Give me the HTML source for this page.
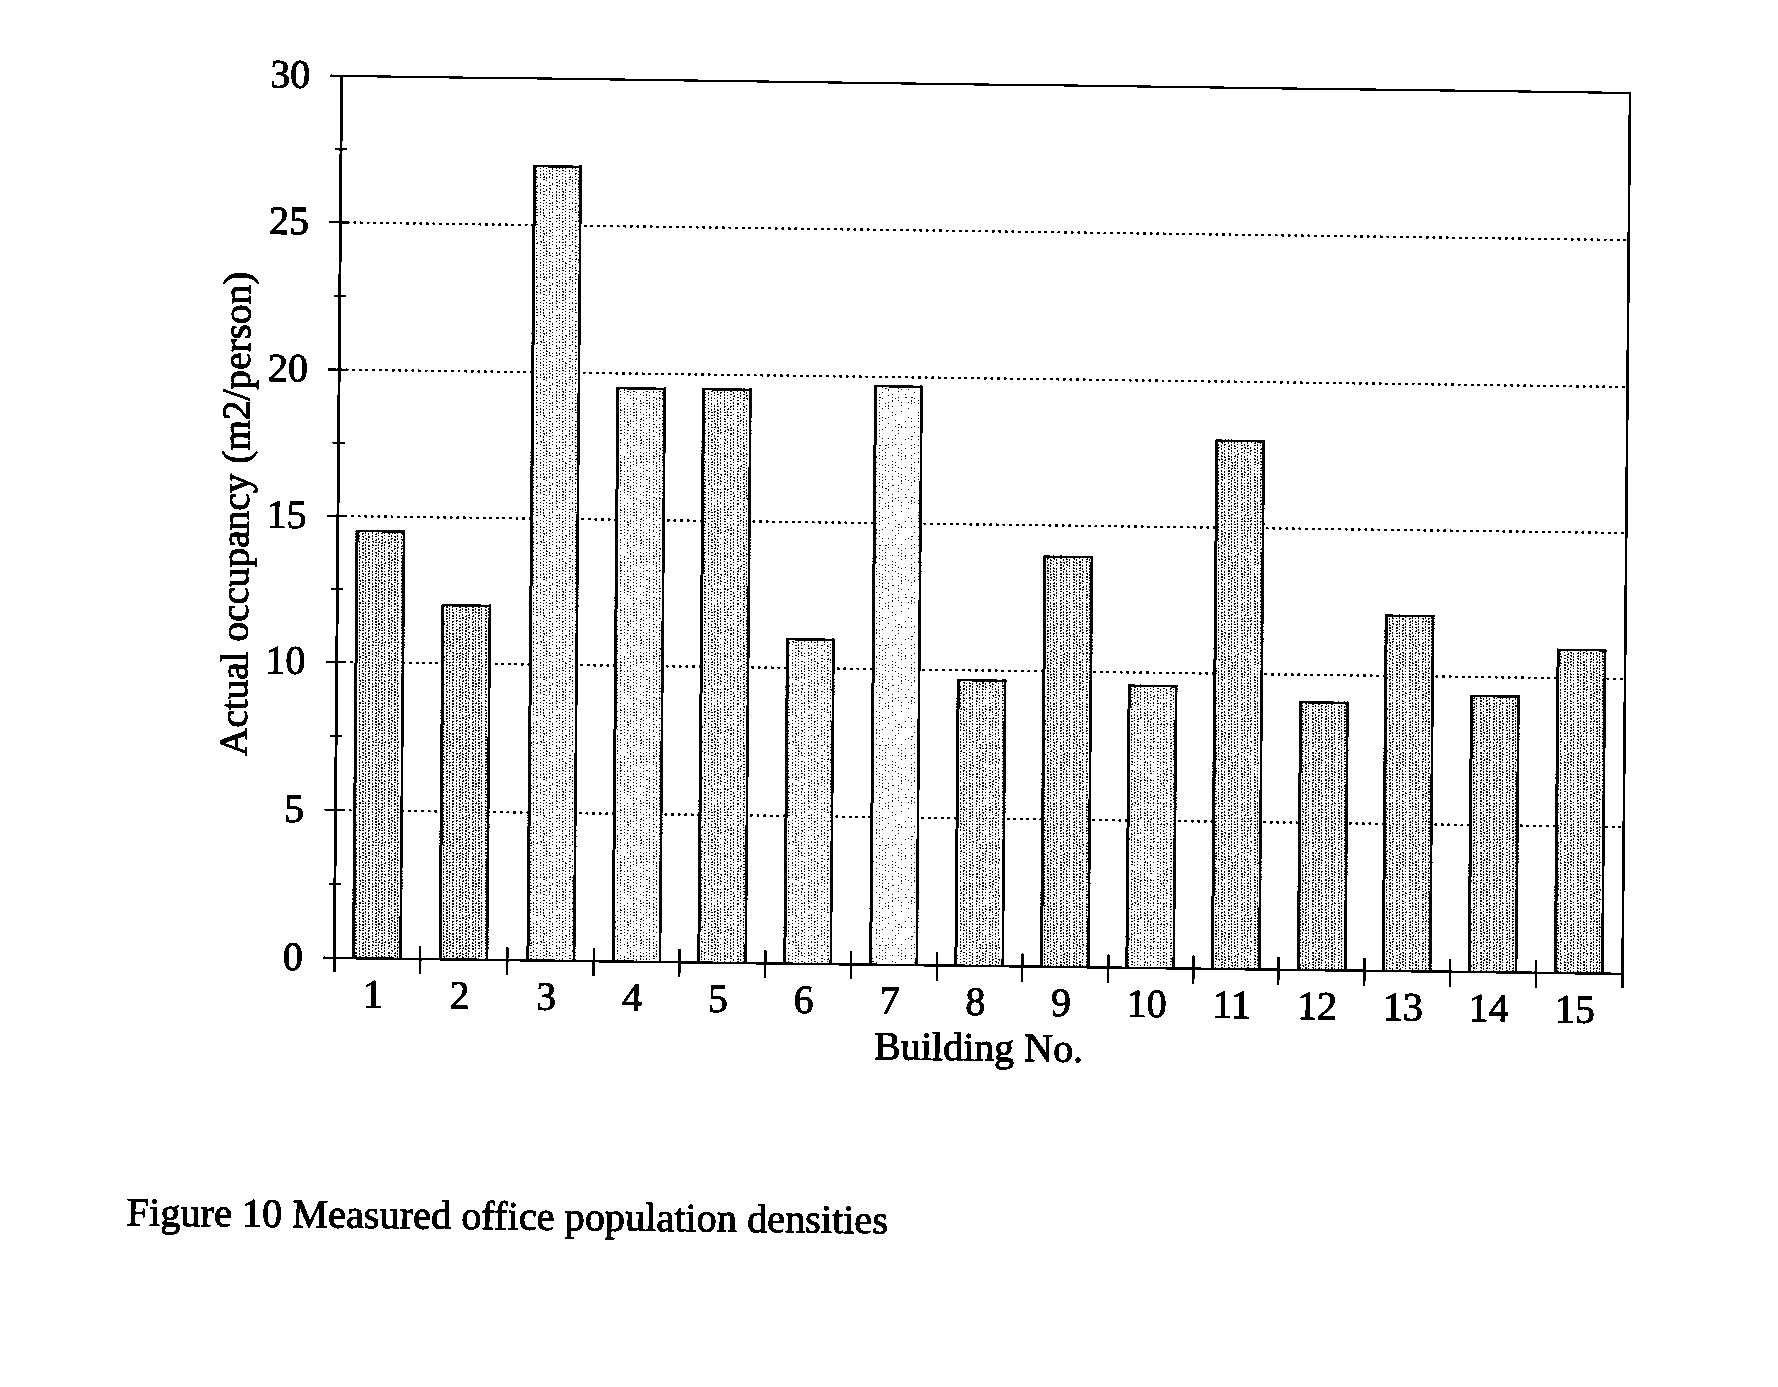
<!DOCTYPE html>
<html><head><meta charset="utf-8"><title>Figure 10 Measured office population densities</title>
<style>
html,body{margin:0;padding:0;background:#fff;}
body{width:1778px;height:1387px;overflow:hidden;font-family:"Liberation Serif",serif;}
svg{display:block;}
text{font-family:"Liberation Serif",serif;fill:#000;stroke:#000;stroke-width:0.8px;stroke-linejoin:round;}
</style></head><body>
<svg width="1778" height="1387" viewBox="0 0 1778 1387">
<defs>
<filter id="thr" x="0" y="0" width="1778" height="1387" filterUnits="userSpaceOnUse" color-interpolation-filters="sRGB"><feColorMatrix type="matrix" values="0.33 0.34 0.33 0 0 0.33 0.34 0.33 0 0 0.33 0.34 0.33 0 0 0 0 0 1 0"/><feComponentTransfer><feFuncR type="discrete" tableValues="0 0 0 1 1"/><feFuncG type="discrete" tableValues="0 0 0 1 1"/><feFuncB type="discrete" tableValues="0 0 0 1 1"/></feComponentTransfer></filter>
<pattern id="p4" width="84" height="100" patternUnits="userSpaceOnUse"><path d="M0 3h1v1h-1zM0 9h1v1h-1zM0 18h1v1h-1zM0 21h1v1h-1zM0 30h1v1h-1zM0 36h1v1h-1zM0 45h1v1h-1zM0 55h1v1h-1zM0 70h1v1h-1zM0 73h1v1h-1zM0 76h1v1h-1zM0 91h1v1h-1zM0 97h1v1h-1zM3 14h1v1h-1zM3 17h1v1h-1zM3 29h1v1h-1zM3 32h1v2h-1zM3 35h1v1h-1zM3 41h1v2h-1zM3 47h1v1h-1zM3 59h1v1h-1zM3 65h1v1h-1zM3 80h1v1h-1zM3 83h1v1h-1zM3 98h1v1h-1zM6 9h1v1h-1zM6 12h1v2h-1zM6 18h1v1h-1zM6 21h1v1h-1zM6 30h1v1h-1zM6 36h1v1h-1zM6 39h1v1h-1zM6 42h1v1h-1zM6 52h2v1h-2zM6 58h1v1h-1zM6 61h1v1h-1zM6 73h1v1h-1zM6 79h1v1h-1zM6 85h1v1h-1zM6 91h1v1h-1zM10 2h1v1h-1zM10 8h1v1h-1zM10 14h1v1h-1zM10 20h1v1h-1zM10 23h1v1h-1zM10 35h1v1h-1zM10 56h1v1h-1zM10 86h1v1h-1zM10 89h1v1h-1zM10 98h1v2h-1zM13 9h1v1h-1zM13 15h1v1h-1zM13 21h1v1h-1zM13 24h1v1h-1zM13 33h1v2h-1zM13 36h1v1h-1zM13 55h1v1h-1zM13 61h1v1h-1zM13 67h1v1h-1zM13 73h1v1h-1zM13 76h1v1h-1zM13 79h1v1h-1zM13 85h1v1h-1zM13 88h1v1h-1zM13 94h2v1h-2zM16 5h1v1h-1zM16 14h1v1h-1zM16 20h1v1h-1zM16 32h1v1h-1zM16 38h1v1h-1zM16 41h1v1h-1zM16 59h1v1h-1zM16 62h1v1h-1zM16 65h1v2h-1zM16 68h1v1h-1zM16 71h1v1h-1zM16 77h1v1h-1zM16 95h1v1h-1zM19 0h1v1h-1zM19 6h1v1h-1zM19 12h1v1h-1zM19 18h1v1h-1zM19 21h1v1h-1zM19 33h1v1h-1zM19 36h1v1h-1zM19 42h1v1h-1zM19 55h1v1h-1zM19 61h1v1h-1zM19 70h1v1h-1zM19 79h1v1h-1zM19 91h1v1h-1zM19 97h1v1h-1zM23 14h1v1h-1zM23 17h1v1h-1zM23 20h1v1h-1zM23 32h1v1h-1zM23 35h1v1h-1zM23 38h1v1h-1zM23 41h1v1h-1zM23 53h1v1h-1zM23 65h1v1h-1zM23 83h1v2h-1zM26 0h2v1h-2zM26 3h2v1h-2zM26 15h1v1h-1zM26 18h1v1h-1zM26 21h1v1h-1zM26 33h1v1h-1zM26 42h1v1h-1zM26 70h1v1h-1zM26 73h1v2h-1zM26 79h1v1h-1zM26 82h1v1h-1zM26 85h1v1h-1zM26 88h2v1h-2zM26 94h1v1h-1zM26 97h1v1h-1zM29 2h1v1h-1zM29 5h1v1h-1zM29 8h1v1h-1zM29 26h1v1h-1zM29 38h1v1h-1zM29 50h1v1h-1zM29 53h1v1h-1zM29 62h1v1h-1zM29 65h1v1h-1zM29 68h1v1h-1zM29 71h1v1h-1zM29 74h1v1h-1zM29 77h1v1h-1zM29 80h1v1h-1zM29 86h1v1h-1zM29 89h1v1h-1zM29 98h1v2h-1zM32 0h1v1h-1zM32 3h1v1h-1zM32 6h1v1h-1zM32 12h1v1h-1zM32 15h1v1h-1zM32 27h1v1h-1zM32 48h1v1h-1zM32 58h1v1h-1zM32 61h2v1h-2zM32 64h1v1h-1zM32 67h1v1h-1zM32 76h1v1h-1zM32 79h1v1h-1zM32 82h1v1h-1zM32 97h1v1h-1zM36 11h1v1h-1zM36 17h1v1h-1zM36 23h1v1h-1zM36 29h1v2h-1zM36 32h1v2h-1zM36 38h1v1h-1zM36 44h1v1h-1zM36 56h1v2h-1zM36 62h1v1h-1zM36 68h1v1h-1zM36 71h1v1h-1zM36 74h1v1h-1zM36 86h1v1h-1zM36 92h1v1h-1zM39 0h1v1h-1zM39 3h1v1h-1zM39 6h1v1h-1zM39 12h1v1h-1zM39 15h1v1h-1zM39 18h1v1h-1zM39 21h1v1h-1zM39 24h1v1h-1zM39 30h1v1h-1zM39 33h1v1h-1zM39 36h1v1h-1zM39 45h2v1h-2zM39 48h1v1h-1zM39 52h1v1h-1zM39 55h1v1h-1zM39 58h1v1h-1zM39 64h1v1h-1zM39 73h1v1h-1zM39 76h1v1h-1zM39 79h1v1h-1zM39 82h1v1h-1zM39 85h1v1h-1zM39 94h1v1h-1zM39 97h2v1h-2zM42 8h1v1h-1zM42 17h1v1h-1zM42 20h1v1h-1zM42 29h1v1h-1zM42 38h1v1h-1zM42 41h1v1h-1zM42 50h1v1h-1zM42 56h1v1h-1zM42 59h1v1h-1zM42 65h1v1h-1zM42 74h1v1h-1zM42 77h1v1h-1zM42 80h1v1h-1zM42 83h1v1h-1zM42 86h1v2h-1zM42 92h1v1h-1zM42 98h1v1h-1zM45 3h1v1h-1zM45 6h1v1h-1zM45 18h1v1h-1zM45 27h1v1h-1zM45 45h2v1h-2zM45 48h1v1h-1zM45 52h1v1h-1zM45 55h1v1h-1zM45 58h1v1h-1zM45 64h1v1h-1zM45 67h1v1h-1zM45 70h1v1h-1zM45 76h1v1h-1zM45 79h1v1h-1zM45 88h2v1h-2zM48 2h1v1h-1zM48 5h1v2h-1zM48 8h1v1h-1zM48 17h1v1h-1zM48 23h1v1h-1zM48 38h1v1h-1zM48 44h1v1h-1zM48 47h1v1h-1zM48 65h1v1h-1zM48 71h1v1h-1zM48 83h1v1h-1zM48 86h1v1h-1zM48 89h1v2h-1zM48 95h1v1h-1zM52 0h1v2h-1zM52 6h1v1h-1zM52 12h1v1h-1zM52 15h1v1h-1zM52 30h1v1h-1zM52 39h1v1h-1zM52 42h1v1h-1zM52 45h1v1h-1zM52 55h1v1h-1zM52 61h1v1h-1zM52 64h1v1h-1zM52 67h1v1h-1zM52 70h1v1h-1zM52 76h1v1h-1zM52 79h1v1h-1zM52 85h2v1h-2zM52 94h1v1h-1zM52 97h1v1h-1zM55 14h1v1h-1zM55 20h1v1h-1zM55 26h1v1h-1zM55 35h1v1h-1zM55 38h1v1h-1zM55 44h1v1h-1zM55 62h1v1h-1zM55 65h1v1h-1zM55 71h1v1h-1zM55 98h1v1h-1zM58 0h1v1h-1zM58 24h2v1h-2zM58 27h1v1h-1zM58 30h1v1h-1zM58 33h1v1h-1zM58 48h1v1h-1zM58 52h1v1h-1zM58 55h1v1h-1zM58 67h1v1h-1zM58 73h1v1h-1zM58 76h1v1h-1zM58 85h1v1h-1zM58 88h1v1h-1zM58 91h1v1h-1zM58 97h1v1h-1zM61 2h1v1h-1zM61 5h1v1h-1zM61 11h1v1h-1zM61 26h1v2h-1zM61 44h1v1h-1zM61 50h1v1h-1zM61 53h1v1h-1zM61 56h1v1h-1zM61 59h1v1h-1zM61 68h1v1h-1zM61 74h1v1h-1zM61 77h1v1h-1zM61 80h1v2h-1zM61 83h1v1h-1zM61 89h1v1h-1zM65 21h1v1h-1zM65 27h1v1h-1zM65 39h1v1h-1zM65 48h1v1h-1zM65 55h1v2h-1zM65 58h1v1h-1zM65 67h1v1h-1zM65 76h1v1h-1zM65 79h1v1h-1zM65 94h1v1h-1zM65 97h2v1h-2zM68 2h1v1h-1zM68 8h1v1h-1zM68 17h1v1h-1zM68 38h1v1h-1zM68 80h1v1h-1zM68 89h1v1h-1zM71 0h1v2h-1zM71 3h1v1h-1zM71 18h1v1h-1zM71 21h1v1h-1zM71 27h1v1h-1zM71 36h2v1h-2zM71 39h1v1h-1zM71 45h1v1h-1zM71 48h1v1h-1zM71 55h1v1h-1zM71 58h1v1h-1zM71 64h1v1h-1zM71 67h1v2h-1zM71 70h1v1h-1zM71 73h1v1h-1zM71 82h1v1h-1zM71 85h1v1h-1zM71 97h2v1h-2zM74 2h1v1h-1zM74 26h1v1h-1zM74 32h1v1h-1zM74 44h1v1h-1zM74 47h1v1h-1zM74 53h1v1h-1zM74 62h1v1h-1zM74 68h1v1h-1zM74 71h1v1h-1zM74 77h1v1h-1zM74 80h1v2h-1zM74 92h1v1h-1zM74 98h1v1h-1zM78 0h1v1h-1zM78 3h1v1h-1zM78 12h1v1h-1zM78 15h1v1h-1zM78 18h1v1h-1zM78 21h1v1h-1zM78 27h1v1h-1zM78 36h1v1h-1zM78 39h1v1h-1zM78 45h1v1h-1zM78 52h1v1h-1zM78 58h1v1h-1zM78 61h1v2h-1zM78 73h1v1h-1zM78 76h1v1h-1zM78 79h1v1h-1zM81 5h1v1h-1zM81 8h1v1h-1zM81 11h1v2h-1zM81 14h1v2h-1zM81 35h1v2h-1zM81 38h1v1h-1zM81 41h1v1h-1zM81 62h1v1h-1zM81 65h1v1h-1zM81 71h1v1h-1zM81 83h1v1h-1zM81 86h1v1h-1zM81 92h1v1h-1z" fill="#000" shape-rendering="crispEdges"/></pattern>
<pattern id="p12" width="84" height="100" patternUnits="userSpaceOnUse"><path d="M0 0h1v1h-1zM0 3m1 0h1v2h-2v-1h1zM0 9h1v2h-1zM0 12h1v1h-1zM0 15h1v1h-1zM0 18h1v1h1v1h-2zM0 21h1v1h-1zM0 24h1v1h-1zM0 27h1v1h-1zM0 30h1v1h-1zM0 33h1v2h-1zM0 36h1v2h-1zM0 39h1v1h-1zM0 42h2v1h-2zM0 45m1 0h1v2h-2v-1h1zM0 55h1v1h-1zM0 58h2v1h-2zM0 61h1v1h-1zM0 64h1v1h-1zM0 67h1v1h-1zM0 70h1v1h-1zM0 73h1v1h-1zM0 76h1v1h-1zM0 82h1v1h-1zM0 85h1v1h-1zM0 88h1v1h-1zM0 91h1v1h-1zM0 97h1v1h-1zM3 2h1v1h-1zM3 8h1v1h-1zM3 11h1v1h-1zM3 14h1v2h-1zM3 17h1v1h-1zM3 20h1v1h-1zM3 26h1v1h-1zM3 29h1v1h-1zM3 32h1v1h-1zM3 35h1v1h-1zM3 38h1v2h-1zM3 41h1v1h-1zM3 44h1v1h-1zM3 47h1v1h-1zM3 50h1v1h-1zM3 53h1v1h-1zM3 56h1v1h-1zM3 59h1v1h-1zM3 62h1v1h-1zM3 68h1v1h-1zM3 71h1v1h-1zM3 74h1v1h-1zM3 83h1v1h-1zM3 92h1v1h-1zM3 95h1v1h-1zM3 98h1v1h-1zM6 0h1v2h-1zM6 3h1v1h-1zM6 6h1v1h-1zM6 9h1v1h-1zM6 12h1v1h-1zM6 15h1v1h-1zM6 18h1v1h-1zM6 21h1v1h-1zM6 24h1v2h-1zM6 27h1v1h-1zM6 30h1v1h-1zM6 36h2v1h-2zM6 39h2v1h-2zM6 42h2v1h-2zM6 45h2v1h-2zM6 48h1v1h-1zM6 52h1v2h-1zM6 55h1v2h-1zM6 61h1v2h-1zM6 64h1v2h-1zM6 67h1v1h-1zM6 70m1 0h1v2h-2v-1h1zM6 73h2v2h-1v-1h-1zM6 79h2v1h-2zM6 85h1v1h-1zM6 88h1v1h-1zM6 91h1v1h-1zM6 97h1v1h-1zM10 2h1v1h-1zM10 5h1v1h-1zM10 8h1v1h-1zM10 14h1v1h-1zM10 17h1v1h-1zM10 20h1v2h-1zM10 23h1v2h-1zM10 29h1v2h-1zM10 32h1v1h-1zM10 38h1v2h-1zM10 41h1v1h-1zM10 44h1v1h-1zM10 47h1v1h-1zM10 50h1v1h-1zM10 53h1v1h-1zM10 56h1v1h-1zM10 59h1v2h-1zM10 62h1v1h-1zM10 65h1v2h-1zM10 68h1v2h-1zM10 77h1v1h-1zM10 86h1v1h-1zM10 89h1v1h-1zM10 92h1v1h-1zM10 95h1v1h-1zM10 98h1v2h-1zM13 0h2v1h-2zM13 3h1v1h-1zM13 6h1v1h-1zM13 9h1v1h-1zM13 12h1v2h-1zM13 15h1v1h-1zM13 18h1v1h-1zM13 21h1v1h-1zM13 24h1v1h-1zM13 27h2v1h-2zM13 30h1v1h-1zM13 33h2v1h-2zM13 36h1v1h-1zM13 39h1v1h-1zM13 45h1v1h-1zM13 48h1v1h-1zM13 52h1v2h-1zM13 55h2v1h-2zM13 58h1v1h-1zM13 61h1v1h-1zM13 64h2v1h-2zM13 67h2v1h-2zM13 70h1v1h-1zM13 73h1v1h-1zM13 76m1 0h1v2h-2v-1h1zM13 79h1v1h-1zM13 82h2v1h-2zM13 85h1v1h-1zM13 91h2v1h-2zM13 94h2v1h-2zM13 97h1v1h-1zM16 5h1v1h-1zM16 8h1v2h-1zM16 14h1v1h-1zM16 17h1v1h-1zM16 20h1v1h-1zM16 23h1v2h-1zM16 29h1v1h-1zM16 32h1v2h-1zM16 35h1v1h-1zM16 41h1v1h-1zM16 44h1v1h-1zM16 47h1v1h-1zM16 53h1v1h-1zM16 56h1v1h-1zM16 62h1v1h-1zM16 65h1v2h-1zM16 68h1v1h-1zM16 71h1v1h-1zM16 74h1v2h-1zM16 77h1v1h-1zM16 80h1v2h-1zM16 83h1v1h-1zM16 86h1v2h-1zM16 89h1v1h-1zM16 92h1v1h-1zM16 95h1v2h-1zM16 98h1v1h-1zM19 0h1v1h-1zM19 3h1v1h1v1h-2zM19 6h1v1h-1zM19 9h1v2h-1zM19 12h1v1h-1zM19 18h1v2h-1zM19 21h1v2h-1zM19 24h2v1h-2zM19 27h2v1h-2zM19 33h1v2h-1zM19 36h1v1h-1zM19 39h1v1h-1zM19 45h1v1h-1zM19 48h1v1h-1zM19 52h1v2h-1zM19 55h1v1h-1zM19 58h1v1h-1zM19 61h1v1h-1zM19 64h1v1h-1zM19 67h2v1h-2zM19 70h1v2h-1zM19 73h2v1h-2zM19 76h2v2h-1v-1h-1zM19 82h1v1h-1zM19 85h1v1h-1zM19 91h1v1h-1zM19 94h1v1h-1zM19 97h1v1h-1zM23 2h1v1h-1zM23 5h1v2h-1zM23 8h1v1h-1zM23 14h1v2h-1zM23 17h1v1h-1zM23 26h1v1h-1zM23 29h1v2h-1zM23 32h1v1h-1zM23 35h1v2h-1zM23 38h1v1h-1zM23 44h1v1h-1zM23 47h1v2h-1zM23 50h1v1h-1zM23 53h1v1h-1zM23 65h1v1h-1zM23 68h1v1h-1zM23 71h1v1h-1zM23 74h1v1h-1zM23 77h1v1h-1zM23 83h1v1h-1zM23 86h1v2h-1zM23 89h1v1h-1zM23 95h1v1h-1zM26 0h1v1h-1zM26 6h1v1h-1zM26 9h1v1h-1zM26 12h1v1h-1zM26 15h2v1h-2zM26 18h1v1h-1zM26 21h2v2h-1v-1h-1zM26 24h1v1h-1zM26 27h2v2h-1v-1h-1zM26 30h1v1h-1zM26 33h1v2h-1zM26 36h2v1h-2zM26 39h1v2h-1zM26 42h1v1h-1zM26 45h1v1h-1zM26 48h1v1h-1zM26 52h1v2h-1zM26 55h1v1h-1zM26 58h1v1h-1zM26 61h1v1h-1zM26 64h1v2h-1zM26 70h1v1h-1zM26 73h1v1h-1zM26 76h1v1h-1zM26 82h1v1h-1zM26 85h1v1h-1zM26 88h1v2h-1zM26 91h1v2h-1zM26 94h1v1h-1zM26 97h1v2h-1zM29 2h1v1h-1zM29 11h1v1h-1zM29 17h1v1h-1zM29 20h1v1h-1zM29 26h1v1h-1zM29 29h1v1h-1zM29 35h1v2h-1zM29 38h1v2h-1zM29 41h1v1h-1zM29 44h1v1h-1zM29 47h1v1h-1zM29 50h1v2h-1zM29 53h1v1h-1zM29 59h1v1h-1zM29 62h1v1h-1zM29 68h1v1h-1zM29 71h1v1h-1zM29 74h1v2h-1zM29 77h1v2h-1zM29 80h1v1h-1zM29 83h1v1h-1zM29 89h1v1h-1zM29 92h1v1h-1zM29 95h1v1h-1zM29 98h1v1h-1zM32 0h1v1h-1zM32 3h1v1h-1zM32 6h1v1h-1zM32 9h1v1h1v1h-2zM32 12h1v1h-1zM32 15h1v1h-1zM32 18h1v1h-1zM32 21h1v1h-1zM32 24h1v1h-1zM32 27h1v1h-1zM32 30h2v1h-2zM32 33h2v1h-2zM32 39h1v2h-1zM32 42h1v1h-1zM32 45h1v1h-1zM32 48h1v1h-1zM32 55h1v1h-1zM32 58h1v1h-1zM32 61h1v1h1v1h-2zM32 64h1v1h1v1h-2zM32 67h1v2h-1zM32 70h2v1h-1v1h-1zM32 73h1v1h-1zM32 76h2v1h-2zM32 79h1v2h-1zM32 82h1v2h-1zM32 85h1v1h-1zM32 91h1v1h-1zM32 94h1v1h-1zM32 97h1v1h-1zM36 5h1v1h-1zM36 8h1v2h-1zM36 11h1v2h-1zM36 14h1v1h-1zM36 17h1v1h-1zM36 20h1v2h-1zM36 26h1v1h-1zM36 29h1v1h-1zM36 32h1v1h-1zM36 35h1v1h-1zM36 38h1v1h-1zM36 44h1v1h-1zM36 56h1v2h-1zM36 59h1v1h-1zM36 62h1v2h-1zM36 65h1v1h-1zM36 71h1v1h-1zM36 74h1v1h-1zM36 80h1v1h-1zM36 83h1v2h-1zM36 86h1v1h-1zM36 89h1v2h-1zM36 92h1v1h-1zM36 98h1v1h-1zM39 3h1v1h-1zM39 6h1v1h-1zM39 9h1v1h-1zM39 12h1v1h-1zM39 15h1v1h-1zM39 18h1v1h-1zM39 21h1v1h1v1h-2zM39 24h2v2h-1v-1h-1zM39 27h1v1h-1zM39 30h2v1h-2zM39 33h1v1h-1zM39 39h1v1h-1zM39 42h1v2h-1zM39 45h2v1h-1v1h-1zM39 48h1v1h-1zM39 52h1v1h-1zM39 58h2v1h-2zM39 61h1v1h-1zM39 67h1v1h-1zM39 70h1v2h-1zM39 76h2v1h-2zM39 79h2v1h-2zM39 82h2v1h-2zM39 85h1v2h-1zM39 88h2v1h-2zM39 91h2v1h-2zM39 94h1v1h-1zM42 8h1v1h-1zM42 11h1v1h-1zM42 14h1v1h-1zM42 20h1v2h-1zM42 23h1v1h-1zM42 26h1v1h-1zM42 35h1v2h-1zM42 38h1v1h-1zM42 41h1v1h-1zM42 47h1v1h-1zM42 50h1v2h-1zM42 53h1v2h-1zM42 56h1v1h-1zM42 62h1v1h-1zM42 65h1v2h-1zM42 68h1v1h-1zM42 71h1v1h-1zM42 77h1v1h-1zM42 80h1v1h-1zM42 86h1v2h-1zM42 89h1v1h-1zM42 92h1v1h-1zM42 95h1v1h-1zM42 98h1v1h-1zM45 0h1v1h-1zM45 3h2v1h-1v1h-1zM45 6h1v1h-1zM45 9h2v1h-2zM45 12h2v1h-2zM45 15h2v1h-2zM45 21h1v1h-1zM45 27h1v1h-1zM45 30h1v1h-1zM45 33h2v1h-2zM45 36h2v1h-2zM45 39h1v1h-1zM45 42h1v1h-1zM45 45h2v1h-2zM45 52h1v1h-1zM45 55h1v2h-1zM45 58h1v1h-1zM45 61h1v1h-1zM45 64h1v1h-1zM45 70h1v1h-1zM45 73h1v2h-1zM45 76h2v1h-2zM45 79h1v1h-1zM45 82h1v1h-1zM45 85h1v1h-1zM45 88h1v1h-1zM45 91h2v1h-2zM45 94h1v1h-1zM45 97h1v2h-1zM48 5h1v1h-1zM48 8h1v1h-1zM48 11h1v2h-1zM48 14h1v2h-1zM48 17h1v2h-1zM48 20h1v1h-1zM48 23h1v1h-1zM48 29h1v2h-1zM48 32h1v1h-1zM48 35h1v1h-1zM48 38h1v2h-1zM48 41h1v1h-1zM48 44h1v1h-1zM48 50h1v1h-1zM48 56h1v1h-1zM48 59h1v2h-1zM48 62h1v2h-1zM48 65h1v1h-1zM48 71h1v1h-1zM48 74h1v1h-1zM48 77h1v1h-1zM48 80h1v1h-1zM48 83h1v1h-1zM48 86h1v1h-1zM48 92h1v1h-1zM48 98h1v2h-1zM52 0h1v2h-1zM52 3h2v1h-2zM52 6h1v1h-1zM52 9h1v1h-1zM52 12h1v1h-1zM52 18m1 0h1v2h-2v-1h1zM52 21h1v1h-1zM52 24h1v2h-1zM52 27h1v1h-1zM52 30h2v1h-2zM52 33h1v1h-1zM52 36h1v2h-1zM52 39m1 0h1v2h-2v-1h1zM52 42m1 0h1v2h-2v-1h1zM52 45h1v1h-1zM52 48h1v1h-1zM52 52h1v1h-1zM52 55h1v1h1v1h-2zM52 58h1v2h-1zM52 61m1 0h1v2h-2v-1h1zM52 67h1v1h-1zM52 73h1v1h-1zM52 76h2v1h-2zM52 79h1v1h-1zM52 82h1v1h-1zM52 85h1v2h-1zM52 94h1v1h-1zM55 2h1v1h-1zM55 5h1v1h-1zM55 14h1v1h-1zM55 17h1v1h-1zM55 20h1v1h-1zM55 23h1v1h-1zM55 26h1v1h-1zM55 32h1v1h-1zM55 35h1v1h-1zM55 41h1v1h-1zM55 44h1v1h-1zM55 47h1v1h-1zM55 53h1v1h-1zM55 56h1v1h-1zM55 59h1v1h-1zM55 62h1v1h-1zM55 65h1v1h-1zM55 68h1v1h-1zM55 71h1v1h-1zM55 74h1v1h-1zM55 77h1v1h-1zM55 86h1v1h-1zM55 92h1v1h-1zM55 95h1v1h-1zM58 0h2v1h-2zM58 3h2v1h-2zM58 6h1v1h-1zM58 9h1v1h-1zM58 12h1v1h-1zM58 15h1v1h-1zM58 18h1v1h-1zM58 24h1v1h-1zM58 33h1v1h-1zM58 36h1v1h-1zM58 39h2v1h-2zM58 42h1v1h-1zM58 45h1v1h-1zM58 48h1v1h-1zM58 52h1v1h-1zM58 55h1v1h-1zM58 58h1v2h-1zM58 61h2v1h-2zM58 64h1v1h-1zM58 70h2v1h-2zM58 76h1v1h-1zM58 79h2v1h-2zM58 85h1v1h-1zM58 88h2v1h-2zM58 91h2v1h-2zM58 94h1v2h-1zM58 97h1v1h-1zM61 2h1v2h-1zM61 5h1v2h-1zM61 8h1v1h-1zM61 14h1v2h-1zM61 17h1v1h-1zM61 23h1v1h-1zM61 26h1v1h-1zM61 29h1v2h-1zM61 32h1v1h-1zM61 35h1v1h-1zM61 38h1v2h-1zM61 41h1v2h-1zM61 44h1v2h-1zM61 47h1v2h-1zM61 50h1v1h-1zM61 53h1v1h-1zM61 56h1v1h-1zM61 59h1v1h-1zM61 62h1v1h-1zM61 68h1v1h-1zM61 71h1v1h-1zM61 77h1v2h-1zM61 80h1v2h-1zM61 83h1v1h-1zM61 86h1v2h-1zM61 89h1v1h-1zM61 92h1v1h-1zM61 95h1v1h-1zM61 98h1v1h-1zM65 0h1v1h-1zM65 3h1v2h-1zM65 6h1v1h1v1h-2zM65 9h1v1h-1zM65 12h1v2h-1zM65 15h1v1h-1zM65 18h1v2h-1zM65 21h1v1h-1zM65 24h2v1h-2zM65 27h1v1h-1zM65 30h1v2h-1zM65 36h2v1h-2zM65 39h1v1h-1zM65 42h1v2h-1zM65 45h1v1h-1zM65 48h2v1h-2zM65 52h1v1h-1zM65 55h1v1h1v1h-2zM65 58h2v1h-2zM65 61h1v2h-1zM65 64h1v1h-1zM65 70h1v1h-1zM65 73h1v1h-1zM65 76h1v1h-1zM65 79h2v1h-2zM65 82h1v1h-1zM65 85h1v1h-1zM65 88h2v1h-2zM65 91h1v2h-1zM65 97h2v1h-2zM68 2h1v1h-1zM68 5h1v1h-1zM68 8h1v2h-1zM68 11h1v2h-1zM68 14h1v2h-1zM68 20h1v1h-1zM68 26h1v2h-1zM68 32h1v1h-1zM68 41h1v1h-1zM68 44h1v2h-1zM68 47h1v1h-1zM68 50h1v2h-1zM68 53h1v2h-1zM68 56h1v1h-1zM68 62h1v2h-1zM68 65h1v2h-1zM68 68h1v1h-1zM68 71h1v2h-1zM68 74h1v1h-1zM68 77h1v1h-1zM68 80h1v2h-1zM68 83h1v2h-1zM68 89h1v1h-1zM68 92h1v1h-1zM68 98h1v2h-1zM71 0h1v1h-1zM71 3h1v2h-1zM71 6h1v1h-1zM71 9h1v1h-1zM71 15h1v1h-1zM71 18h2v1h-2zM71 24h1v1h-1zM71 27h1v1h-1zM71 30h2v1h-2zM71 33h1v2h-1zM71 36h1v1h-1zM71 39h1v1h-1zM71 42h1v1h-1zM71 45h1v1h-1zM71 48h2v2h-1v-1h-1zM71 52h1v1h-1zM71 55h2v1h-1v1h-1zM71 58h1v2h-1zM71 61h1v1h-1zM71 64h1v1h-1zM71 67h1v1h-1zM71 70h2v1h-1v1h-1zM71 76h1v1h-1zM71 79h1v1h-1zM71 82h1v1h-1zM71 85h1v2h-1zM71 88h2v1h-2zM71 91h2v1h-2zM71 94h1v1h-1zM71 97h1v1h1v1h-2zM74 5h1v2h-1zM74 11h1v1h-1zM74 14h1v1h-1zM74 17h1v1h-1zM74 20h1v1h-1zM74 23h1v2h-1zM74 26h1v1h-1zM74 29h1v1h-1zM74 32h1v2h-1zM74 35h1v1h-1zM74 41h1v1h-1zM74 44h1v2h-1zM74 47h1v1h-1zM74 50h1v1h-1zM74 53h1v1h-1zM74 56h1v2h-1zM74 59h1v2h-1zM74 62h1v1h-1zM74 65h1v1h-1zM74 71h1v1h-1zM74 74h1v1h-1zM74 77h1v2h-1zM74 80h1v1h-1zM74 83h1v1h-1zM74 86h1v1h-1zM74 89h1v1h-1zM74 92h1v2h-1zM74 95h1v1h-1zM74 98h1v2h-1zM78 0h2v1h-2zM78 3h1v1h-1zM78 6h1v1h-1zM78 12h1v1h-1zM78 15h1v1h-1zM78 18h2v1h-1v1h-1zM78 21h1v2h-1zM78 24h1v2h-1zM78 27h1v1h-1zM78 30h1v1h-1zM78 33h1v2h-1zM78 36h1v1h-1zM78 39h1v2h-1zM78 42h2v1h-2zM78 45h1v2h-1zM78 48h1v1h-1zM78 52h1v1h-1zM78 55h1v1h-1zM78 58h1v1h-1zM78 61h1v1h-1zM78 64h1v1h-1zM78 70h1v2h-1zM78 73h1v1h-1zM78 76h1v1h-1zM78 82h2v1h-2zM78 88h2v1h-2zM78 94h2v2h-1v-1h-1zM78 97h1v1h-1zM81 2h1v1h-1zM81 5h1v1h-1zM81 8h1v1h-1zM81 11h1v1h-1zM81 14h1v1h-1zM81 17h1v1h-1zM81 20h1v2h-1zM81 23h1v2h-1zM81 26h1v1h-1zM81 41h1v1h-1zM81 44h1v1h-1zM81 47h1v1h-1zM81 50h1v1h-1zM81 53h1v1h-1zM81 59h1v1h-1zM81 62h1v1h-1zM81 68h1v1h-1zM81 74h1v2h-1zM81 77h1v1h-1zM81 80h1v1h-1zM81 83h1v1h-1zM81 86h1v2h-1zM81 89h1v1h-1zM81 92h1v2h-1zM81 95h1v1h-1zM81 98h1v2h-1z" fill="#000" shape-rendering="crispEdges"/></pattern>
<pattern id="p14" width="84" height="100" patternUnits="userSpaceOnUse"><path d="M0 0h1v2h-1zM0 3h1v1h-1zM0 6h1v2h-1zM0 9h2v1h-2zM0 12h1v1h-1zM0 15h1v1h-1zM0 18h1v2h-1zM0 21h1v1h-1zM0 24h2v1h-2zM0 30h1v2h-1zM0 33h2v1h-2zM0 36h1v2h-1zM0 39h2v1h-2zM0 42h2v1h-2zM0 45h2v1h-2zM0 48h2v1h-2zM0 52h1v1h-1zM0 55h2v1h-2zM0 58h1v1h-1zM0 61h1v2h-1zM0 64h1v2h-1zM0 67h2v1h-2zM0 70h2v1h-2zM0 73h2v1h-2zM0 76h2v1h-2zM0 79h1v1h-1zM0 82h2v1h-2zM0 85h1v1h1v1h-2zM0 88h1v2h-1zM0 91h2v1h-2zM0 94h2v1h-2zM0 97h2v1h-2zM3 2h1v1h-1zM3 5h1v1h-1zM3 8h1v1h-1zM3 14h2v1h-1v1h-1zM3 17h1v2h-1zM3 20h1v2h-1zM3 23h1v1h-1zM3 26h1v2h-1zM3 29h1v2h-1zM3 32h1v1h-1zM3 35h1v1h-1zM3 38h1v1h-1zM3 41h1v1h-1zM3 44h1v1h-1zM3 47h1v2h-1zM3 50h1v2h-1zM3 53h1v2h-1zM3 56h1v1h-1zM3 59h1v1h-1zM3 62h1v1h-1zM3 65h1v1h-1zM3 68h2v2h-1v-1h-1zM3 71h1v1h-1zM3 77h1v1h-1zM3 83h1v1h-1zM3 86h1v1h-1zM3 89h1v1h-1zM3 92h1v1h-1zM3 95h1v1h-1zM3 98h1v1h-1zM6 0m1 0h1v2h-2v-1h1zM6 6h2v1h-1v1h-1zM6 9h1v1h-1zM6 12h2v1h-2zM6 15h1v2h-1zM6 18h1v1h-1zM6 24h1v1h-1zM6 27h2v1h-2zM6 30h2v1h-2zM6 33h1v1h-1zM6 36h1v2h-1zM6 39h1v1h-1zM6 42h2v1h-2zM6 45h2v1h-2zM6 48h1v2h-1zM6 52h1v2h-1zM6 55h2v1h-2zM6 58h1v2h-1zM6 61h2v1h-2zM6 64h2v1h-2zM6 67h1v2h-1zM6 70h1v1h-1zM6 76h2v1h-2zM6 79h1v1h-1zM6 82h1v1h-1zM6 85h2v1h-2zM6 88h1v2h-1zM6 91h1v1h-1zM6 94h1v1h-1zM6 97h1v1h-1zM10 2h1v2h-1zM10 5h1v2h-1zM10 8h1v2h-1zM10 17h1v1h-1zM10 20h1v2h-1zM10 23h1v2h-1zM10 26h1v1h-1zM10 29h1v2h-1zM10 35h1v2h-1zM10 38h1v1h-1zM10 41h1v1h-1zM10 44h1v1h-1zM10 47h1v2h-1zM10 50h1v1h-1zM10 53h1v2h-1zM10 56h1v1h1v1h-2zM10 59h1v1h-1zM10 62h1v1h-1zM10 65h1v2h-1zM10 68h1v1h-1zM10 71m1 0h1v2h-2v-1h1zM10 74h1v2h-1zM10 77h1v2h-1zM10 80h1v1h-1zM10 83h1v1h-1zM10 86h1v2h-1zM10 89h1v1h-1zM10 92h1v1h-1zM10 98h1v1h-1zM13 3h1v1h-1zM13 6h1v1h-1zM13 9h1v1h-1zM13 12h2v1h-2zM13 15h2v1h-2zM13 18h1v2h-1zM13 21h2v1h-2zM13 24h1v1h-1zM13 27h2v1h-2zM13 30h1v2h-1zM13 33h1v2h-1zM13 36m1 0h1v2h-2v-1h1zM13 39h1v1h-1zM13 42h1v1h-1zM13 45h1v2h-1zM13 48h2v1h-2zM13 55h2v1h-2zM13 58h2v1h-2zM13 64h1v1h-1zM13 67h2v1h-2zM13 70h1v1h-1zM13 73h2v1h-2zM13 76h1v2h-1zM13 79h1v2h-1zM13 85h2v1h-2zM13 88h1v1h-1zM13 91h2v1h-2zM13 94h1v1h-1zM13 97h1v1h-1zM16 5h1v1h-1zM16 8h1v1h-1zM16 11h1v1h-1zM16 14h1v1h-1zM16 20h1v1h-1zM16 23h1v1h-1zM16 26h1v2h-1zM16 32h1v1h-1zM16 35h1v1h-1zM16 38h1v1h-1zM16 41h1v1h-1zM16 44h1v1h-1zM16 50h1v1h-1zM16 56h1v2h-1zM16 59h1v2h-1zM16 62h1v1h-1zM16 68h1v1h-1zM16 71h1v1h-1zM16 74h1v1h-1zM16 77h1v1h-1zM16 80h1v1h-1zM16 83h1v1h-1zM16 86h1v1h-1zM16 89h1v1h-1zM16 92h1v1h-1zM16 95h1v1h-1zM16 98h1v2h-1zM19 3h2v1h-2zM19 6h2v1h-2zM19 9h1v2h-1zM19 15h2v1h-2zM19 18h2v1h-2zM19 21h1v2h-1zM19 24h2v1h-2zM19 27h2v1h-2zM19 33h1v1h-1zM19 36h2v1h-2zM19 39h2v1h-2zM19 42h1v1h-1zM19 45h1v1h-1zM19 48h1v1h-1zM19 52h2v1h-2zM19 55h2v1h-2zM19 58h1v1h-1zM19 61h1v1h-1zM19 64h1v1h-1zM19 67h2v1h-2zM19 70h1v2h-1zM19 73h1v1h-1zM19 76h1v2h-1zM19 79h1v2h-1zM19 82h1v1h-1zM19 85h1v1h-1zM19 88h1v1h-1zM19 91h1v1h-1zM19 97h2v2h-1v-1h-1zM23 2h1v1h-1zM23 8h1v2h-1zM23 11h1v1h-1zM23 14m1 0h1v2h-2v-1h1zM23 17h1v1h-1zM23 20h1v1h-1zM23 23h1v1h-1zM23 26h1v2h-1zM23 32h1v1h-1zM23 35h1v1h-1zM23 38h1v1h-1zM23 44h1v1h-1zM23 47h1v1h-1zM23 53h1v1h-1zM23 56h1v2h-1zM23 59h1v1h-1zM23 62h1v1h-1zM23 68h1v2h-1zM23 71h1v1h-1zM23 74h1v1h-1zM23 77h1v1h-1zM23 80h1v1h-1zM23 83h1v1h-1zM23 86h1v2h-1zM23 89h1v1h-1zM23 95h1v1h-1zM23 98h1v1h-1zM26 0h1v1h-1zM26 3h2v1h-2zM26 6h1v1h-1zM26 9h1v2h-1zM26 12h1v1h-1zM26 18h1v1h-1zM26 21h1v1h-1zM26 24h1v1h-1zM26 27h2v1h-2zM26 30h2v1h-2zM26 33h2v1h-2zM26 36h1v1h-1zM26 39h1v2h-1zM26 42m1 0h1v2h-2v-1h1zM26 45h2v1h-2zM26 48h1v1h-1zM26 52h2v1h-2zM26 55h2v1h-2zM26 58h2v1h-2zM26 61h1v2h-1zM26 64h2v1h-2zM26 67h1v1h-1zM26 70h1v2h-1zM26 73h2v1h-2zM26 76h1v2h-1zM26 79h1v1h-1zM26 82h1v1h-1zM26 85h2v1h-2zM26 88h2v1h-2zM26 91h1v1h1v1h-2zM26 94h1v1h-1zM29 2h1v2h-1zM29 5h1v1h-1zM29 8h1v2h-1zM29 11h1v1h-1zM29 14h1v1h-1zM29 23h1v1h-1zM29 26h1v2h-1zM29 29h1v1h-1zM29 32h1v2h-1zM29 38h1v1h-1zM29 41h1v2h-1zM29 44h1v1h-1zM29 47h1v1h-1zM29 50h1v2h-1zM29 56h1v1h-1zM29 59h1v2h-1zM29 65h1v1h-1zM29 68h1v1h-1zM29 71h1v1h-1zM29 74h1v2h-1zM29 77h1v1h-1zM29 80h1v1h-1zM29 83h1v1h-1zM29 86h1v2h-1zM29 89h1v1h-1zM29 95h1v1h-1zM29 98h1v1h-1zM32 0h2v1h-2zM32 3h1v1h-1zM32 6h1v2h-1zM32 9h2v1h-2zM32 12h2v1h-2zM32 15h2v1h-2zM32 21h1v2h-1zM32 24h2v1h-2zM32 27h1v1h-1zM32 30h1v2h-1zM32 33h1v1h-1zM32 36h1v1h-1zM32 39h1v1h-1zM32 42m1 0h1v2h-2v-1h1zM32 48h1v1h-1zM32 52h1v1h-1zM32 55h2v1h-2zM32 58h1v2h-1zM32 61h1v1h-1zM32 64h1v1h-1zM32 67h1v1h-1zM32 70h1v2h-1zM32 73h1v1h-1zM32 76h1v1h1v1h-2zM32 79h1v1h-1zM32 82h1v1h-1zM32 85m1 0h1v2h-2v-1h1zM32 88h1v1h-1zM32 91h1v1h1v1h-2zM32 94h1v1h-1zM32 97h1v2h-1zM36 2h1v1h-1zM36 5h1v1h-1zM36 8h1v2h-1zM36 11h1v2h-1zM36 14h1v1h-1zM36 20h1v1h-1zM36 23h1v1h-1zM36 26h1v2h-1zM36 29h1v1h-1zM36 32h1v1h-1zM36 35h1v2h-1zM36 41h2v2h-1v-1h-1zM36 44h1v1h-1zM36 50h1v1h-1zM36 53h1v1h-1zM36 56h1v1h-1zM36 59h1v1h-1zM36 62h1v2h-1zM36 65h1v1h-1zM36 68h1v1h-1zM36 71h1v1h-1zM36 74h1v2h-1zM36 77h1v1h-1zM36 83h1v2h-1zM36 86h1v1h-1zM36 89h1v2h-1zM36 92h1v2h-1zM36 98h1v1h-1zM39 0h2v1h-2zM39 3h1v1h-1zM39 6h1v1h-1zM39 9h1v2h-1zM39 12h1v2h-1zM39 15h2v2h-1v-1h-1zM39 18h1v1h-1zM39 21h1v1h-1zM39 27h2v1h-2zM39 30h1v2h-1zM39 33h2v2h-1v-1h-1zM39 36h1v2h-1zM39 39h1v2h-1zM39 42h2v1h-2zM39 45h2v1h-2zM39 48h2v1h-2zM39 52h1v1h-1zM39 55h2v1h-2zM39 58h1v1h-1zM39 61h1v1h-1zM39 64h1v2h-1zM39 67h1v1h-1zM39 70h1v1h-1zM39 73h1v2h-1zM39 76m1 0h1v2h-2v-1h1zM39 79h2v1h-2zM39 85h2v1h-2zM39 88h1v1h-1zM39 91h2v1h-2zM39 94h2v1h-2zM39 97h1v1h-1zM42 2h1v1h-1zM42 5h1v1h-1zM42 8h1v1h-1zM42 17h1v1h-1zM42 20h1v1h-1zM42 23h1v1h-1zM42 26h1v1h-1zM42 29h1v1h-1zM42 32h1v2h-1zM42 35h1v1h-1zM42 41h1v1h-1zM42 44h1v2h-1zM42 47h1v2h-1zM42 50h1v1h1v1h-2zM42 53h1v2h-1zM42 56h1v1h-1zM42 59h1v1h-1zM42 62h1v1h-1zM42 65h1v1h-1zM42 68h1v1h-1zM42 71h1v1h-1zM42 74h1v1h-1zM42 77h1v2h-1zM42 80h1v1h-1zM42 86h1v1h-1zM42 89h1v2h-1zM42 95h1v1h-1zM42 98h1v1h-1zM45 0h1v1h-1zM45 3h2v1h-2zM45 6h1v1h-1zM45 9h1v1h-1zM45 12h1v2h-1zM45 15h1v1h-1zM45 18h2v1h-2zM45 21h2v1h-2zM45 24h1v1h-1zM45 27h1v1h-1zM45 30h2v2h-1v-1h-1zM45 33h1v1h-1zM45 36h2v1h-2zM45 39h1v1h-1zM45 42h1v2h-1zM45 45h1v1h-1zM45 48h2v1h-2zM45 52h1v2h-1zM45 55h2v1h-2zM45 61h2v1h-2zM45 64h1v1h-1zM45 67h1v1h-1zM45 70h1v2h-1zM45 73h2v1h-2zM45 76h1v2h-1zM45 82h1v1h-1zM45 85h2v1h-2zM45 88h2v2h-1v-1h-1zM45 91h1v2h-1zM45 94h1v1h-1zM48 2h1v2h-1zM48 5h1v1h-1zM48 8h1v2h-1zM48 11h1v2h-1zM48 17h1v1h-1zM48 23h1v2h-1zM48 26h1v1h-1zM48 29h1v1h-1zM48 32h1v1h-1zM48 35h1v1h-1zM48 38h1v1h-1zM48 41h1v1h-1zM48 44h1v1h-1zM48 53h1v1h-1zM48 56h1v1h-1zM48 62h1v1h-1zM48 65h1v2h-1zM48 68h1v2h-1zM48 71h1v1h-1zM48 74h1v2h-1zM48 77h1v2h-1zM48 83h1v2h-1zM48 92h1v1h-1zM48 95h1v2h-1zM48 98h1v1h-1zM52 0h1v1h1v1h-2zM52 3h1v1h-1zM52 6h2v2h-1v-1h-1zM52 9h1v1h-1zM52 15h2v1h-2zM52 18h2v1h-2zM52 21h1v1h-1zM52 27h2v1h-2zM52 30h1v1h-1zM52 36h1v1h-1zM52 39h1v1h-1zM52 42h1v1h-1zM52 45h1v2h-1zM52 48h2v1h-2zM52 52h1v2h-1zM52 55h2v1h-2zM52 58h1v1h-1zM52 61h1v1h-1zM52 64h1v1h-1zM52 67h1v2h-1zM52 70h2v1h-2zM52 73h1v1h-1zM52 76h2v1h-2zM52 79h1v1h-1zM52 82h2v1h-2zM52 85h2v2h-1v-1h-1zM52 88h1v1h-1zM52 91h1v2h-1zM52 94h1v2h-1zM52 97h1v2h-1zM55 2h1v1h-1zM55 8h1v1h-1zM55 14h1v2h-1zM55 17h1v2h-1zM55 20h1v1h-1zM55 23h1v1h-1zM55 26h1v1h-1zM55 29h1v1h-1zM55 35h1v1h-1zM55 41h1v2h-1zM55 47h1v2h-1zM55 50h1v1h-1zM55 53h1v2h-1zM55 59h1v2h-1zM55 62h1v1h-1zM55 65h1v1h-1zM55 68h1v1h-1zM55 71h1v1h-1zM55 74h1v1h-1zM55 80h1v2h-1zM55 83h1v1h-1zM55 86h1v1h-1zM55 89h1v1h-1zM55 92h1v1h-1zM55 95h1v1h-1zM55 98h1v1h-1zM58 0h2v1h-2zM58 3h1v1h-1zM58 6h2v1h-2zM58 9h2v1h-2zM58 12h1v1h-1zM58 15h1v1h-1zM58 18h1v1h-1zM58 21h2v1h-1v1h-1zM58 24h1v1h-1zM58 27h2v1h-2zM58 30h1v2h-1zM58 33h1v1h-1zM58 36h1v2h-1zM58 39h2v1h-2zM58 42h2v1h-2zM58 45h1v1h-1zM58 48h2v1h-2zM58 52h2v1h-2zM58 55h1v1h-1zM58 58h1v2h-1zM58 61h2v1h-2zM58 64h1v1h-1zM58 67h1v2h-1zM58 70h2v1h-2zM58 73h1v1h-1zM58 76h1v1h-1zM58 79h1v1h-1zM58 82h1v2h-1zM58 85h1v1h-1zM58 88h1v2h-1zM58 91h2v2h-1v-1h-1zM58 94h2v1h-1v1h-1zM58 97h2v1h-2zM61 2h1v1h-1zM61 5h1v1h-1zM61 8h1v1h-1zM61 11h1v1h-1zM61 14h1v1h-1zM61 17h1v2h-1zM61 20h1v1h-1zM61 23h1v1h-1zM61 26h1v1h-1zM61 29h1v1h-1zM61 35h2v2h-1v-1h-1zM61 38h1v1h-1zM61 41h1v2h-1zM61 44h1v2h-1zM61 47h1v1h-1zM61 50h1v1h-1zM61 53h1v1h-1zM61 56h1v1h-1zM61 62h1v1h1v1h-2zM61 65h1v2h-1zM61 68h1v1h-1zM61 71h1v1h-1zM61 74h1v1h-1zM61 77h1v1h-1zM61 80h1v2h-1zM61 83h2v2h-1v-1h-1zM61 86h1v1h-1zM61 89h1v2h-1zM61 92h1v1h-1zM61 95h1v2h-1zM61 98h1v2h-1zM65 3h1v1h-1zM65 6h1v1h-1zM65 9h2v1h-2zM65 12h1v1h-1zM65 15h1v2h-1zM65 18h1v1h-1zM65 21h1v1h-1zM65 24h1v1h-1zM65 27h2v1h-2zM65 30h1v2h-1zM65 33h1v2h-1zM65 36h1v1h-1zM65 39h1v1h-1zM65 45h2v1h-2zM65 48h1v1h-1zM65 55h2v1h-2zM65 58h2v1h-2zM65 61h2v1h-2zM65 64h1v1h-1zM65 67h2v1h-2zM65 70h1v2h-1zM65 73h1v1h-1zM65 76m1 0h1v2h-2v-1h1zM65 79h2v1h-2zM65 82h1v1h-1zM65 85h1v1h-1zM65 91h2v1h-2zM65 94h1v1h-1zM65 97h1v1h-1zM68 2h1v2h-1zM68 8h1v2h-1zM68 11h1v1h-1zM68 17h1v1h-1zM68 20h1v1h-1zM68 26h1v1h-1zM68 29h1v1h-1zM68 32h1v2h-1zM68 35h1v1h-1zM68 38h1v1h-1zM68 41h1v2h-1zM68 44h1v1h-1zM68 50h1v2h-1zM68 59h1v1h-1zM68 65h1v2h-1zM68 68h1v1h-1zM68 71h1v1h-1zM68 77h1v1h-1zM68 80h1v2h-1zM68 83h1v1h-1zM68 86h1v1h-1zM68 89h1v1h-1zM68 92h1v1h-1zM68 98h1v1h-1zM71 0h1v1h-1zM71 3h2v1h-2zM71 6h1v2h-1zM71 9h1v2h-1zM71 12h2v1h-2zM71 21h2v1h-2zM71 24h1v2h-1zM71 27h1v1h-1zM71 30h2v1h-2zM71 33h1v1h-1zM71 36h2v1h-1v1h-1zM71 39h1v1h-1zM71 42h1v1h-1zM71 45h1v1h1v1h-2zM71 48h1v1h-1zM71 52h2v1h-2zM71 55h2v1h-2zM71 58m1 0h1v2h-2v-1h1zM71 61h1v1h-1zM71 64h1v1h-1zM71 67h1v2h-1zM71 70h2v1h-2zM71 73h2v1h-1v1h-1zM71 76h1v1h-1zM71 79h2v1h-2zM71 82h1v2h-1zM71 88h1v2h-1zM71 91h1v1h-1zM71 94h1v1h-1zM71 97h1v1h-1zM74 5h1v2h-1zM74 11h1v2h-1zM74 14h1v2h-1zM74 17h1v1h-1zM74 20h1v2h-1zM74 26h1v1h-1zM74 29h1v1h-1zM74 44h1v1h-1zM74 47h1v1h-1zM74 50h1v1h-1zM74 53h1v1h-1zM74 59h1v2h-1zM74 62h1v1h-1zM74 71h1v1h-1zM74 74h1v1h-1zM74 77h1v1h-1zM74 80h1v2h-1zM74 83h1v2h-1zM74 86h1v2h-1zM74 89h2v2h-1v-1h-1zM74 92h1v1h-1zM74 95h1v1h-1zM74 98h1v1h-1zM78 0h1v1h-1zM78 6h1v1h-1zM78 9h1v1h-1zM78 12h1v1h-1zM78 15h2v1h-1v1h-1zM78 18h1v2h-1zM78 21h2v1h-2zM78 24h2v1h-2zM78 27h2v1h-2zM78 30h1v2h-1zM78 33h1v1h-1zM78 36h1v1h-1zM78 39h1v1h-1zM78 45h2v1h-2zM78 48h1v2h-1zM78 52h2v1h-2zM78 55h2v1h-2zM78 58h2v1h-2zM78 61h1v1h-1zM78 64h2v1h-1v1h-1zM78 67h1v1h-1zM78 70h1v2h-1zM78 73h1v1h-1zM78 79h2v1h-2zM78 82h1v1h-1zM78 85h1v1h1v1h-2zM78 88h2v2h-1v-1h-1zM78 91h1v2h-1zM78 94h1v1h1v1h-2zM78 97h2v2h-1v-1h-1zM81 2h1v1h-1zM81 11h1v2h-1zM81 14m1 0h1v2h-2v-1h1zM81 17h1v2h-1zM81 20h1v1h-1zM81 23h1v1h-1zM81 26h1v2h-1zM81 29h1v2h-1zM81 32h1v1h-1zM81 35h1v2h-1zM81 38h1v1h-1zM81 41h1v1h-1zM81 44h1v1h-1zM81 47h1v1h-1zM81 50h1v1h-1zM81 53h1v1h-1zM81 56h1v1h-1zM81 59h1v1h-1zM81 65h1v1h-1zM81 68h1v2h-1zM81 74h1v2h-1zM81 77h1v1h-1zM81 80h1v1h-1zM81 83h1v1h1v1h-2zM81 86h1v1h-1zM81 89h1v1h-1zM81 95h1v1h-1z" fill="#000" shape-rendering="crispEdges"/></pattern>
<pattern id="p17" width="84" height="100" patternUnits="userSpaceOnUse"><path d="M0 0h2v1h-2zM0 3h1v2h-1zM0 6h1v2h-1zM0 9h1v1h-1zM0 12h2v1h-2zM0 15h1v2h-1zM0 18h1v2h-1zM0 21h1v1h-1zM0 24h2v1h-2zM0 27h2v1h-2zM0 30h2v1h-2zM0 33h2v1h-2zM0 36h2v1h-2zM0 39h1v1h-1zM0 42h2v1h-2zM0 45h1v2h-1zM0 48h2v1h-2zM0 52h1v1h-1zM0 55h1v2h-1zM0 58h2v1h-2zM0 61h1v1h-1zM0 64h2v1h-1v1h-1zM0 67h1v1h-1zM0 70h2v1h-2zM0 73h2v1h-2zM0 76h1v2h-1zM0 79m1 0h1v2h-2v-1h1zM0 82h1v2h-1zM0 85h1v2h-1zM0 88h2v2h-1v-1h-1zM0 91h2v1h-2zM0 94h1v1h-1zM0 97h1v2h-1zM3 2h1v1h-1zM3 5h1v2h-1zM3 8h1v1h-1zM3 11h2v2h-1v-1h-1zM3 14h1v1h-1zM3 17h1v2h-1zM3 23h1v1h-1zM3 26h1v1h-1zM3 29h1v2h-1zM3 32h1v1h-1zM3 35h1v1h-1zM3 38h1v2h-1zM3 41h1v1h-1zM3 44h1v1h-1zM3 47h1v1h-1zM3 50h1v1h-1zM3 56h1v1h-1zM3 62h1v1h-1zM3 65h1v1h-1zM3 68h1v1h-1zM3 71h1v1h-1zM3 74h1v1h1v1h-2zM3 77h1v2h-1zM3 86h1v2h-1zM3 89h1v1h-1zM3 92h1v1h-1zM3 95h1v1h-1zM6 0h1v2h-1zM6 3h1v1h-1zM6 6h1v2h-1zM6 9h1v1h-1zM6 12h2v1h-1v1h-1zM6 15h2v1h-2zM6 18h2v1h-2zM6 21h1v2h-1zM6 24h1v2h-1zM6 27h2v1h-2zM6 30h1v2h-1zM6 33h2v1h-2zM6 36h2v1h-2zM6 39h1v2h-1zM6 42h2v1h-2zM6 45h1v1h-1zM6 48h1v1h-1zM6 52h2v1h-2zM6 55h2v1h-1v1h-1zM6 58h1v2h-1zM6 61h2v1h-2zM6 64h1v1h-1zM6 67h1v1h1v1h-2zM6 70h1v1h-1zM6 73m1 0h1v2h-2v-1h1zM6 76h2v1h-2zM6 79h2v1h-2zM6 82h1v2h-1zM6 85h1v2h-1zM6 88h2v1h-2zM6 91h1v2h-1zM6 94h1v2h-1zM6 97m1 0h1v2h-2v-1h1zM10 5h1v2h-1zM10 8h1v2h-1zM10 11h1v2h-1zM10 14h1v1h-1zM10 17h1v1h-1zM10 20h1v1h-1zM10 23h1v1h-1zM10 26h1v2h-1zM10 29h1v1h-1zM10 32h1v1h-1zM10 35h1v1h-1zM10 38h1v2h-1zM10 41h1v2h-1zM10 50h1v1h-1zM10 53h1v1h-1zM10 56h1v1h-1zM10 59h1v2h-1zM10 62h1v1h-1zM10 65h1v2h-1zM10 68h1v1h-1zM10 71h1v2h-1zM10 74h1v1h-1zM10 77h1v1h-1zM10 80h1v1h-1zM10 83h1v2h-1zM10 86h1v1h-1zM10 89h1v2h-1zM10 92h1v1h-1zM10 95h1v1h-1zM10 98h1v1h-1zM13 0h2v1h-2zM13 3h2v1h-2zM13 6h2v1h-2zM13 9h1v2h-1zM13 12h2v1h-2zM13 15h1v2h-1zM13 18h2v1h-2zM13 21h2v1h-2zM13 24h1v1h-1zM13 27h1v1h-1zM13 30h2v2h-1v-1h-1zM13 33h2v1h-1v1h-1zM13 36m1 0h1v2h-2v-1h1zM13 39h2v1h-2zM13 42h1v2h-1zM13 45h1v2h-1zM13 48h2v1h-2zM13 52h2v1h-2zM13 55h2v2h-1v-1h-1zM13 58h1v2h-1zM13 61h1v1h-1zM13 64h1v2h-1zM13 67h1v1h-1zM13 70h1v2h-1zM13 73h2v2h-1v-1h-1zM13 76h1v1h-1zM13 79h2v1h-2zM13 82h1v2h-1zM13 85h1v1h-1zM13 88h1v2h-1zM13 91h1v1h-1zM13 94h2v2h-1v-1h-1zM13 97h1v1h-1zM16 5h1v1h-1zM16 8h2v2h-1v-1h-1zM16 11h1v1h-1zM16 14h1v2h-1zM16 17h1v1h-1zM16 23h1v2h-1zM16 26h1v1h-1zM16 29h1v2h-1zM16 32h1v1h-1zM16 35h1v1h-1zM16 38h1v2h-1zM16 41h1v2h-1zM16 44h1v1h1v1h-2zM16 47h1v2h-1zM16 50h1v1h-1zM16 53h1v1h1v1h-2zM16 56h1v1h-1zM16 59h1v1h-1zM16 62h1v1h-1zM16 65h1v1h-1zM16 68h1v1h-1zM16 71h1v2h-1zM16 74h1v1h-1zM16 77h1v1h-1zM16 80h1v2h-1zM16 86h1v2h-1zM16 89h1v1h-1zM16 92h2v2h-1v-1h-1zM16 95h1v1h-1zM16 98h2v1h-1v1h-1zM19 0h2v1h-2zM19 3h1v2h-1zM19 6h2v1h-2zM19 9h1v2h-1zM19 15m1 0h1v2h-2v-1h1zM19 18h1v2h-1zM19 21h2v2h-1v-1h-1zM19 24h2v1h-2zM19 27h1v1h1v1h-2zM19 30h2v1h-2zM19 33h1v2h-1zM19 36h1v1h1v1h-2zM19 39h2v1h-2zM19 42h1v1h1v1h-2zM19 45h1v2h-1zM19 48h2v1h-2zM19 52h1v2h-1zM19 55h1v2h-1zM19 58h1v2h-1zM19 61h1v2h-1zM19 64h2v1h-2zM19 67h1v1h-1zM19 70h1v2h-1zM19 73h1v1h-1zM19 76h2v1h-2zM19 79h2v1h-2zM19 82h1v1h-1zM19 85h1v2h-1zM19 88h2v1h-1v1h-1zM19 91h2v1h-2zM19 94h1v2h-1zM19 97h2v1h-1v1h-1zM23 2h1v1h-1zM23 5h1v1h-1zM23 8h1v2h-1zM23 11h2v1h-1v1h-1zM23 14h1v1h-1zM23 17h1v2h-1zM23 20h1v1h-1zM23 23h2v2h-1v-1h-1zM23 29h1v1h-1zM23 32h1v2h-1zM23 35h1v1h-1zM23 38h1v2h-1zM23 41h1v1h-1zM23 44h1v2h-1zM23 47h2v2h-1v-1h-1zM23 50h1v1h-1zM23 53h1v1h-1zM23 56h1v2h-1zM23 59h1v1h-1zM23 62h1v2h-1zM23 65h1v1h-1zM23 68h1v1h-1zM23 71h1v1h-1zM23 74h1v2h-1zM23 77h1v2h-1zM23 83h1v1h-1zM23 86h1v1h-1zM23 89h1v2h-1zM23 92h1v2h-1zM23 95h1v2h-1zM23 98h1v2h-1zM26 0h2v1h-2zM26 3h2v1h-2zM26 6h1v2h-1zM26 9h2v1h-2zM26 12h1v1h-1zM26 15h1v1h-1zM26 18h2v1h-2zM26 21h1v1h-1zM26 24h1v2h-1zM26 27h2v1h-2zM26 30h1v2h-1zM26 33h1v1h-1zM26 36h2v1h-2zM26 39h1v2h-1zM26 42h1v2h-1zM26 45h2v1h-2zM26 48h1v1h-1zM26 52h1v2h-1zM26 55h1v2h-1zM26 58h2v2h-1v-1h-1zM26 61h1v2h-1zM26 64h2v2h-1v-1h-1zM26 67h2v1h-2zM26 70h1v2h-1zM26 73m1 0h1v2h-2v-1h1zM26 76h2v1h-1v1h-1zM26 79m1 0h1v2h-2v-1h1zM26 82h2v1h-2zM26 85h1v2h-1zM26 88h1v2h-1zM26 91h1v1h1v1h-2zM26 94h1v1h-1zM26 97h2v1h-2zM29 2h1v2h-1zM29 5h1v1h-1zM29 8h1v1h-1zM29 11h1v1h-1zM29 14h1v1h-1zM29 17h1v2h-1zM29 20h1v2h-1zM29 23h1v2h-1zM29 26h1v2h-1zM29 29h1v2h-1zM29 32h1v2h-1zM29 35h1v2h-1zM29 38h2v1h-1v1h-1zM29 41h1v1h-1zM29 44h1v1h-1zM29 47h1v2h-1zM29 53h1v1h-1zM29 56h1v1h-1zM29 59h1v1h1v1h-2zM29 62h1v1h-1zM29 68h1v1h-1zM29 71h1v1h-1zM29 74h1v1h-1zM29 77h1v1h-1zM29 80h1v2h-1zM29 83h1v2h-1zM29 86h1v1h-1zM29 95h1v1h-1zM29 98h1v2h-1zM32 0h2v1h-2zM32 6h1v2h-1zM32 9h1v1h-1zM32 12h1v2h-1zM32 15h1v1h-1zM32 18h2v2h-1v-1h-1zM32 21h2v1h-2zM32 24h1v2h-1zM32 27h2v2h-1v-1h-1zM32 30h2v1h-2zM32 36h2v1h-2zM32 39h1v2h-1zM32 42h1v1h-1zM32 45h1v1h-1zM32 48h1v1h1v1h-2zM32 52h1v2h-1zM32 55h2v1h-2zM32 58h2v1h-1v1h-1zM32 61h2v2h-1v-1h-1zM32 64h1v2h-1zM32 67h1v1h1v1h-2zM32 70h1v1h-1zM32 73h1v1h-1zM32 76h2v2h-1v-1h-1zM32 79h2v2h-1v-1h-1zM32 82h2v1h-1v1h-1zM32 85h2v1h-2zM32 88h2v1h-1v1h-1zM32 91h1v1h-1zM32 94h1v2h-1zM32 97h2v1h-2zM36 2h1v1h-1zM36 5h1v1h-1zM36 8h2v1h-1v1h-1zM36 11h1v1h-1zM36 14h1v2h-1zM36 17h1v2h-1zM36 20h1v2h-1zM36 26h1v2h-1zM36 29h1v2h-1zM36 32h1v2h-1zM36 38h2v2h-1v-1h-1zM36 41h1v2h-1zM36 44h1v2h-1zM36 47h1v1h-1zM36 50h1v1h-1zM36 53h1v2h-1zM36 56h1v2h-1zM36 59h1v2h-1zM36 62h1v2h-1zM36 65h1v2h-1zM36 68h1v1h-1zM36 71h1v1h-1zM36 74h1v2h-1zM36 77h1v1h-1zM36 80h1v2h-1zM36 83h1v2h-1zM36 86h1v2h-1zM36 89h1v1h-1zM36 92h1v1h-1zM36 95h1v1h-1zM36 98h1v1h-1zM39 0h1v2h-1zM39 3m1 0h1v2h-2v-1h1zM39 6h1v2h-1zM39 9h2v1h-2zM39 12h1v1h-1zM39 15h1v2h-1zM39 18h2v1h-2zM39 21h2v1h-2zM39 24h1v2h-1zM39 27h1v1h-1zM39 30h2v1h-2zM39 33h1v1h1v1h-2zM39 36h1v2h-1zM39 39h1v2h-1zM39 42h1v1h-1zM39 45h1v2h-1zM39 48h1v2h-1zM39 52h2v1h-2zM39 55h2v1h-2zM39 58h2v1h-2zM39 61h2v2h-1v-1h-1zM39 64h2v1h-2zM39 70h2v2h-1v-1h-1zM39 73h1v2h-1zM39 76h1v1h-1zM39 79h2v1h-2zM39 82h1v2h-1zM39 85h1v2h-1zM39 88h1v2h-1zM39 91h1v1h-1zM39 94h2v1h-2zM39 97h2v1h-2zM42 2h2v2h-1v-1h-1zM42 5h1v1h-1zM42 11h1v1h-1zM42 14h1v2h-1zM42 17h1v2h-1zM42 20h1v1h-1zM42 23h1v2h-1zM42 26h1v2h-1zM42 29h1v1h-1zM42 32h1v2h-1zM42 35h1v1h-1zM42 38h1v2h-1zM42 41h1v2h-1zM42 44h1v1h-1zM42 47h1v1h-1zM42 50h1v2h-1zM42 53h1v1h-1zM42 56h1v1h-1zM42 62h1v1h-1zM42 65h1v1h-1zM42 71h1v2h-1zM42 74h1v1h-1zM42 77h1v1h1v1h-2zM42 80h1v1h1v1h-2zM42 83h1v2h-1zM42 86h1v1h1v1h-2zM42 89h1v2h-1zM42 92h2v1h-1v1h-1zM42 95h1v2h-1zM42 98h1v1h-1zM45 0h1v2h-1zM45 3m1 0h1v2h-2v-1h1zM45 6h1v1h-1zM45 9h2v1h-2zM45 12h1v1h-1zM45 15h1v2h-1zM45 18m1 0h1v2h-2v-1h1zM45 21h2v1h-2zM45 24h1v1h1v1h-2zM45 27h1v2h-1zM45 30h1v2h-1zM45 33h2v1h-2zM45 39h1v1h1v1h-2zM45 42h2v1h-2zM45 45h2v1h-2zM45 48h1v2h-1zM45 52h2v1h-2zM45 55h1v2h-1zM45 58h2v1h-2zM45 61h1v1h-1zM45 64h1v1h-1zM45 67h1v1h-1zM45 70h1v1h-1zM45 73h2v1h-2zM45 76h2v1h-2zM45 79h2v1h-2zM45 82h2v1h-2zM45 85h1v2h-1zM45 88h1v2h-1zM45 91h2v1h-2zM45 94h1v2h-1zM45 97h2v1h-2zM48 2h1v1h-1zM48 5h1v1h-1zM48 8h1v2h-1zM48 11h1v2h-1zM48 14h1v2h-1zM48 17h2v1h-1v1h-1zM48 29h1v1h-1zM48 32h1v2h-1zM48 38h1v1h-1zM48 41h1v2h-1zM48 44h1v2h-1zM48 47h1v1h-1zM48 50h1v1h-1zM48 56h1v1h-1zM48 59h1v1h-1zM48 65h1v1h-1zM48 68h1v1h-1zM48 71h1v2h-1zM48 74h1v2h-1zM48 77h1v1h-1zM48 80h2v1h-1v1h-1zM48 83h1v2h-1zM48 86h1v2h-1zM48 89h1v1h-1zM48 92h1v2h-1zM48 95h1v2h-1zM48 98h1v2h-1zM52 0h1v2h-1zM52 3h1v1h-1zM52 6h1v1h-1zM52 9h2v1h-2zM52 12h1v1h1v1h-2zM52 15h2v1h-2zM52 18h1v2h-1zM52 21h1v2h-1zM52 24h1v2h-1zM52 27h2v1h-2zM52 30h2v1h-2zM52 33h1v1h-1zM52 36h1v2h-1zM52 39h1v2h-1zM52 42h1v1h-1zM52 45h1v1h1v1h-2zM52 48h2v1h-2zM52 52h1v2h-1zM52 55h1v1h-1zM52 58h1v2h-1zM52 61m1 0h1v2h-2v-1h1zM52 64h1v2h-1zM52 67h1v2h-1zM52 70h1v1h-1zM52 73h1v2h-1zM52 76h1v2h-1zM52 79h1v1h1v1h-2zM52 82h1v1h-1zM52 85h2v1h-2zM52 88h1v1h-1zM52 91h1v1h1v1h-2zM52 94h1v1h-1zM52 97h2v1h-1v1h-1zM55 2h2v2h-1v-1h-1zM55 5h1v1h-1zM55 8h1v1h-1zM55 11h1v2h-1zM55 14h1v2h-1zM55 17h1v2h-1zM55 20m1 0h1v2h-2v-1h1zM55 23h1v2h-1zM55 26h1v1h-1zM55 29h1v2h-1zM55 35h1v1h-1zM55 38h1v1h-1zM55 41h1v1h-1zM55 44h1v1h-1zM55 47h1v1h-1zM55 50h1v1h-1zM55 53h1v1h-1zM55 56h1v2h-1zM55 62h1v2h-1zM55 65h1v1h-1zM55 68h1v2h-1zM55 71h1v1h-1zM55 77h1v2h-1zM55 80h1v2h-1zM55 83h1v1h-1zM55 86h1v1h-1zM55 89h1v1h-1zM55 92h1v2h-1zM55 95h1v2h-1zM55 98h1v2h-1zM58 0h1v1h-1zM58 3h1v1h-1zM58 6h1v1h-1zM58 9h2v1h-2zM58 12h1v1h-1zM58 15h2v1h-2zM58 18m1 0h1v2h-2v-1h1zM58 21h1v2h-1zM58 24h1v2h-1zM58 27h2v1h-2zM58 30h2v1h-2zM58 33h2v1h-2zM58 36h1v1h-1zM58 39h2v1h-2zM58 42h1v1h-1zM58 45h1v1h1v1h-2zM58 48h2v1h-1v1h-1zM58 52h1v2h-1zM58 55h2v1h-2zM58 61h1v1h-1zM58 64h1v2h-1zM58 67h1v2h-1zM58 70h1v2h-1zM58 73h2v1h-2zM58 79h1v1h1v1h-2zM58 82h1v1h-1zM58 85h1v2h-1zM58 88h1v1h-1zM58 91h2v1h-2zM58 94h1v2h-1zM58 97h2v1h-2zM61 2h1v2h-1zM61 5h1v1h-1zM61 11m1 0h1v2h-2v-1h1zM61 14h1v1h-1zM61 17h1v2h-1zM61 23h1v2h-1zM61 26h1v1h-1zM61 29h1v2h-1zM61 32h1v2h-1zM61 35h1v1h-1zM61 38h2v1h-1v1h-1zM61 41h2v1h-1v1h-1zM61 47h1v2h-1zM61 50h1v1h-1zM61 53h1v1h-1zM61 56h1v2h-1zM61 62h1v1h-1zM61 71h1v1h-1zM61 80h1v1h-1zM61 83h1v1h-1zM61 86h1v2h-1zM61 89h1v1h-1zM61 92h1v1h-1zM61 95m1 0h1v2h-2v-1h1zM61 98h1v2h-1zM65 0h1v2h-1zM65 3h2v1h-2zM65 6h1v2h-1zM65 9h1v2h-1zM65 12h1v2h-1zM65 15h1v2h-1zM65 18h2v2h-1v-1h-1zM65 21h1v2h-1zM65 24h2v1h-2zM65 27h1v2h-1zM65 30h1v2h-1zM65 36h2v1h-2zM65 42h2v1h-2zM65 45h1v2h-1zM65 48h2v1h-2zM65 52h2v1h-2zM65 55h2v1h-2zM65 58h2v1h-2zM65 61h2v1h-2zM65 64h1v1h-1zM65 67h2v1h-2zM65 70h1v1h-1zM65 73h1v1h-1zM65 76h2v1h-2zM65 79h2v1h-2zM65 82h1v1h-1zM65 85h1v2h-1zM65 88h2v1h-2zM65 91h2v1h-2zM65 94h1v2h-1zM65 97h2v2h-1v-1h-1zM68 2h1v2h-1zM68 8h1v2h-1zM68 11h1v1h-1zM68 14h1v1h-1zM68 17h1v2h-1zM68 20h1v1h-1zM68 23m1 0h1v2h-2v-1h1zM68 26h1v1h-1zM68 29h1v1h-1zM68 32h1v2h-1zM68 38h1v2h-1zM68 41h1v2h-1zM68 44h1v1h-1zM68 47h1v2h-1zM68 50h1v1h-1zM68 53h1v1h-1zM68 56h1v1h-1zM68 59h1v1h-1zM68 62h1v2h-1zM68 65h1v1h-1zM68 68h1v1h-1zM68 71h1v1h-1zM68 74h1v2h-1zM68 77h1v1h-1zM68 80h1v2h-1zM68 83h2v2h-1v-1h-1zM68 86h1v1h-1zM68 89h1v2h-1zM68 92h1v1h-1zM68 95h1v1h-1zM68 98h1v1h-1zM71 3h2v1h-1v1h-1zM71 6h2v1h-1v1h-1zM71 9h2v1h-2zM71 12h2v1h-2zM71 15h2v2h-1v-1h-1zM71 18h2v1h-2zM71 21h2v1h-2zM71 24h2v2h-1v-1h-1zM71 27h2v1h-2zM71 30h1v2h-1zM71 33h2v1h-2zM71 36h2v1h-2zM71 39h2v1h-2zM71 42h1v1h-1zM71 45h1v2h-1zM71 48h2v1h-1v1h-1zM71 52h2v1h-2zM71 55h2v1h-1v1h-1zM71 58h2v1h-2zM71 61h1v1h1v1h-2zM71 64h1v1h-1zM71 67h1v1h-1zM71 70h1v2h-1zM71 73h2v2h-1v-1h-1zM71 76h1v2h-1zM71 79m1 0h1v2h-2v-1h1zM71 82h1v2h-1zM71 85h2v2h-1v-1h-1zM71 88h2v1h-2zM71 91h1v1h-1zM71 94h1v2h-1zM71 97h1v2h-1zM74 2h1v2h-1zM74 5h1v2h-1zM74 11h1v1h-1zM74 14h1v1h-1zM74 20h1v1h-1zM74 23h2v2h-1v-1h-1zM74 26h1v1h-1zM74 29h1v1h-1zM74 32h1v1h-1zM74 35h1v1h-1zM74 38h1v2h-1zM74 41h1v1h1v1h-2zM74 44h1v1h-1zM74 47h1v2h-1zM74 53h1v2h-1zM74 56h1v1h-1zM74 59h1v1h-1zM74 62h1v2h-1zM74 65h1v1h-1zM74 68m1 0h1v2h-2v-1h1zM74 71h1v2h-1zM74 74h2v1h-1v1h-1zM74 77h1v1h-1zM74 80h2v2h-1v-1h-1zM74 83h1v1h-1zM74 89h1v2h-1zM74 92h1v1h1v1h-2zM74 95h1v1h-1zM74 98h1v1h-1zM78 0h2v1h-2zM78 3h1v1h1v1h-2zM78 6h2v1h-1v1h-1zM78 9h2v1h-2zM78 12h1v1h-1zM78 15h1v1h-1zM78 18h2v1h-2zM78 21h2v1h-2zM78 24h1v2h-1zM78 27h2v1h-2zM78 30h1v1h-1zM78 33h1v2h-1zM78 36h1v1h-1zM78 39h2v1h-2zM78 42m1 0h1v2h-2v-1h1zM78 45h2v1h-1v1h-1zM78 48h2v1h-2zM78 52h2v1h-2zM78 55h2v1h-2zM78 58h2v2h-1v-1h-1zM78 61h2v1h-2zM78 64h1v1h-1zM78 67h2v1h-2zM78 70h2v2h-1v-1h-1zM78 73h2v1h-2zM78 76h2v1h-2zM78 79h2v1h-2zM78 82h1v1h-1zM78 85h1v2h-1zM78 88h2v1h-1v1h-1zM78 91h2v1h-2zM78 94h2v2h-1v-1h-1zM78 97h1v1h-1zM81 2h1v1h-1zM81 8h1v1h-1zM81 11h1v1h-1zM81 14h1v1h-1zM81 17h1v1h-1zM81 20h1v1h-1zM81 23h2v1h-1v1h-1zM81 26h1v1h-1zM81 29h1v1h-1zM81 32h1v1h-1zM81 35h1v2h-1zM81 38h1v1h-1zM81 41h1v1h-1zM81 44h1v1h-1zM81 50h2v1h-1v1h-1zM81 53h1v2h-1zM81 56h1v2h-1zM81 59h1v1h-1zM81 65h1v1h-1zM81 74h1v2h-1zM81 77h1v1h-1zM81 83h1v2h-1zM81 86h2v1h-1v1h-1zM81 89h1v1h-1zM81 92h1v1h-1zM81 95h1v2h-1zM81 98h1v2h-1z" fill="#000" shape-rendering="crispEdges"/></pattern>
<pattern id="p19" width="84" height="100" patternUnits="userSpaceOnUse"><path d="M0 0h1v1h-1zM0 3h2v1h-1v1h-1zM0 6h1v2h-1zM0 9h1v1h-1zM0 12h2v2h-1v-1h-1zM0 15h2v1h-2zM0 18h1v2h-1zM0 21h2v1h-2zM0 24h2v1h-2zM0 27h1v2h-1zM0 30h1v1h-1zM0 33h2v1h-2zM0 36h2v1h-2zM0 39h1v2h-1zM0 42h1v2h-1zM0 45h1v2h-1zM0 48m1 0h1v2h-2v-1h1zM0 52h2v1h-2zM0 55h1v2h-1zM0 58h1v2h-1zM0 61h1v2h-1zM0 64h1v1h-1zM0 67h1v1h-1zM0 70h2v1h-2zM0 73h2v1h-2zM0 76h2v1h-2zM0 79h2v1h-2zM0 82h1v1h1v1h-2zM0 85h2v1h-2zM0 88h1v1h-1zM0 91h2v1h-2zM0 94h1v2h-1zM0 97h2v1h-2zM3 2h1v2h-1zM3 5h1v2h-1zM3 8h1v1h-1zM3 11h1v2h-1zM3 14h1v2h-1zM3 17h1v1h-1zM3 20h1v2h-1zM3 23h1v2h-1zM3 26h1v2h-1zM3 29h1v1h-1zM3 32h2v2h-1v-1h-1zM3 35h1v1h-1zM3 38h1v2h-1zM3 41h1v1h-1zM3 44h1v2h-1zM3 47h1v2h-1zM3 50h1v2h-1zM3 53h1v2h-1zM3 56h1v1h-1zM3 59h1v2h-1zM3 62h1v1h-1zM3 65h1v2h-1zM3 68h1v2h-1zM3 71h1v2h-1zM3 74h1v1h1v1h-2zM3 77h1v2h-1zM3 80h1v2h-1zM3 83h1v1h-1zM3 86h1v1h1v1h-2zM3 89h1v2h-1zM3 92h1v2h-1zM3 95m1 0h1v2h-2v-1h1zM3 98h1v2h-1zM6 0m1 0h1v2h-2v-1h1zM6 3h2v1h-2zM6 6h2v1h-2zM6 9h1v2h-1zM6 12h2v1h-2zM6 15h1v2h-1zM6 18h1v1h-1zM6 21h1v2h-1zM6 24h2v1h-2zM6 27h2v2h-1v-1h-1zM6 30h1v1h1v1h-2zM6 33h2v1h-2zM6 36m1 0h1v2h-2v-1h1zM6 39h1v2h-1zM6 42h2v1h-1v1h-1zM6 45h2v2h-2zM6 48h2v1h-2zM6 52h2v1h-2zM6 55h1v1h-1zM6 58h2v1h-2zM6 61h2v1h-2zM6 64m1 0h1v2h-2v-1h1zM6 67h2v1h-2zM6 70h1v1h1v1h-2zM6 73h1v1h1v1h-2zM6 76h2v1h-2zM6 79h2v2h-1v-1h-1zM6 82h2v1h-1v1h-1zM6 85h1v1h1v1h-2zM6 88m1 0h1v2h-2v-1h1zM6 91h1v2h-1zM6 94h1v2h-1zM6 97h1v2h-1zM10 2h1v1h-1zM10 5h1v2h-1zM10 8h1v2h-1zM10 11h1v2h-1zM10 14h2v1h-1v1h-1zM10 17h1v1h-1zM10 20h1v1h-1zM10 26h2v1h-1v1h-1zM10 29h1v1h-1zM10 32h1v2h-1zM10 35h1v1h-1zM10 38h1v1h-1zM10 41h1v1h-1zM10 44h1v2h-1zM10 47h1v1h-1zM10 50h1v2h-1zM10 53h1v1h-1zM10 56h1v2h-1zM10 59h1v2h-1zM10 62h1v2h-1zM10 68h1v1h-1zM10 71h1v1h-1zM10 74h1v2h-1zM10 77h1v2h-1zM10 80h1v1h-1zM10 83h1v2h-1zM10 86h1v2h-1zM10 89h1v2h-1zM10 92h1v2h-1zM10 95h1v2h-1zM10 98h1v2h-1zM13 0h2v1h-2zM13 3h2v1h-2zM13 6m1 0h1v2h-2v-1h1zM13 9h1v2h-1zM13 12h1v2h-1zM13 15h2v1h-2zM13 18h1v1h1v1h-2zM13 21h1v2h-1zM13 24h1v1h1v1h-2zM13 27h2v2h-1v-1h-1zM13 30h2v2h-1v-1h-1zM13 33h2v1h-2zM13 36h2v1h-2zM13 39h2v1h-2zM13 42h2v1h-2zM13 45h1v2h-1zM13 48h1v2h-1zM13 52m1 0h1v2h-2v-1h1zM13 55h2v1h-2zM13 58h2v1h-2zM13 61h2v2h-1v-1h-1zM13 64h2v2h-1v-1h-1zM13 67h1v2h-1zM13 70h1v1h-1zM13 73h2v1h-1v1h-1zM13 76h1v1h-1zM13 79h1v2h-1zM13 82m1 0h1v2h-2v-1h1zM13 85h1v2h-1zM13 88h1v2h-1zM13 91m1 0h1v2h-2v-1h1zM13 94h2v1h-2zM13 97h1v1h1v1h-2zM16 2h1v2h-1zM16 5h1v2h-1zM16 8h1v2h-1zM16 11h2v1h-1v1h-1zM16 14h1v2h-1zM16 17h1v1h-1zM16 20h2v2h-1v-1h-1zM16 23h1v2h-1zM16 26h1v1h-1zM16 29h1v2h-1zM16 32h1v2h-1zM16 35h1v2h-1zM16 38h2v2h-1v-1h-1zM16 41h1v1h1v1h-2zM16 44h1v1h-1zM16 47h1v2h-1zM16 50h2v1h-1v1h-1zM16 53h1v2h-1zM16 56h1v2h-1zM16 59h1v1h-1zM16 62h1v2h-1zM16 65h1v2h-1zM16 68h1v1h-1zM16 71h1v2h-1zM16 74h1v2h-1zM16 77h1v2h-1zM16 80h1v2h-1zM16 83h1v2h-1zM16 86h1v2h-1zM16 89h1v2h-1zM16 92h1v1h-1zM16 95h1v1h-1zM16 98h1v1h1v1h-2zM19 0h1v2h-1zM19 3h2v1h-2zM19 6h2v1h-2zM19 9h2v2h-1v-1h-1zM19 12h2v1h-2zM19 15h2v1h-2zM19 18h2v1h-2zM19 21m1 0h1v2h-2v-1h1zM19 24h2v2h-2zM19 27h2v2h-2zM19 30h2v1h-2zM19 33h2v1h-2zM19 36h1v1h-1zM19 39h1v1h-1zM19 42h2v2h-1v-1h-1zM19 45h1v2h-1zM19 48h2v1h-2zM19 52h1v1h1v1h-2zM19 55h1v1h-1zM19 58h1v2h-1zM19 61h1v2h-1zM19 64h2v1h-2zM19 67h2v1h-1v1h-1zM19 70h2v1h-2zM19 73h2v2h-1v-1h-1zM19 76h2v1h-2zM19 79h1v1h-1zM19 82h1v2h-1zM19 85h2v1h-2zM19 88m1 0h1v2h-2v-1h1zM19 91h2v1h-2zM19 94h2v1h-2zM19 97h2v1h-2zM23 2h1v2h-1zM23 5h1v2h-1zM23 11h1v1h-1zM23 14h1v1h-1zM23 17h1v1h-1zM23 20h1v2h-1zM23 23h1v1h-1zM23 26h1v2h-1zM23 29h1v1h-1zM23 32h1v1h-1zM23 35h1v1h-1zM23 38h1v2h-1zM23 41h1v2h-1zM23 44h1v2h-1zM23 47h1v2h-1zM23 50h1v1h-1zM23 53h1v1h-1zM23 56h1v2h-1zM23 59h1v2h-1zM23 62h1v1h-1zM23 65h1v2h-1zM23 68h1v2h-1zM23 74h1v1h1v1h-2zM23 77h1v2h-1zM23 80h1v1h-1zM23 83h1v1h-1zM23 86h1v2h-1zM23 89h1v1h-1zM23 92h1v1h-1zM26 0h1v2h-1zM26 3m1 0h1v2h-2v-1h1zM26 6h2v1h-2zM26 9h2v1h-2zM26 12h2v1h-1v1h-1zM26 15m1 0h1v2h-2v-1h1zM26 18h1v1h1v1h-2zM26 21h1v1h-1zM26 24h2v1h-2zM26 27h2v1h-2zM26 30h1v1h-1zM26 33h2v1h-2zM26 36m1 0h1v2h-2v-1h1zM26 39h2v1h-1v1h-1zM26 42h1v2h-1zM26 45h2v1h-1v1h-1zM26 48h2v2h-1v-1h-1zM26 52h2v1h-2zM26 55h2v1h-2zM26 58h1v1h1v1h-2zM26 61h1v2h-1zM26 64h2v2h-1v-1h-1zM26 67h1v1h-1zM26 70h2v1h-2zM26 73h1v2h-1zM26 76h1v1h-1zM26 79h1v2h-1zM26 82h1v2h-1zM26 85h1v2h-1zM26 88h1v2h-1zM26 91h1v1h-1zM26 94h1v1h-1zM26 97m1 0h1v2h-2v-1h1zM29 2h1v1h-1zM29 5h1v2h-1zM29 8h1v2h-1zM29 11h1v2h-1zM29 14h1v2h-1zM29 17h1v2h-1zM29 20h1v1h-1zM29 26m1 0h1v2h-2v-1h1zM29 29h1v1h-1zM29 35h1v1h-1zM29 38h1v2h-1zM29 41h2v2h-1v-1h-1zM29 47h1v1h-1zM29 50h1v1h1v1h-2zM29 53h1v2h-1zM29 56h1v2h-1zM29 59h1v1h-1zM29 62h1v1h-1zM29 68h1v2h-1zM29 71h1v1h-1zM29 74h1v2h-1zM29 77h2v2h-1v-1h-1zM29 80h1v1h-1zM29 83h1v2h-1zM29 86h1v1h-1zM29 89h1v2h-1zM29 92h1v1h-1zM29 95h1v2h-1zM29 98h1v1h-1zM32 0h2v1h-2zM32 3h1v1h1v1h-2zM32 6h1v1h1v1h-2zM32 9h1v2h-1zM32 12h2v1h-2zM32 15h2v1h-2zM32 18h2v2h-1v-1h-1zM32 21h2v2h-1v-1h-1zM32 24h1v2h-1zM32 27h1v1h-1zM32 30h2v1h-2zM32 33h2v1h-2zM32 36h1v1h-1zM32 39h1v1h-1zM32 42h2v1h-2zM32 45h2v1h-2zM32 48h1v2h-1zM32 52h2v1h-1v1h-1zM32 55h1v1h-1zM32 58h1v2h-1zM32 61h2v2h-1v-1h-1zM32 64h1v2h-1zM32 67h1v2h-1zM32 70h1v2h-1zM32 73h1v1h-1zM32 76h2v1h-2zM32 79h2v2h-1v-1h-1zM32 82h1v2h-1zM32 85h2v2h-2zM32 88h2v1h-2zM32 91h1v1h1v1h-2zM32 94h2v1h-2zM32 97h2v1h-1v1h-1zM36 2h1v1h-1zM36 5h1v1h-1zM36 8h1v1h-1zM36 11h2v1h-1v1h-1zM36 14h1v1h-1zM36 17h1v1h1v1h-2zM36 23h1v2h-1zM36 26h1v1h-1zM36 29h1v1h-1zM36 32h2v1h-1v1h-1zM36 35h2v1h-1v1h-1zM36 38h1v2h-1zM36 41h1v2h-1zM36 44h1v2h-1zM36 47h1v2h-1zM36 50h1v2h-1zM36 53h1v2h-1zM36 59h1v1h-1zM36 62h1v1h-1zM36 65h1v2h-1zM36 68h1v2h-1zM36 71h1v1h-1zM36 74h1v2h-1zM36 77h1v1h-1zM36 80h2v1h-1v1h-1zM36 83m1 0h1v2h-2v-1h1zM36 89h1v1h-1zM36 92h1v2h-1zM36 95h1v1h-1zM36 98h1v2h-1zM39 0h1v1h-1zM39 3h1v2h-1zM39 6h1v1h-1zM39 9h1v2h-1zM39 12h2v1h-2zM39 15h2v1h-2zM39 18h2v1h-2zM39 21h2v1h-2zM39 24h1v2h-1zM39 27h2v1h-2zM39 30h1v2h-1zM39 33m1 0h1v2h-2v-1h1zM39 36h1v1h-1zM39 39h2v2h-2zM39 42h2v1h-2zM39 45h1v1h1v1h-2zM39 48h2v1h-2zM39 52h2v1h-2zM39 55h2v1h-2zM39 58h1v2h-1zM39 61m1 0h1v2h-2v-1h1zM39 64h2v1h-2zM39 67h2v1h-2zM39 70h1v2h-1zM39 73h1v1h-1zM39 76h1v2h-1zM39 79h1v2h-1zM39 82h1v1h-1zM39 85h1v2h-1zM39 88h2v2h-1v-1h-1zM39 91h2v1h-2zM39 94h1v1h-1zM39 97h1v2h-1zM42 5h1v2h-1zM42 8h1v2h-1zM42 11h2v1h-1v1h-1zM42 14h1v2h-1zM42 17h1v1h-1zM42 20h1v2h-1zM42 23h2v2h-1v-1h-1zM42 26m1 0h1v2h-2v-1h1zM42 29h1v1h-1zM42 32h1v1h-1zM42 35h1v2h-1zM42 38h2v2h-1v-1h-1zM42 41h1v2h-1zM42 44h2v2h-1v-1h-1zM42 47m1 0h1v2h-2v-1h1zM42 50h1v2h-1zM42 53m1 0h1v2h-2v-1h1zM42 56h1v1h-1zM42 59h1v2h-1zM42 62h1v2h-1zM42 65h1v1h-1zM42 68h1v2h-1zM42 71h1v2h-1zM42 74h2v1h-1v1h-1zM42 77h1v1h-1zM42 80h1v2h-1zM42 83h1v2h-1zM42 89h1v2h-1zM42 92h1v2h-1zM42 95h1v1h-1zM42 98h1v1h-1zM45 0h1v2h-1zM45 3h1v2h-1zM45 6h2v1h-2zM45 9h1v1h1v1h-2zM45 12h1v1h1v1h-2zM45 15h1v1h1v1h-2zM45 18h1v1h1v1h-2zM45 21h1v2h-1zM45 24h1v2h-1zM45 27h2v2h-1v-1h-1zM45 30h2v2h-2zM45 33h2v1h-2zM45 36h2v1h-2zM45 39h1v2h-1zM45 42h2v1h-2zM45 45h2v2h-1v-1h-1zM45 48h1v2h-1zM45 52h1v1h1v1h-2zM45 55h1v2h-1zM45 58h1v2h-1zM45 61h1v2h-1zM45 64h2v1h-1v1h-1zM45 67h1v2h-1zM45 70h1v2h-1zM45 73h2v1h-2zM45 76h2v2h-1v-1h-1zM45 79h2v1h-2zM45 82h2v1h-1v1h-1zM45 85h1v1h-1zM45 88h1v1h1v1h-2zM45 91h1v2h-1zM45 94h2v1h-2zM45 97h1v1h-1zM48 2h1v2h-1zM48 8h1v2h-1zM48 11h1v2h-1zM48 14h1v1h-1zM48 17h1v2h-1zM48 20h1v2h-1zM48 23h1v2h-1zM48 26h1v1h-1zM48 29h1v2h-1zM48 32h2v1h-1v1h-1zM48 38h1v1h-1zM48 44h1v1h-1zM48 47h1v1h-1zM48 50h1v1h-1zM48 53h1v2h-1zM48 56h1v2h-1zM48 59h1v2h-1zM48 62h1v2h-1zM48 65h1v1h-1zM48 68h1v2h-1zM48 74h2v2h-1v-1h-1zM48 77h1v2h-1zM48 80h1v1h1v1h-2zM48 83h1v2h-1zM48 89h1v1h-1zM48 92h2v1h-1v1h-1zM48 95h1v2h-1zM48 98h1v1h-1zM52 0h1v2h-1zM52 3h1v2h-1zM52 6h2v1h-1v1h-1zM52 9h1v2h-1zM52 12h2v1h-2zM52 15h2v1h-2zM52 18h1v1h1v1h-2zM52 21h2v1h-2zM52 24h2v1h-2zM52 27h2v1h-2zM52 30m1 0h1v2h-2v-1h1zM52 33h1v1h-1zM52 36h1v2h-1zM52 39h2v2h-1v-1h-1zM52 42h1v1h1v1h-2zM52 45h1v2h-1zM52 48h1v2h-1zM52 52h1v2h-1zM52 55h2v2h-2zM52 58h1v1h1v1h-2zM52 61h1v1h-1zM52 64h1v2h-1zM52 67h2v1h-2zM52 70h1v1h1v1h-2zM52 73m1 0h1v2h-2v-1h1zM52 76h1v1h-1zM52 79h1v1h-1zM52 82h2v1h-2zM52 85h1v2h-1zM52 88h2v2h-2zM52 91h1v2h-1zM52 94h1v2h-1zM52 97h1v2h-1zM55 2h1v1h-1zM55 5h1v1h-1zM55 8m1 0h1v2h-2v-1h1zM55 11h1v2h-1zM55 14h1v1h1v1h-2zM55 17h1v1h-1zM55 23h1v1h-1zM55 26h1v2h-1zM55 29h2v2h-1v-1h-1zM55 32h1v1h-1zM55 35h1v1h-1zM55 38h1v1h-1zM55 41h1v2h-1zM55 44h1v1h-1zM55 47h1v1h-1zM55 50h1v1h-1zM55 53h1v2h-1zM55 56h1v2h-1zM55 62h1v2h-1zM55 65h1v2h-1zM55 68h1v1h-1zM55 71h1v2h-1zM55 74h1v2h-1zM55 77h1v1h-1zM55 80h1v2h-1zM55 83h1v1h-1zM55 86h1v1h-1zM55 89h2v1h-1v1h-1zM55 92h1v1h-1zM55 95h1v1h-1zM55 98h1v1h-1zM58 0h2v1h-2zM58 3h1v1h-1zM58 6h2v1h-1v1h-1zM58 9h1v1h-1zM58 12h2v1h-2zM58 15h2v1h-2zM58 18h2v1h-2zM58 21h1v1h-1zM58 24h1v2h-1zM58 27m1 0h1v2h-2v-1h1zM58 30h2v1h-2zM58 33h2v2h-2zM58 36h1v1h-1zM58 39h1v2h-1zM58 42h1v2h-1zM58 45h1v2h-1zM58 48h2v1h-1v1h-1zM58 52h1v2h-1zM58 55h1v1h1v1h-2zM58 58h2v1h-2zM58 61h1v1h-1zM58 64h2v1h-2zM58 67h1v2h-1zM58 70h2v1h-2zM58 73h1v2h-1zM58 76h2v1h-1v1h-1zM58 79h1v2h-1zM58 82h1v2h-1zM58 85h1v2h-1zM58 88h2v1h-2zM58 91h2v1h-2zM58 94h2v1h-2zM58 97h1v1h-1zM61 2h1v2h-1zM61 5h1v2h-1zM61 8h1v2h-1zM61 14h1v1h-1zM61 20h1v1h-1zM61 23h1v2h-1zM61 29h1v2h-1zM61 32h1v2h-1zM61 35h1v1h-1zM61 38h1v2h-1zM61 41h1v2h-1zM61 44h1v2h-1zM61 47h1v1h-1zM61 50h1v2h-1zM61 53h1v2h-1zM61 59h1v2h-1zM61 62h1v1h-1zM61 65h1v1h-1zM61 68h1v1h-1zM61 71h1v2h-1zM61 74h1v1h-1zM61 77h2v2h-1v-1h-1zM61 80h2v2h-1v-1h-1zM61 83h1v2h-1zM61 86h1v2h-1zM61 92h1v2h-1zM61 95m1 0h1v2h-2v-1h1zM61 98h1v2h-1zM65 0h2v1h-2zM65 3h2v2h-2zM65 6h1v1h-1zM65 9h1v1h-1zM65 12h2v1h-2zM65 15h1v1h1v1h-2zM65 18h2v1h-2zM65 21h2v1h-2zM65 24m1 0h1v2h-2v-1h1zM65 27h1v2h-1zM65 30h1v1h1v1h-2zM65 33h1v2h-1zM65 36h2v1h-1v1h-1zM65 39h1v2h-1zM65 42h1v2h-1zM65 45h2v2h-1v-1h-1zM65 48h1v1h-1zM65 52h2v1h-2zM65 55h1v1h1v1h-2zM65 58m1 0h1v2h-2v-1h1zM65 61h2v1h-2zM65 64h1v1h-1zM65 67m1 0h1v2h-2v-1h1zM65 70m1 0h1v2h-2v-1h1zM65 73h1v1h1v1h-2zM65 76h1v2h-1zM65 79h1v2h-1zM65 82h2v1h-2zM65 85h2v2h-2zM65 88h2v2h-2zM65 91h1v1h-1zM65 94h1v1h-1zM65 97h2v1h-2zM68 2h1v1h-1zM68 8h1v2h-1zM68 14h1v2h-1zM68 17h1v1h-1zM68 20h2v1h-1v1h-1zM68 23h1v1h-1zM68 29h1v1h-1zM68 32h1v1h-1zM68 35h1v1h-1zM68 38h2v1h-1v1h-1zM68 41h1v1h-1zM68 44h1v1h-1zM68 47h1v1h-1zM68 50h1v2h-1zM68 53h1v1h1v1h-2zM68 56h1v1h-1zM68 59h1v2h-1zM68 65m1 0h1v2h-2v-1h1zM68 68h1v2h-1zM68 71h1v1h-1zM68 77h1v2h-1zM68 80h1v1h-1zM68 83h1v1h-1zM68 86h1v2h-1zM68 89h1v1h-1zM68 92h1v2h-1zM68 95h1v2h-1zM68 98h1v1h-1zM71 0h2v1h-2zM71 3h1v2h-1zM71 6h2v2h-1v-1h-1zM71 9h1v2h-1zM71 12h2v1h-2zM71 15h2v1h-2zM71 18h1v2h-1zM71 21h1v2h-1zM71 24h1v2h-1zM71 27h1v1h-1zM71 30h2v1h-2zM71 33h2v1h-2zM71 36h1v2h-1zM71 39h1v1h-1zM71 42h1v2h-1zM71 45h2v2h-2zM71 48h2v2h-1v-1h-1zM71 52h1v2h-1zM71 55h2v1h-1v1h-1zM71 58h2v1h-2zM71 61h2v1h-2zM71 64h2v1h-2zM71 67h2v1h-2zM71 70h2v1h-2zM71 73m1 0h1v2h-2v-1h1zM71 76h2v1h-1v1h-1zM71 79h2v1h-2zM71 82h1v2h-1zM71 85m1 0h1v2h-2v-1h1zM71 88h2v1h-2zM71 91h2v2h-1v-1h-1zM71 94h2v1h-2zM71 97m1 0h1v2h-2v-1h1zM74 5h1v1h-1zM74 8h1v2h-1zM74 11h1v1h-1zM74 17h1v1h-1zM74 20h1v2h-1zM74 23h1v2h-1zM74 26h1v1h-1zM74 29h1v2h-1zM74 32h1v2h-1zM74 35h1v1h-1zM74 38h1v2h-1zM74 41h1v1h-1zM74 44h1v1h-1zM74 47h1v1h-1zM74 50h1v1h-1zM74 53h1v1h1v1h-2zM74 56h1v1h-1zM74 59h1v1h-1zM74 62h1v2h-1zM74 65h1v1h-1zM74 68h1v1h-1zM74 71h1v2h-1zM74 74h1v1h-1zM74 77h1v2h-1zM74 80h1v2h-1zM74 83h1v2h-1zM74 86h1v1h-1zM74 89h1v2h-1zM74 92h1v2h-1zM74 95h2v1h-1v1h-1zM74 98h2v2h-1v-1h-1zM78 0h1v2h-1zM78 3h2v1h-2zM78 6h2v1h-2zM78 9h1v1h-1zM78 12h2v2h-2zM78 15h2v1h-2zM78 18h1v2h-1zM78 21h2v1h-2zM78 24h1v2h-1zM78 27h1v2h-1zM78 30h2v1h-2zM78 33h2v1h-2zM78 36h1v2h-1zM78 39h1v2h-1zM78 42h1v2h-1zM78 45h1v2h-1zM78 48h1v2h-1zM78 52h1v1h-1zM78 55h2v1h-2zM78 58h1v2h-1zM78 61h1v2h-1zM78 64h1v1h-1zM78 67h1v2h-1zM78 70h2v1h-2zM78 73h2v2h-1v-1h-1zM78 76h2v2h-2zM78 79h1v1h-1zM78 82m1 0h1v2h-2v-1h1zM78 85h2v1h-2zM78 88h2v1h-2zM78 91h1v2h-1zM78 94h1v2h-1zM78 97h2v2h-1v-1h-1zM81 2h1v1h-1zM81 5h1v1h-1zM81 8h1v2h-1zM81 11h1v2h-1zM81 14h1v2h-1zM81 17h1v1h-1zM81 20h1v2h-1zM81 23h1v2h-1zM81 26h1v2h-1zM81 29h1v2h-1zM81 35h1v2h-1zM81 41h1v2h-1zM81 53h1v1h-1zM81 56h2v1h-1v1h-1zM81 59h1v1h-1zM81 62h1v2h-1zM81 68h1v1h-1zM81 71h1v1h-1zM81 74h1v1h-1zM81 77h1v1h-1zM81 80h1v1h-1zM81 83h1v2h-1zM81 86h2v1h-1v1h-1zM81 89h1v2h-1zM81 92h1v2h-1zM81 95h1v1h-1zM81 98h1v2h-1z" fill="#000" shape-rendering="crispEdges"/></pattern>
<pattern id="p20" width="84" height="100" patternUnits="userSpaceOnUse"><path d="M0 0h1v1h-1zM0 3h2v2h-1v-1h-1zM0 6h2v1h-2zM0 9h1v2h-1zM0 12h1v2h-1zM0 15h1v1h-1zM0 18h1v2h-1zM0 21h1v2h-1zM0 24m1 0h1v2h-2v-1h1zM0 27h1v2h-1zM0 30h2v1h-2zM0 33h2v1h-2zM0 36h1v1h-1zM0 39m1 0h1v2h-2v-1h1zM0 42h2v1h-2zM0 45h2v1h-2zM0 48h1v1h-1zM0 52h2v1h-2zM0 55h1v2h-1zM0 58h2v1h-1v1h-1zM0 61h1v2h-1zM0 64h2v2h-2zM0 67m1 0h1v2h-2v-1h1zM0 70h2v1h-2zM0 73h2v1h-2zM0 76h1v1h-1zM0 79h1v1h1v1h-2zM0 82h1v1h-1zM0 85h1v1h1v1h-2zM0 88h2v2h-1v-1h-1zM0 91h1v2h-1zM0 94h2v2h-1v-1h-1zM0 97h1v1h-1zM3 2h1v1h-1zM3 5h1v1h-1zM3 8h1v2h-1zM3 11h1v2h-1zM3 14h1v1h-1zM3 17h1v1h-1zM3 20h1v1h-1zM3 23h1v1h-1zM3 26h1v1h-1zM3 29h1v2h-1zM3 32h1v2h-1zM3 35h1v2h-1zM3 38h1v2h-1zM3 41h2v2h-1v-1h-1zM3 47h1v1h1v1h-2zM3 50h1v2h-1zM3 56h1v1h-1zM3 59h1v2h-1zM3 62m1 0h1v2h-2v-1h1zM3 65h1v1h-1zM3 68h1v1h-1zM3 71h1v2h-1zM3 74h1v2h-1zM3 77h1v1h-1zM3 80h1v1h-1zM3 86h1v2h-1zM3 89h1v2h-1zM3 92h1v2h-1zM3 95h1v2h-1zM3 98h1v1h-1zM6 0h2v1h-2zM6 3h2v2h-2zM6 6h2v2h-2zM6 9h2v1h-1v1h-1zM6 12h2v1h-2zM6 15h2v1h-1v1h-1zM6 18h1v1h1v1h-2zM6 21h1v2h-1zM6 24h2v2h-1v-1h-1zM6 27h1v1h-1zM6 30h2v2h-2zM6 33h2v2h-2zM6 36h1v2h-1zM6 39h2v1h-1v1h-1zM6 42m1 0h1v2h-2v-1h1zM6 45h2v1h-2zM6 48h1v1h-1zM6 52h1v2h-1zM6 55h1v1h-1zM6 58h1v2h-1zM6 61h1v2h-1zM6 64m1 0h1v2h-2v-1h1zM6 67h1v2h-1zM6 70h1v2h-1zM6 73h2v1h-2zM6 76h2v1h-2zM6 79h2v1h-2zM6 82m1 0h1v2h-2v-1h1zM6 85h2v1h-2zM6 88h1v2h-1zM6 91h1v2h-1zM6 94m1 0h1v2h-2v-1h1zM6 97h2v1h-2zM10 2h1v2h-1zM10 5h1v2h-1zM10 8h1v1h-1zM10 11h1v1h1v1h-2zM10 14h1v2h-1zM10 17h2v2h-1v-1h-1zM10 20h1v1h-1zM10 23h1v2h-1zM10 26h1v1h-1zM10 29h1v1h-1zM10 32h1v2h-1zM10 35h1v2h-1zM10 38h1v2h-1zM10 41m1 0h1v2h-2v-1h1zM10 44h1v2h-1zM10 50h1v1h-1zM10 53h1v2h-1zM10 56h1v1h-1zM10 59h1v1h-1zM10 62h1v2h-1zM10 65h1v2h-1zM10 68h1v1h-1zM10 71h1v2h-1zM10 74h1v2h-1zM10 77h1v2h-1zM10 80h1v2h-1zM10 83h1v1h-1zM10 86h1v1h-1zM10 89h1v2h-1zM10 92h1v1h1v1h-2zM10 95h1v1h-1zM10 98h2v1h-1v1h-1zM13 0m1 0h1v2h-2v-1h1zM13 3h1v1h1v1h-2zM13 6h1v1h-1zM13 9h2v2h-1v-1h-1zM13 12h2v1h-2zM13 15h2v1h-1v1h-1zM13 18h1v2h-1zM13 21h2v1h-2zM13 24h2v1h-2zM13 27h2v1h-2zM13 30h1v2h-1zM13 33h1v1h-1zM13 36h1v2h-1zM13 39h2v1h-2zM13 42h1v1h1v1h-2zM13 45h1v2h-1zM13 48h1v2h-1zM13 52h2v1h-2zM13 55h2v1h-2zM13 58h1v2h-1zM13 61h1v2h-1zM13 64h2v1h-2zM13 67h2v1h-2zM13 70h2v1h-2zM13 73h2v1h-2zM13 76h2v1h-1v1h-1zM13 79h2v2h-2zM13 82h1v1h-1zM13 85h2v2h-1v-1h-1zM13 88h1v2h-1zM13 91h2v1h-1v1h-1zM13 94h1v2h-1zM13 97h2v1h-2zM16 2h1v1h-1zM16 5h1v2h-1zM16 8m1 0h1v2h-2v-1h1zM16 11h1v1h-1zM16 14h1v2h-1zM16 17h1v2h-1zM16 20h1v2h-1zM16 26h1v2h-1zM16 29h1v1h-1zM16 32h1v1h-1zM16 38h1v1h-1zM16 41h1v1h-1zM16 44h1v2h-1zM16 47h1v2h-1zM16 50h1v2h-1zM16 53h1v2h-1zM16 56h1v2h-1zM16 59h1v1h1v1h-2zM16 62h1v2h-1zM16 65h2v1h-1v1h-1zM16 68h1v1h-1zM16 71h1v2h-1zM16 74h1v2h-1zM16 77h1v2h-1zM16 80h1v2h-1zM16 83h2v1h-1v1h-1zM16 86h1v1h1v1h-2zM16 89h2v2h-1v-1h-1zM16 92m1 0h1v2h-2v-1h1zM16 95h1v2h-1zM16 98h1v1h-1zM19 0h2v1h-2zM19 3h2v2h-2zM19 6h2v1h-2zM19 9h2v1h-1v1h-1zM19 12h1v1h1v1h-2zM19 15h1v2h-1zM19 18m1 0h1v2h-2v-1h1zM19 21h2v1h-1v1h-1zM19 24h2v2h-1v-1h-1zM19 27m1 0h1v2h-2v-1h1zM19 30h2v1h-2zM19 33h1v2h-1zM19 36m1 0h1v2h-2v-1h1zM19 39h1v2h-1zM19 42h2v2h-1v-1h-1zM19 45h1v1h-1zM19 48h1v2h-1zM19 52h1v2h-1zM19 55h1v2h-1zM19 58h1v2h-1zM19 61m1 0h1v2h-2v-1h1zM19 64h1v2h-1zM19 67h1v1h-1zM19 70h1v1h1v1h-2zM19 73h2v2h-1v-1h-1zM19 76h2v1h-1v1h-1zM19 79m1 0h1v2h-2v-1h1zM19 82h1v1h1v1h-2zM19 85h2v1h-2zM19 88h2v2h-2zM19 91h2v1h-2zM19 94h2v2h-1v-1h-1zM19 97h2v1h-2zM23 2h2v2h-1v-1h-1zM23 5m1 0h1v2h-2v-1h1zM23 8h2v2h-1v-1h-1zM23 11h1v1h-1zM23 14h1v1h-1zM23 17h1v1h-1zM23 20h1v2h-1zM23 23h1v2h-1zM23 26h1v2h-1zM23 29h1v2h-1zM23 32h1v2h-1zM23 38h1v1h-1zM23 41h1v1h-1zM23 44h1v2h-1zM23 47h1v2h-1zM23 50h1v1h-1zM23 53h1v2h-1zM23 56h1v2h-1zM23 59h1v2h-1zM23 62h1v2h-1zM23 65h1v2h-1zM23 68h1v2h-1zM23 71h1v1h-1zM23 74h1v2h-1zM23 77h1v1h-1zM23 80h1v1h-1zM23 83h1v2h-1zM23 86h1v1h-1zM23 89h1v1h-1zM23 92h1v2h-1zM23 95h1v1h-1zM23 98h1v1h-1zM26 0h1v1h1v1h-2zM26 3h2v2h-1v-1h-1zM26 6h1v2h-1zM26 9h1v2h-1zM26 12h1v1h1v1h-2zM26 15h1v2h-1zM26 18h2v1h-2zM26 21h1v2h-1zM26 24h2v1h-2zM26 27h1v2h-1zM26 30h1v2h-1zM26 33h2v2h-1v-1h-1zM26 36h2v2h-1v-1h-1zM26 39h2v1h-2zM26 42h2v2h-2zM26 45h1v2h-1zM26 48h2v1h-1v1h-1zM26 52h2v1h-2zM26 55h1v2h-1zM26 58h1v2h-1zM26 61h1v2h-1zM26 64h1v2h-1zM26 67h1v2h-1zM26 70h1v1h1v1h-2zM26 73h2v1h-2zM26 76m1 0h1v2h-2v-1h1zM26 79h2v1h-2zM26 82h2v1h-1v1h-1zM26 85h1v1h1v1h-2zM26 88h2v1h-2zM26 91h1v2h-1zM26 94h1v1h-1zM26 97h2v1h-2zM29 2h1v2h-1zM29 5h1v2h-1zM29 8h1v1h-1zM29 11h1v2h-1zM29 14h1v2h-1zM29 20h1v1h1v1h-2zM29 23h1v2h-1zM29 26h1v1h-1zM29 29h1v1h-1zM29 32h1v2h-1zM29 35h1v1h-1zM29 38h1v1h-1zM29 41h1v1h-1zM29 44h1v2h-1zM29 47h1v1h-1zM29 50h1v1h-1zM29 53h2v1h-1v1h-1zM29 56h1v2h-1zM29 59h1v2h-1zM29 62h1v2h-1zM29 65h1v1h-1zM29 68h1v2h-1zM29 71h1v2h-1zM29 74h1v2h-1zM29 77h1v1h-1zM29 80h1v2h-1zM29 83h1v1h-1zM29 86h1v2h-1zM29 89h1v2h-1zM29 92h1v2h-1zM29 95h1v2h-1zM29 98h1v1h-1zM32 0m1 0h1v2h-2v-1h1zM32 3h1v2h-1zM32 6h1v1h1v1h-2zM32 9m1 0h1v2h-2v-1h1zM32 12h1v2h-1zM32 15h2v2h-2zM32 18h2v2h-1v-1h-1zM32 21h2v2h-1v-1h-1zM32 24h1v2h-1zM32 27h1v2h-1zM32 30h1v1h-1zM32 33h2v2h-2zM32 36h2v1h-2zM32 39h1v2h-1zM32 42h2v2h-1v-1h-1zM32 45h2v2h-2zM32 48h1v2h-1zM32 52h1v2h-1zM32 55h2v1h-2zM32 58h2v1h-2zM32 61h1v2h-1zM32 64h1v2h-1zM32 67h2v2h-1v-1h-1zM32 70h1v1h1v1h-2zM32 73h2v1h-2zM32 76h2v1h-2zM32 79h2v1h-2zM32 82h1v2h-1zM32 85h2v2h-1v-1h-1zM32 88h2v1h-2zM32 91h2v1h-2zM32 94h2v1h-2zM32 97m1 0h1v2h-2v-1h1zM36 2h1v2h-1zM36 5h1v2h-1zM36 8m1 0h1v2h-2v-1h1zM36 11h1v1h-1zM36 14h1v2h-1zM36 17h1v2h-1zM36 20h1v2h-1zM36 23h2v2h-1v-1h-1zM36 26h1v2h-1zM36 29h1v2h-1zM36 35h1v1h-1zM36 38h1v2h-1zM36 41h1v2h-1zM36 44h1v2h-1zM36 47h1v2h-1zM36 50m1 0h1v2h-2v-1h1zM36 53h1v1h-1zM36 56h1v1h-1zM36 59h1v1h-1zM36 62h1v1h-1zM36 65h1v1h1v1h-2zM36 68h1v1h-1zM36 71h1v2h-1zM36 74h1v1h-1zM36 77h1v2h-1zM36 80h1v2h-1zM36 86h1v2h-1zM36 89h1v2h-1zM36 92m1 0h1v2h-2v-1h1zM36 95h1v1h-1zM36 98h1v2h-1zM39 0h2v1h-1v1h-1zM39 3h1v1h-1zM39 6h1v1h1v1h-2zM39 9h2v2h-1v-1h-1zM39 12h1v2h-1zM39 15h1v2h-1zM39 18h1v2h-1zM39 21h2v1h-2zM39 24h2v2h-1v-1h-1zM39 27h1v2h-1zM39 30h2v1h-2zM39 33h1v2h-1zM39 36h1v1h-1zM39 39h1v2h-1zM39 42h1v1h-1zM39 45h2v2h-2zM39 48h2v1h-2zM39 52h2v1h-2zM39 55h1v1h-1zM39 58h2v1h-2zM39 61h2v1h-2zM39 64h2v1h-2zM39 67h2v2h-1v-1h-1zM39 70h2v1h-1v1h-1zM39 73h1v2h-1zM39 76h1v1h-1zM39 79h1v1h-1zM39 82h2v2h-1v-1h-1zM39 85h2v1h-1v1h-1zM39 88h2v2h-2zM39 91h1v1h-1zM39 94h2v1h-1v1h-1zM39 97h1v1h1v1h-2zM42 2h1v2h-1zM42 8h1v2h-1zM42 11h1v1h-1zM42 14h1v1h-1zM42 17h1v1h-1zM42 20h1v2h-1zM42 23h1v2h-1zM42 26h1v1h-1zM42 29h1v2h-1zM42 32h1v2h-1zM42 35h1v2h-1zM42 38h1v2h-1zM42 41h1v2h-1zM42 44h1v1h-1zM42 47h1v1h-1zM42 50h1v1h-1zM42 53h1v2h-1zM42 56h1v1h-1zM42 59h1v1h-1zM42 62h1v2h-1zM42 65h1v2h-1zM42 68h1v1h-1zM42 71h1v2h-1zM42 74h1v2h-1zM42 77h1v2h-1zM42 80h1v1h-1zM42 83h1v1h-1zM42 86h1v2h-1zM42 89h1v2h-1zM42 92h1v2h-1zM42 98h1v1h-1zM45 0h1v1h-1zM45 3h2v2h-1v-1h-1zM45 6h2v1h-2zM45 9h2v1h-2zM45 12h2v2h-2zM45 15m1 0h1v2h-2v-1h1zM45 18h2v1h-2zM45 21h2v1h-2zM45 24h1v1h-1zM45 27h1v2h-1zM45 30h1v1h1v1h-2zM45 33h2v1h-2zM45 36h1v2h-1zM45 39h2v1h-2zM45 42h2v1h-2zM45 45h1v1h-1zM45 48h1v2h-1zM45 52h2v1h-2zM45 55h2v1h-2zM45 58h1v1h-1zM45 61h2v1h-2zM45 64h2v2h-1v-1h-1zM45 67h2v2h-1v-1h-1zM45 70h2v1h-1v1h-1zM45 73h1v1h1v1h-2zM45 76h2v1h-2zM45 79h1v1h-1zM45 82h1v1h1v1h-2zM45 85h2v2h-2zM45 88h1v2h-1zM45 91h1v2h-1zM45 94h1v2h-1zM45 97h2v2h-2zM48 2h1v1h-1zM48 5h1v2h-1zM48 8h1v2h-1zM48 11h1v2h-1zM48 14h1v2h-1zM48 17h1v1h-1zM48 20h1v1h-1zM48 23h1v2h-1zM48 26h1v1h-1zM48 29h1v1h-1zM48 32h1v2h-1zM48 35h1v2h-1zM48 38h1v1h-1zM48 41h2v2h-1v-1h-1zM48 44h1v2h-1zM48 47h1v1h-1zM48 50h1v1h-1zM48 53h1v2h-1zM48 56h1v2h-1zM48 59h1v2h-1zM48 62h1v2h-1zM48 65h2v2h-1v-1h-1zM48 68h1v1h-1zM48 71h1v1h-1zM48 74h2v1h-1v1h-1zM48 77h1v1h-1zM48 80h1v1h-1zM48 83h1v2h-1zM48 86h1v2h-1zM48 89h1v2h-1zM48 92h1v2h-1zM48 95h1v2h-1zM48 98h1v2h-1zM52 0h1v1h1v1h-2zM52 3h1v2h-1zM52 6h1v1h-1zM52 9h1v1h-1zM52 12h1v2h-1zM52 15h1v2h-1zM52 18h2v2h-1v-1h-1zM52 21h2v1h-2zM52 24h2v1h-2zM52 27m1 0h1v2h-2v-1h1zM52 30h2v2h-1v-1h-1zM52 33h1v2h-1zM52 36h2v1h-1v1h-1zM52 39m1 0h1v2h-2v-1h1zM52 42h1v2h-1zM52 45h1v2h-1zM52 48h2v1h-2zM52 52h2v1h-2zM52 55m1 0h1v2h-2v-1h1zM52 58h2v1h-2zM52 61h2v1h-2zM52 64h2v1h-2zM52 67h2v2h-1v-1h-1zM52 70h1v1h-1zM52 73h2v2h-2zM52 76h2v2h-2zM52 79h1v1h-1zM52 82h1v2h-1zM52 85h2v2h-1v-1h-1zM52 88h1v2h-1zM52 91h2v2h-2zM52 94h2v1h-2zM52 97m1 0h1v2h-2v-1h1zM55 2h1v1h-1zM55 5h1v1h-1zM55 8h1v2h-1zM55 11h1v2h-1zM55 14h2v1h-1v1h-1zM55 17h1v2h-1zM55 20h1v1h-1zM55 23h1v1h1v1h-2zM55 26h1v2h-1zM55 29h1v2h-1zM55 32h2v1h-1v1h-1zM55 35h1v2h-1zM55 38h1v2h-1zM55 44h2v2h-1v-1h-1zM55 47h2v2h-1v-1h-1zM55 50h1v2h-1zM55 56h1v2h-1zM55 59m1 0h1v2h-2v-1h1zM55 62h1v2h-1zM55 65h1v2h-1zM55 68h2v1h-1v1h-1zM55 71h1v2h-1zM55 74h1v1h-1zM55 77h1v2h-1zM55 80h1v2h-1zM55 83h1v1h1v1h-2zM55 86h1v2h-1zM55 89h1v1h-1zM55 92h1v1h-1zM55 95h1v1h-1zM55 98h1v2h-1zM58 0h1v2h-1zM58 3h1v1h-1zM58 6h2v1h-2zM58 9h1v2h-1zM58 12h2v2h-1v-1h-1zM58 15h1v2h-1zM58 18h2v2h-1v-1h-1zM58 21h2v1h-2zM58 24h2v1h-2zM58 27h1v1h-1zM58 30h2v1h-2zM58 33h1v2h-1zM58 36h1v1h-1zM58 39h2v1h-2zM58 42h2v1h-2zM58 45h1v2h-1zM58 48h2v1h-2zM58 52h1v1h1v1h-2zM58 55h2v1h-2zM58 58h2v1h-1v1h-1zM58 61h2v1h-2zM58 64h1v2h-1zM58 67h2v1h-2zM58 70h2v2h-1v-1h-1zM58 73h1v2h-1zM58 76h1v1h1v1h-2zM58 79h1v2h-1zM58 82h2v2h-2zM58 85h2v2h-2zM58 88h1v1h1v1h-2zM58 91h1v2h-1zM58 94h1v2h-1zM58 97m1 0h1v2h-2v-1h1zM61 5h1v2h-1zM61 8h1v1h1v1h-2zM61 11h1v1h-1zM61 14h1v2h-1zM61 17m1 0h1v2h-2v-1h1zM61 20h1v1h-1zM61 23h1v1h-1zM61 26h1v1h-1zM61 29h1v1h-1zM61 35h1v2h-1zM61 38h1v2h-1zM61 41h1v1h-1zM61 44h2v2h-1v-1h-1zM61 47m1 0h1v2h-2v-1h1zM61 50m1 0h1v2h-2v-1h1zM61 53h1v2h-1zM61 56h1v2h-1zM61 59h1v2h-1zM61 62h1v1h-1zM61 68h1v2h-1zM61 71h1v1h-1zM61 74m1 0h1v2h-2v-1h1zM61 77h1v1h-1zM61 80h1v1h-1zM61 83h1v2h-1zM61 86h1v1h1v1h-2zM61 89h1v1h-1zM61 92h1v1h-1zM61 95h1v1h-1zM61 98h1v1h-1zM65 0h1v1h-1zM65 3h2v1h-2zM65 6m1 0h1v2h-2v-1h1zM65 9h2v2h-2zM65 12h1v1h-1zM65 15h1v1h-1zM65 18h2v1h-2zM65 21h2v1h-1v1h-1zM65 24h2v2h-1v-1h-1zM65 27h1v2h-1zM65 30h1v2h-1zM65 33h1v1h1v1h-2zM65 36h2v1h-2zM65 39h1v1h-1zM65 42h1v1h1v1h-2zM65 45h2v2h-1v-1h-1zM65 48h2v1h-2zM65 52h2v1h-2zM65 55h2v1h-2zM65 58h1v2h-1zM65 61h2v1h-1v1h-1zM65 64h2v1h-2zM65 67h1v1h-1zM65 70h2v1h-2zM65 73h2v1h-2zM65 76h2v1h-2zM65 79h2v1h-2zM65 82h2v1h-1v1h-1zM65 85h2v2h-1v-1h-1zM65 88h1v1h-1zM65 91m1 0h1v2h-2v-1h1zM65 94h1v1h-1zM65 97h1v2h-1zM68 2h1v1h-1zM68 5h1v1h-1zM68 8h1v2h-1zM68 11h1v2h-1zM68 14h1v1h-1zM68 17m1 0h1v2h-2v-1h1zM68 20h1v2h-1zM68 23h1v2h-1zM68 26h1v2h-1zM68 29h1v1h-1zM68 32h1v1h-1zM68 35h1v1h-1zM68 38h1v1h-1zM68 41h1v2h-1zM68 44h1v2h-1zM68 47h1v2h-1zM68 50h1v1h-1zM68 53h1v2h-1zM68 56h1v2h-1zM68 59h2v1h-1v1h-1zM68 62h1v2h-1zM68 68h1v1h-1zM68 71h1v2h-1zM68 74h1v1h-1zM68 77h1v1h-1zM68 80m1 0h1v2h-2v-1h1zM68 83h1v1h1v1h-2zM68 86h1v2h-1zM68 89h1v1h-1zM68 92h1v1h-1zM68 95h2v2h-1v-1h-1zM68 98h1v1h-1zM71 0h1v2h-1zM71 3h2v1h-1v1h-1zM71 6h2v2h-2zM71 9h2v1h-2zM71 12m1 0h1v2h-2v-1h1zM71 15h2v1h-2zM71 18h2v1h-2zM71 21h1v1h1v1h-2zM71 24h1v2h-1zM71 27h2v1h-2zM71 30h1v1h-1zM71 33h1v2h-1zM71 36h1v1h-1zM71 39h1v1h-1zM71 42h1v2h-1zM71 45h2v2h-2zM71 48h2v2h-1v-1h-1zM71 52h1v2h-1zM71 55h1v2h-1zM71 58h2v1h-2zM71 61h2v2h-1v-1h-1zM71 64h1v2h-1zM71 67h1v2h-1zM71 70h1v1h-1zM71 73h1v1h-1zM71 76h2v1h-1v1h-1zM71 79h2v1h-2zM71 82h2v1h-2zM71 85h1v1h-1zM71 88h1v2h-1zM71 91h2v2h-1v-1h-1zM71 94h1v2h-1zM71 97h2v1h-2zM74 2h1v2h-1zM74 5h1v1h-1zM74 8m1 0h1v2h-2v-1h1zM74 11h1v1h-1zM74 14h1v2h-1zM74 17h1v1h-1zM74 20h1v2h-1zM74 23h1v2h-1zM74 29h1v2h-1zM74 32h1v2h-1zM74 35h1v1h-1zM74 38m1 0h1v2h-2v-1h1zM74 41h1v2h-1zM74 44h1v2h-1zM74 47h2v2h-1v-1h-1zM74 50h1v1h-1zM74 53h1v1h-1zM74 56h1v1h-1zM74 59h2v2h-1v-1h-1zM74 62h1v2h-1zM74 68h1v2h-1zM74 71h1v2h-1zM74 74h1v2h-1zM74 77h2v2h-1v-1h-1zM74 80h1v1h-1zM74 83h1v1h-1zM74 86h1v2h-1zM74 89h1v2h-1zM74 92h1v2h-1zM74 95h2v2h-1v-1h-1zM74 98h1v2h-1zM78 0h2v1h-2zM78 3h2v1h-2zM78 6h1v2h-1zM78 9m1 0h1v2h-2v-1h1zM78 12h1v2h-1zM78 15h2v2h-1v-1h-1zM78 18h2v1h-1v1h-1zM78 21h1v2h-1zM78 24h1v2h-1zM78 27h2v2h-2zM78 30m1 0h1v2h-2v-1h1zM78 33h1v1h-1zM78 36h1v1h-1zM78 39h1v2h-1zM78 42h1v1h-1zM78 45h2v1h-1v1h-1zM78 48h2v1h-2zM78 52h1v2h-1zM78 55h2v2h-1v-1h-1zM78 58h2v1h-2zM78 61h2v1h-2zM78 64h2v1h-2zM78 67h1v1h-1zM78 70h1v1h1v1h-2zM78 73h2v1h-2zM78 76h2v1h-1v1h-1zM78 79h2v1h-2zM78 82h1v2h-1zM78 85h2v2h-2zM78 88h2v1h-2zM78 91h1v2h-1zM78 94h2v2h-1v-1h-1zM78 97h1v2h-1zM81 2h1v1h-1zM81 5h1v1h-1zM81 8h1v2h-1zM81 11h1v2h-1zM81 14h1v2h-1zM81 17h1v1h-1zM81 20h1v1h-1zM81 23h1v2h-1zM81 26h2v1h-1v1h-1zM81 29h1v1h-1zM81 32h1v1h-1zM81 35h2v2h-1v-1h-1zM81 38h1v1h-1zM81 41m1 0h1v2h-2v-1h1zM81 44h1v1h-1zM81 50h2v1h-1v1h-1zM81 53h1v1h-1zM81 56h1v1h-1zM81 59h1v2h-1zM81 62h1v1h-1zM81 65h1v1h-1zM81 68h1v2h-1zM81 71h1v2h-1zM81 74h1v1h1v1h-2zM81 77h1v1h-1zM81 80h1v2h-1zM81 83h1v1h-1zM81 86h1v2h-1zM81 89h1v2h-1zM81 92h1v1h-1zM81 95h1v1h-1zM81 98h1v1h-1z" fill="#000" shape-rendering="crispEdges"/></pattern>
<pattern id="p22" width="84" height="100" patternUnits="userSpaceOnUse"><path d="M0 0h2v1h-1v1h-1zM0 3m1 0h1v2h-2v-1h1zM0 6h1v2h-1zM0 9h2v1h-2zM0 12h2v1h-2zM0 15h1v2h-1zM0 18h2v1h-2zM0 21h2v1h-1v1h-1zM0 24h1v1h-1zM0 27h1v2h-1zM0 30h1v1h-1zM0 33h2v2h-2zM0 36h1v1h1v1h-2zM0 39h1v1h-1zM0 42h1v2h-1zM0 45h1v1h-1zM0 48m1 0h1v2h-2v-1h1zM0 52h2v2h-2zM0 55h1v2h-1zM0 58h2v1h-2zM0 61h2v2h-1v-1h-1zM0 64h2v1h-2zM0 67m1 0h1v2h-2v-1h1zM0 70h2v1h-2zM0 73h1v1h1v1h-2zM0 76h2v2h-1v-1h-1zM0 79h2v1h-1v1h-1zM0 82h1v2h-1zM0 85h2v1h-1v1h-1zM0 88h2v1h-2zM0 91h1v2h-1zM0 94h1v2h-1zM0 97h2v1h-2zM3 2h1v2h-1zM3 5h1v2h-1zM3 8h2v1h-1v1h-1zM3 11h1v2h-1zM3 14h1v2h-1zM3 17h1v2h-1zM3 23h2v2h-1v-1h-1zM3 26h1v1h-1zM3 29m1 0h1v2h-2v-1h1zM3 32h1v1h-1zM3 38h1v2h-1zM3 41h2v2h-1v-1h-1zM3 44h1v1h-1zM3 47h1v2h-1zM3 50h1v1h-1zM3 53h1v2h-1zM3 56h1v2h-1zM3 59m1 0h1v2h-2v-1h1zM3 62h1v2h-1zM3 65h1v2h-1zM3 68h1v2h-1zM3 71h1v1h-1zM3 74h1v2h-1zM3 77m1 0h1v2h-2v-1h1zM3 80h1v1h-1zM3 83h1v2h-1zM3 86h1v1h-1zM3 89h1v2h-1zM3 95h1v2h-1zM3 98h1v2h-1zM6 0m1 0h1v2h-2v-1h1zM6 3h1v1h1v1h-2zM6 6h2v1h-2zM6 9h1v2h-1zM6 12h1v2h-1zM6 15h1v1h-1zM6 18h2v1h-2zM6 21h2v1h-2zM6 24h2v2h-1v-1h-1zM6 27h2v1h-2zM6 30h2v1h-2zM6 33h1v1h1v1h-2zM6 36h1v2h-1zM6 39h1v2h-1zM6 42h1v1h1v1h-2zM6 45h1v2h-1zM6 48h2v2h-1v-1h-1zM6 52h1v1h-1zM6 55h1v2h-1zM6 58h2v1h-1v1h-1zM6 61h2v1h-2zM6 64m1 0h1v2h-2v-1h1zM6 67h2v1h-2zM6 70h2v2h-1v-1h-1zM6 73h1v1h1v1h-2zM6 76h1v1h1v1h-2zM6 79h2v1h-2zM6 82h1v2h-1zM6 85h1v2h-1zM6 88h1v2h-1zM6 91h2v2h-2zM6 94h2v2h-2zM6 97h1v2h-1zM10 2h1v1h-1zM10 5h1v1h-1zM10 8h1v2h-1zM10 11m1 0h1v2h-2v-1h1zM10 14h1v2h-1zM10 17h1v1h-1zM10 20h1v2h-1zM10 23h1v2h-1zM10 26h1v2h-1zM10 29h1v2h-1zM10 32h1v1h-1zM10 35h1v1h-1zM10 38h1v1h-1zM10 41h1v2h-1zM10 44h1v1h-1zM10 47h1v2h-1zM10 50h1v2h-1zM10 53h1v2h-1zM10 56h1v2h-1zM10 59h1v2h-1zM10 62h1v2h-1zM10 65h1v2h-1zM10 68h1v1h1v1h-2zM10 71h1v2h-1zM10 74h1v1h-1zM10 77h1v2h-1zM10 80h1v2h-1zM10 83m1 0h1v2h-2v-1h1zM10 86h1v1h-1zM10 89h1v2h-1zM10 92h2v1h-1v1h-1zM10 95h1v2h-1zM10 98h1v2h-1zM13 0m1 0h1v2h-2v-1h1zM13 3h2v2h-1v-1h-1zM13 6h2v2h-1v-1h-1zM13 9h2v1h-1v1h-1zM13 12h2v1h-2zM13 15h1v1h-1zM13 18h1v1h1v1h-2zM13 21m1 0h1v2h-2v-1h1zM13 24m1 0h1v2h-2v-1h1zM13 27m1 0h1v2h-2v-1h1zM13 30h2v1h-1v1h-1zM13 33h2v1h-2zM13 36h2v2h-2zM13 39h1v2h-1zM13 42h2v1h-2zM13 45h1v2h-1zM13 48m1 0h1v2h-2v-1h1zM13 52h1v1h1v1h-2zM13 55h2v1h-1v1h-1zM13 58m1 0h1v2h-2v-1h1zM13 61h1v2h-1zM13 64h2v1h-1v1h-1zM13 67h2v1h-2zM13 70m1 0h1v2h-2v-1h1zM13 73h2v1h-2zM13 76h2v2h-2zM13 79h2v1h-2zM13 82h2v2h-1v-1h-1zM13 85h1v2h-1zM13 88h1v2h-1zM13 91h2v2h-1v-1h-1zM13 94m1 0h1v2h-2v-1h1zM13 97h1v1h-1zM16 2h1v2h-1zM16 5h1v2h-1zM16 8h2v2h-1v-1h-1zM16 11m1 0h1v2h-2v-1h1zM16 14h1v2h-1zM16 17h1v1h-1zM16 20h1v2h-1zM16 23h1v1h-1zM16 26h1v2h-1zM16 32h1v1h-1zM16 35h1v2h-1zM16 38m1 0h1v2h-2v-1h1zM16 41h1v2h-1zM16 44h1v1h-1zM16 47h1v2h-1zM16 50h1v2h-1zM16 53h1v1h-1zM16 56h1v2h-1zM16 59h1v1h-1zM16 62h1v2h-1zM16 65h1v2h-1zM16 68h1v2h-1zM16 71h1v2h-1zM16 74h1v2h-1zM16 77h1v2h-1zM16 80h1v1h-1zM16 83h1v2h-1zM16 89h1v2h-1zM16 92h1v1h-1zM16 95h1v2h-1zM16 98h2v2h-1v-1h-1zM19 0h1v1h-1zM19 3h2v1h-2zM19 6h2v1h-1v1h-1zM19 9h1v2h-1zM19 12h1v1h1v1h-2zM19 15h2v1h-1v1h-1zM19 18h1v2h-1zM19 21h2v1h-1v1h-1zM19 24h2v1h-2zM19 27h2v1h-2zM19 30h2v1h-2zM19 33h1v1h1v1h-2zM19 36h1v2h-1zM19 39h2v1h-2zM19 42h2v2h-2zM19 45h2v1h-2zM19 48h2v1h-2zM19 52h1v1h1v1h-2zM19 55h2v1h-1v1h-1zM19 58h1v1h-1zM19 61h2v1h-2zM19 64m1 0h1v2h-2v-1h1zM19 67h2v1h-1v1h-1zM19 70h2v2h-1v-1h-1zM19 73h2v1h-2zM19 76m1 0h1v2h-2v-1h1zM19 79h1v2h-1zM19 82h1v1h1v1h-2zM19 85h1v2h-1zM19 88h2v1h-2zM19 91h1v2h-1zM19 94h1v1h-1zM19 97h2v1h-2zM23 2h1v1h-1zM23 5h1v1h1v1h-2zM23 8h1v2h-1zM23 11h1v1h-1zM23 14h2v2h-1v-1h-1zM23 17h1v1h-1zM23 20h1v1h-1zM23 23h1v2h-1zM23 26h1v2h-1zM23 29h2v2h-1v-1h-1zM23 32h1v1h-1zM23 35h1v2h-1zM23 38h1v2h-1zM23 41h2v2h-1v-1h-1zM23 44h1v2h-1zM23 47h1v1h-1zM23 50h1v1h1v1h-2zM23 53h1v2h-1zM23 56h1v2h-1zM23 59m1 0h1v2h-2v-1h1zM23 62h1v2h-1zM23 65h2v1h-1v1h-1zM23 68h1v1h-1zM23 71h1v1h-1zM23 74h1v1h-1zM23 80h1v2h-1zM23 83h1v2h-1zM23 86h1v1h-1zM23 89h1v2h-1zM23 92h2v2h-1v-1h-1zM23 95h1v1h-1zM23 98h1v2h-1zM26 0h2v1h-1v1h-1zM26 3h1v1h-1zM26 6h2v2h-2zM26 9h2v2h-2zM26 12h2v1h-2zM26 15h2v1h-2zM26 18h1v2h-1zM26 21h2v1h-2zM26 24h1v2h-1zM26 27h1v1h-1zM26 30h2v1h-2zM26 33h2v1h-2zM26 36h2v1h-1v1h-1zM26 39h1v1h1v1h-2zM26 42h2v1h-1v1h-1zM26 45h2v1h-2zM26 48h2v1h-1v1h-1zM26 52m1 0h1v2h-2v-1h1zM26 55h2v2h-2zM26 58h1v2h-1zM26 61h1v1h-1zM26 64h2v1h-2zM26 67h2v1h-1v1h-1zM26 70h2v1h-1v1h-1zM26 73h2v1h-2zM26 76h2v2h-1v-1h-1zM26 79h1v2h-1zM26 82h1v1h1v1h-2zM26 85h2v1h-2zM26 88h1v2h-1zM26 91h2v1h-1v1h-1zM26 94h1v1h-1zM26 97h1v1h1v1h-2zM29 2h1v2h-1zM29 5h1v1h-1zM29 8h1v1h-1zM29 11h1v1h-1zM29 14h1v1h-1zM29 17h1v2h-1zM29 20h1v1h-1zM29 23h1v1h1v1h-2zM29 26h1v2h-1zM29 29h1v2h-1zM29 32h1v2h-1zM29 35h1v2h-1zM29 38h1v2h-1zM29 41h1v1h-1zM29 44h2v1h-1v1h-1zM29 47h1v2h-1zM29 50h1v2h-1zM29 53h1v2h-1zM29 56h1v1h-1zM29 59h1v2h-1zM29 65h1v1h-1zM29 68h1v2h-1zM29 71h1v2h-1zM29 74m1 0h1v2h-2v-1h1zM29 77m1 0h1v2h-2v-1h1zM29 80h1v2h-1zM29 83h1v2h-1zM29 86h2v2h-1v-1h-1zM29 89h1v2h-1zM29 92h1v2h-1zM29 95h1v1h-1zM29 98h1v2h-1zM32 0m1 0h1v2h-2v-1h1zM32 3h1v1h1v1h-2zM32 6h2v2h-1v-1h-1zM32 9h1v1h-1zM32 12h2v1h-1v1h-1zM32 15h1v1h1v1h-2zM32 18h2v1h-2zM32 21h2v2h-1v-1h-1zM32 24h1v2h-1zM32 27m1 0h1v2h-2v-1h1zM32 30h1v1h-1zM32 33h1v1h1v1h-2zM32 36h1v2h-1zM32 39h2v2h-1v-1h-1zM32 42h1v1h-1zM32 45h2v2h-2zM32 48h1v2h-1zM32 52h2v2h-1v-1h-1zM32 55h1v1h1v1h-2zM32 58h2v2h-1v-1h-1zM32 61h2v2h-1v-1h-1zM32 64h2v2h-2zM32 67h1v1h-1zM32 70h1v1h-1zM32 73h2v1h-2zM32 76h1v2h-1zM32 79h2v2h-2zM32 82h2v1h-2zM32 85h2v2h-2zM32 88h1v1h1v1h-2zM32 91h1v2h-1zM32 94h2v2h-1v-1h-1zM32 97h2v1h-2zM36 2h1v2h-1zM36 5h1v2h-1zM36 8h1v2h-1zM36 11h1v1h-1zM36 14h1v2h-1zM36 17h2v2h-1v-1h-1zM36 20h1v1h-1zM36 23h1v2h-1zM36 26m1 0h1v2h-2v-1h1zM36 29h1v2h-1zM36 32h1v1h-1zM36 35h1v2h-1zM36 38h2v1h-1v1h-1zM36 41h1v1h-1zM36 44h1v2h-1zM36 47h1v1h1v1h-2zM36 50h1v1h-1zM36 53h1v2h-1zM36 56h1v2h-1zM36 59h1v2h-1zM36 62h1v2h-1zM36 65h1v2h-1zM36 68h1v1h-1zM36 71h1v2h-1zM36 74h1v2h-1zM36 77h1v2h-1zM36 80h1v1h1v1h-2zM36 83h1v2h-1zM36 86h1v2h-1zM36 89h1v1h-1zM36 92h1v1h-1zM36 95h1v1h-1zM36 98h1v2h-1zM39 0h2v1h-2zM39 3h2v1h-1v1h-1zM39 6h1v1h-1zM39 9h1v1h-1zM39 12h1v1h-1zM39 15h2v2h-1v-1h-1zM39 18h2v1h-2zM39 21h2v1h-1v1h-1zM39 24h1v1h1v1h-2zM39 27h2v1h-2zM39 30h2v2h-1v-1h-1zM39 33h2v2h-2zM39 36h2v1h-2zM39 39h2v1h-2zM39 42h1v1h-1zM39 45h2v1h-2zM39 48h2v1h-2zM39 52m1 0h1v2h-2v-1h1zM39 55h2v2h-2zM39 58h2v2h-1v-1h-1zM39 61h1v1h-1zM39 64h1v1h-1zM39 67h1v1h1v1h-2zM39 70h2v2h-2zM39 73h2v1h-2zM39 76h1v2h-1zM39 79h1v2h-1zM39 82h1v2h-1zM39 85h1v1h-1zM39 88h1v2h-1zM39 91h2v1h-2zM39 94h1v1h-1zM39 97h2v2h-1v-1h-1zM42 2h1v2h-1zM42 5m1 0h1v2h-2v-1h1zM42 8h1v1h-1zM42 11h1v1h-1zM42 14h1v2h-1zM42 17h1v2h-1zM42 20h1v1h-1zM42 23h1v2h-1zM42 26h1v2h-1zM42 29h1v2h-1zM42 32h1v1h-1zM42 35h1v1h-1zM42 38h1v2h-1zM42 41h1v1h-1zM42 44h1v2h-1zM42 47h2v1h-1v1h-1zM42 50h1v2h-1zM42 53h1v2h-1zM42 56h1v1h-1zM42 59h2v2h-1v-1h-1zM42 65h1v1h-1zM42 68h1v1h-1zM42 71h1v2h-1zM42 74h1v2h-1zM42 77h1v2h-1zM42 80h1v2h-1zM42 83h1v2h-1zM42 89h1v1h-1zM42 92h1v2h-1zM42 95h1v2h-1zM42 98h1v2h-1zM45 0h2v2h-2zM45 3h2v2h-1v-1h-1zM45 6h2v1h-2zM45 9h2v1h-2zM45 12h2v1h-1v1h-1zM45 15h1v1h1v1h-2zM45 18h2v1h-2zM45 21h1v2h-1zM45 24m1 0h1v2h-2v-1h1zM45 27h1v1h-1zM45 30h1v1h1v1h-2zM45 33h2v2h-2zM45 36h2v1h-1v1h-1zM45 39h1v2h-1zM45 42h2v2h-1v-1h-1zM45 45h1v2h-1zM45 48h1v2h-1zM45 52h2v2h-1v-1h-1zM45 55h1v1h1v1h-2zM45 58h1v1h1v1h-2zM45 61m1 0h1v2h-2v-1h1zM45 64h2v1h-1v1h-1zM45 67h2v1h-2zM45 70h1v2h-1zM45 73h1v1h1v1h-2zM45 76h2v2h-2zM45 79h2v2h-1v-1h-1zM45 82h1v2h-1zM45 85h1v1h1v1h-2zM45 88m1 0h1v2h-2v-1h1zM45 91m1 0h1v2h-2v-1h1zM45 94h2v1h-2zM45 97h2v1h-1v1h-1zM48 2h1v1h-1zM48 5h1v2h-1zM48 8h1v1h-1zM48 11h1v2h-1zM48 14h1v1h1v1h-2zM48 17h1v2h-1zM48 20h2v2h-1v-1h-1zM48 23h1v2h-1zM48 26h1v2h-1zM48 29h1v1h-1zM48 32h2v2h-1v-1h-1zM48 35h1v2h-1zM48 38h2v2h-1v-1h-1zM48 41h1v2h-1zM48 44h2v1h-1v1h-1zM48 47h1v1h-1zM48 50h1v2h-1zM48 53h1v2h-1zM48 56h1v1h1v1h-2zM48 59m1 0h1v2h-2v-1h1zM48 62h1v1h1v1h-2zM48 65h1v2h-1zM48 68h1v1h-1zM48 71h1v2h-1zM48 74h1v2h-1zM48 77h1v2h-1zM48 83h1v2h-1zM48 86h1v2h-1zM48 89h1v2h-1zM48 92h1v2h-1zM48 95h1v2h-1zM48 98h1v2h-1zM52 0h2v2h-1v-1h-1zM52 3h1v1h-1zM52 6h2v1h-2zM52 9h2v2h-2zM52 12h1v2h-1zM52 15h2v2h-1v-1h-1zM52 18h2v1h-2zM52 21h1v1h-1zM52 24h2v1h-2zM52 27h1v1h-1zM52 30h2v1h-2zM52 33h2v2h-2zM52 36h2v2h-2zM52 39h1v2h-1zM52 42h1v2h-1zM52 45m1 0h1v2h-2v-1h1zM52 48h1v1h1v1h-2zM52 52h1v2h-1zM52 55h1v1h1v1h-2zM52 58h2v2h-2zM52 61h1v1h-1zM52 64h1v2h-1zM52 67h2v1h-1v1h-1zM52 70h2v2h-2zM52 73h2v1h-1v1h-1zM52 76h2v1h-2zM52 79h2v1h-2zM52 82h2v1h-1v1h-1zM52 85h1v1h-1zM52 88h2v2h-2zM52 91h2v1h-1v1h-1zM52 94h1v2h-1zM52 97h2v1h-2zM55 2h1v1h-1zM55 5h1v2h-1zM55 8h1v2h-1zM55 11h1v1h-1zM55 14h2v1h-1v1h-1zM55 17h1v2h-1zM55 20h1v2h-1zM55 23h1v2h-1zM55 26h1v2h-1zM55 29h1v2h-1zM55 32h1v2h-1zM55 35h1v2h-1zM55 38h1v2h-1zM55 41h1v2h-1zM55 44h1v2h-1zM55 47h1v2h-1zM55 50h1v2h-1zM55 53h1v1h-1zM55 56h1v2h-1zM55 59h1v2h-1zM55 62h2v2h-1v-1h-1zM55 65h2v2h-1v-1h-1zM55 68h2v1h-1v1h-1zM55 71h1v2h-1zM55 74h1v2h-1zM55 77m1 0h1v2h-2v-1h1zM55 80h1v2h-1zM55 83h1v2h-1zM55 86h1v2h-1zM55 89h1v2h-1zM55 92h1v1h-1zM55 95h2v1h-1v1h-1zM55 98h1v2h-1zM58 0h1v2h-1zM58 3h2v1h-1v1h-1zM58 6h2v2h-1v-1h-1zM58 9h2v1h-2zM58 12h2v2h-1v-1h-1zM58 15h1v1h-1zM58 18h2v1h-2zM58 21h1v2h-1zM58 24h2v1h-2zM58 27h2v1h-2zM58 30h1v1h1v1h-2zM58 33h2v1h-2zM58 36h2v1h-2zM58 39h1v2h-1zM58 42h1v2h-1zM58 45h1v1h1v1h-2zM58 48h2v1h-2zM58 52h1v1h-1zM58 55m1 0h1v2h-2v-1h1zM58 58h1v1h-1zM58 61m1 0h1v2h-2v-1h1zM58 64m1 0h1v2h-2v-1h1zM58 67h1v1h1v1h-2zM58 70h2v1h-2zM58 73h1v2h-1zM58 76h2v1h-2zM58 79h1v2h-1zM58 82h2v1h-2zM58 85h1v1h1v1h-2zM58 88h2v2h-1v-1h-1zM58 91h1v1h1v1h-2zM58 94h2v1h-2zM58 97h2v1h-2zM61 2h1v2h-1zM61 5h1v2h-1zM61 8h1v1h-1zM61 11h1v2h-1zM61 14h1v1h-1zM61 17h1v2h-1zM61 20h1v2h-1zM61 23h1v2h-1zM61 26h1v2h-1zM61 29h1v2h-1zM61 32h1v1h-1zM61 35h1v1h-1zM61 38h1v2h-1zM61 41h1v2h-1zM61 44h1v1h-1zM61 47h1v1h-1zM61 50h1v2h-1zM61 53m1 0h1v2h-2v-1h1zM61 56h1v2h-1zM61 59h1v2h-1zM61 62h1v2h-1zM61 65h1v2h-1zM61 68h1v1h-1zM61 71h2v1h-1v1h-1zM61 74h1v1h-1zM61 77h1v2h-1zM61 80h1v2h-1zM61 83h1v2h-1zM61 86h1v2h-1zM61 89h1v2h-1zM61 95h1v2h-1zM61 98h1v2h-1zM65 0h1v1h-1zM65 3m1 0h1v2h-2v-1h1zM65 6h1v1h1v1h-2zM65 9m1 0h1v2h-2v-1h1zM65 12h1v1h-1zM65 15h1v2h-1zM65 18m1 0h1v2h-2v-1h1zM65 21h2v1h-2zM65 24h1v1h1v1h-2zM65 27h1v2h-1zM65 30h2v1h-2zM65 33h2v1h-2zM65 36h2v2h-1v-1h-1zM65 39h2v2h-1v-1h-1zM65 42h1v2h-1zM65 45h2v1h-2zM65 48h2v1h-1v1h-1zM65 52h2v1h-2zM65 55h1v2h-1zM65 58h1v2h-1zM65 61h2v1h-2zM65 64h1v1h-1zM65 67h1v1h1v1h-2zM65 70h1v2h-1zM65 73h2v2h-2zM65 76h2v2h-1v-1h-1zM65 79h1v2h-1zM65 82h1v2h-1zM65 85h2v1h-1v1h-1zM65 88h2v1h-1v1h-1zM65 91h1v2h-1zM65 94h2v1h-2zM65 97h2v2h-1v-1h-1zM68 2h1v1h-1zM68 5h1v2h-1zM68 8h1v2h-1zM68 11h1v1h-1zM68 14m1 0h1v2h-2v-1h1zM68 17h1v2h-1zM68 20h1v1h1v1h-2zM68 23h1v2h-1zM68 26h1v2h-1zM68 29h1v2h-1zM68 32h1v2h-1zM68 35h2v2h-1v-1h-1zM68 38h1v1h-1zM68 41h1v1h-1zM68 44h1v2h-1zM68 47h2v2h-1v-1h-1zM68 50h1v2h-1zM68 53h1v1h-1zM68 56h1v2h-1zM68 59h2v2h-1v-1h-1zM68 62h1v2h-1zM68 65h1v2h-1zM68 68h1v2h-1zM68 71h1v1h1v1h-2zM68 74h1v2h-1zM68 77h1v1h-1zM68 80h1v1h-1zM68 83h1v1h-1zM68 86h1v2h-1zM68 89h1v2h-1zM68 92h1v2h-1zM68 95h1v2h-1zM68 98h1v1h-1zM71 0h2v2h-1v-1h-1zM71 3h1v1h1v1h-2zM71 6h1v1h1v1h-2zM71 9h2v1h-1v1h-1zM71 12h2v1h-1v1h-1zM71 15h2v1h-2zM71 18h2v2h-1v-1h-1zM71 21h2v1h-2zM71 24h1v1h-1zM71 27h2v2h-1v-1h-1zM71 30h2v1h-1v1h-1zM71 33h1v2h-1zM71 36h1v2h-1zM71 39h1v2h-1zM71 42h1v2h-1zM71 45h2v1h-1v1h-1zM71 48h2v1h-2zM71 52h2v1h-2zM71 55h1v1h-1zM71 58h1v2h-1zM71 61h2v1h-1v1h-1zM71 64m1 0h1v2h-2v-1h1zM71 67h2v2h-1v-1h-1zM71 70h2v1h-2zM71 73m1 0h1v2h-2v-1h1zM71 76h2v1h-2zM71 79h1v2h-1zM71 82m1 0h1v2h-2v-1h1zM71 85h1v1h1v1h-2zM71 88h2v1h-2zM71 91h2v1h-2zM71 94m1 0h1v2h-2v-1h1zM71 97h2v1h-2zM74 2h1v2h-1zM74 5h1v2h-1zM74 8h1v1h-1zM74 11h1v1h-1zM74 14h1v1h-1zM74 17m1 0h1v2h-2v-1h1zM74 20h2v1h-1v1h-1zM74 23m1 0h1v2h-2v-1h1zM74 26h1v2h-1zM74 29h1v2h-1zM74 32h1v2h-1zM74 35h1v2h-1zM74 41h2v2h-1v-1h-1zM74 47h1v2h-1zM74 50h2v1h-1v1h-1zM74 53h1v2h-1zM74 59h1v1h-1zM74 62h1v1h-1zM74 65h1v1h-1zM74 68h1v2h-1zM74 71h1v2h-1zM74 74h1v1h-1zM74 77h1v2h-1zM74 80h1v2h-1zM74 83h1v2h-1zM74 86h1v2h-1zM74 89h2v2h-1v-1h-1zM74 92h1v2h-1zM74 95h1v1h-1zM74 98h1v2h-1zM78 0h1v1h1v1h-2zM78 3h2v2h-1v-1h-1zM78 6h2v2h-2zM78 9h2v1h-1v1h-1zM78 12m1 0h1v2h-2v-1h1zM78 15h2v2h-1v-1h-1zM78 18h2v1h-2zM78 21h2v1h-2zM78 24h2v2h-1v-1h-1zM78 27h2v2h-1v-1h-1zM78 30h1v2h-1zM78 33h2v1h-2zM78 36h1v1h1v1h-2zM78 39h2v2h-2zM78 42m1 0h1v2h-2v-1h1zM78 45h2v1h-2zM78 48h1v1h1v1h-2zM78 52h2v1h-2zM78 55h2v2h-1v-1h-1zM78 58h1v1h1v1h-2zM78 61m1 0h1v2h-2v-1h1zM78 64h2v1h-2zM78 67h1v1h-1zM78 70h1v1h-1zM78 73h1v2h-1zM78 76h2v2h-2zM78 79h1v1h1v1h-2zM78 82h2v1h-2zM78 85h2v2h-2zM78 88h2v1h-2zM78 91m1 0h1v2h-2v-1h1zM78 94h1v2h-1zM78 97h2v1h-1v1h-1zM81 2h1v2h-1zM81 5h1v2h-1zM81 8h1v2h-1zM81 11h1v1h1v1h-2zM81 14h1v1h-1zM81 17h1v2h-1zM81 20h1v2h-1zM81 23h1v2h-1zM81 26h1v2h-1zM81 29h1v2h-1zM81 32m1 0h1v2h-2v-1h1zM81 35h1v2h-1zM81 38h1v2h-1zM81 41h1v2h-1zM81 44h1v2h-1zM81 47h1v2h-1zM81 50h1v2h-1zM81 53h1v1h-1zM81 56h1v2h-1zM81 59h1v2h-1zM81 62m1 0h1v2h-2v-1h1zM81 65h1v1h-1zM81 68h1v1h-1zM81 71h1v1h-1zM81 74h1v1h-1zM81 77h1v2h-1zM81 80h1v2h-1zM81 83h1v2h-1zM81 86h1v2h-1zM81 89h1v2h-1zM81 92h1v2h-1zM81 95h1v2h-1z" fill="#000" shape-rendering="crispEdges"/></pattern>
<pattern id="p24" width="84" height="100" patternUnits="userSpaceOnUse"><path d="M0 0h2v2h-1v-1h-1zM0 3h1v1h-1zM0 6h2v1h-2zM0 9h2v2h-2zM0 12h1v1h-1zM0 15h2v1h-2zM0 18h2v1h-1v1h-1zM0 21h2v2h-2zM0 24h2v1h-2zM0 27h2v2h-2zM0 30m1 0h1v2h-2v-1h1zM0 33h2v2h-1v-1h-1zM0 36h2v1h-2zM0 39h1v1h1v1h-2zM0 42h1v1h-1zM0 45h2v1h-1v1h-1zM0 48h1v2h-1zM0 52h1v2h-1zM0 55h2v2h-1v-1h-1zM0 58h1v2h-1zM0 61m1 0h1v2h-2v-1h1zM0 64h1v2h-1zM0 67m1 0h1v2h-2v-1h1zM0 70h1v2h-1zM0 73h2v1h-2zM0 76h1v1h1v1h-2zM0 79h1v1h1v1h-2zM0 82h2v1h-2zM0 85h2v2h-2zM0 88h1v1h1v1h-2zM0 91h2v2h-2zM0 94h2v1h-2zM0 97h1v1h1v1h-2zM3 2h1v2h-1zM3 5h1v1h-1zM3 8h1v2h-1zM3 11h1v2h-1zM3 14h1v2h-1zM3 17h1v2h-1zM3 20h1v2h-1zM3 23h1v2h-1zM3 26h1v1h1v1h-2zM3 29h1v2h-1zM3 32h1v2h-1zM3 35h1v1h1v1h-2zM3 38h1v2h-1zM3 41h1v2h-1zM3 44h1v2h-1zM3 47h1v2h-1zM3 50h1v2h-1zM3 53h1v2h-1zM3 56h1v2h-1zM3 59h1v2h-1zM3 62h2v1h-1v1h-1zM3 65h1v2h-1zM3 68h1v2h-1zM3 71h1v2h-1zM3 74h1v1h1v1h-2zM3 77h1v2h-1zM3 80h1v2h-1zM3 83h1v1h-1zM3 86h1v2h-1zM3 89h2v2h-1v-1h-1zM3 92h1v2h-1zM3 95h1v1h-1zM3 98h1v1h1v1h-2zM6 0h2v1h-1v1h-1zM6 3h1v1h1v1h-2zM6 6h2v2h-1v-1h-1zM6 9h2v2h-2zM6 12h2v2h-1v-1h-1zM6 15h1v1h-1zM6 18h2v1h-2zM6 21m1 0h1v2h-2v-1h1zM6 24h2v2h-1v-1h-1zM6 27m1 0h1v2h-2v-1h1zM6 30h2v2h-2zM6 33h2v2h-2zM6 36h2v2h-2zM6 39h2v2h-1v-1h-1zM6 42h1v2h-1zM6 45h1v1h1v1h-2zM6 48h2v2h-1v-1h-1zM6 52h2v1h-1v1h-1zM6 55h1v1h1v1h-2zM6 58h2v2h-2zM6 61h2v2h-1v-1h-1zM6 64h1v1h1v1h-2zM6 67m1 0h1v2h-2v-1h1zM6 70h2v1h-2zM6 73m1 0h1v2h-2v-1h1zM6 76h2v1h-2zM6 79h1v1h1v1h-2zM6 82m1 0h1v2h-2v-1h1zM6 85h2v2h-2zM6 88h2v1h-2zM6 91h1v1h1v1h-2zM6 94h2v1h-1v1h-1zM6 97h2v1h-1v1h-1zM10 2h1v2h-1zM10 5h1v1h-1zM10 8h1v2h-1zM10 11h1v2h-1zM10 14h2v1h-1v1h-1zM10 17h2v2h-1v-1h-1zM10 20h1v2h-1zM10 23h1v2h-1zM10 26h1v2h-1zM10 29h1v1h-1zM10 32h1v2h-1zM10 35h1v1h-1zM10 38h1v2h-1zM10 41h1v2h-1zM10 44h1v2h-1zM10 47h1v2h-1zM10 50h1v2h-1zM10 53h1v2h-1zM10 56h2v2h-1v-1h-1zM10 59m1 0h1v2h-2v-1h1zM10 62h2v2h-1v-1h-1zM10 65h1v2h-1zM10 68h1v2h-1zM10 71m1 0h1v2h-2v-1h1zM10 74h1v2h-1zM10 77h1v2h-1zM10 80h1v1h-1zM10 83h1v2h-1zM10 86h1v1h-1zM10 89h1v2h-1zM10 92h1v1h1v1h-2zM10 95h2v1h-1v1h-1zM10 98h1v2h-1zM13 0h2v1h-2zM13 3h1v2h-1zM13 6h1v2h-1zM13 9h2v2h-2zM13 12h2v2h-2zM13 15h2v1h-2zM13 18h2v1h-1v1h-1zM13 21m1 0h1v2h-2v-1h1zM13 24h2v1h-1v1h-1zM13 27h1v2h-1zM13 30h1v1h1v1h-2zM13 33h1v2h-1zM13 36h2v1h-2zM13 39h1v1h1v1h-2zM13 42h2v2h-1v-1h-1zM13 45h1v2h-1zM13 48h2v2h-2zM13 52h2v1h-1v1h-1zM13 55h2v2h-1v-1h-1zM13 58h1v1h-1zM13 61h2v2h-2zM13 64h1v1h1v1h-2zM13 67h2v2h-1v-1h-1zM13 70m1 0h1v2h-2v-1h1zM13 73h2v2h-2zM13 76h2v1h-1v1h-1zM13 79h2v1h-1v1h-1zM13 82m1 0h1v2h-2v-1h1zM13 85h2v2h-1v-1h-1zM13 88h2v1h-1v1h-1zM13 91h2v1h-1v1h-1zM13 94h2v1h-1v1h-1zM13 97h1v2h-1zM16 2h1v2h-1zM16 5m1 0h1v2h-2v-1h1zM16 8m1 0h1v2h-2v-1h1zM16 11m1 0h1v2h-2v-1h1zM16 14h1v2h-1zM16 17m1 0h1v2h-2v-1h1zM16 20h1v2h-1zM16 23h1v1h1v1h-2zM16 26h1v2h-1zM16 29h1v2h-1zM16 32h1v1h1v1h-2zM16 35h1v2h-1zM16 38h1v2h-1zM16 41m1 0h1v2h-2v-1h1zM16 44h1v2h-1zM16 47h1v1h-1zM16 50h1v2h-1zM16 53h1v2h-1zM16 56h2v1h-1v1h-1zM16 59h1v1h1v1h-2zM16 62h1v2h-1zM16 65h1v2h-1zM16 68h1v1h-1zM16 71h1v2h-1zM16 74h2v2h-1v-1h-1zM16 77h1v2h-1zM16 80h1v1h1v1h-2zM16 83h1v2h-1zM16 86h1v2h-1zM16 89h1v1h-1zM16 92h1v2h-1zM16 95h1v2h-1zM16 98h1v2h-1zM19 0h2v1h-1v1h-1zM19 3m1 0h1v2h-2v-1h1zM19 6h2v2h-2zM19 9h2v1h-1v1h-1zM19 12m1 0h1v2h-2v-1h1zM19 15h2v2h-1v-1h-1zM19 18h2v2h-2zM19 21h2v2h-1v-1h-1zM19 24h1v2h-1zM19 27h1v1h-1zM19 30h1v1h1v1h-2zM19 33h2v1h-2zM19 36h2v1h-1v1h-1zM19 39m1 0h1v2h-2v-1h1zM19 42h2v2h-2zM19 45h2v1h-2zM19 48h1v1h1v1h-2zM19 52h2v2h-2zM19 55h1v2h-1zM19 58h2v2h-2zM19 61h1v2h-1zM19 64h2v2h-2zM19 67h1v1h1v1h-2zM19 70h2v2h-2zM19 73h2v2h-2zM19 76h2v1h-1v1h-1zM19 79h1v1h1v1h-2zM19 82h2v1h-2zM19 85m1 0h1v2h-2v-1h1zM19 88h1v2h-1zM19 91h2v2h-1v-1h-1zM19 94h2v1h-1v1h-1zM19 97h2v1h-1v1h-1zM23 2h1v1h1v1h-2zM23 5h1v2h-1zM23 8h1v1h-1zM23 11h1v2h-1zM23 14h1v2h-1zM23 17h1v2h-1zM23 20h1v2h-1zM23 23h1v2h-1zM23 26h1v2h-1zM23 29h1v2h-1zM23 32h1v2h-1zM23 35m1 0h1v2h-2v-1h1zM23 38h1v2h-1zM23 41h1v2h-1zM23 44h1v2h-1zM23 47h2v2h-1v-1h-1zM23 50h1v2h-1zM23 53h1v2h-1zM23 56h1v1h1v1h-2zM23 59h1v2h-1zM23 62h1v2h-1zM23 65h1v2h-1zM23 68h1v2h-1zM23 71h1v1h-1zM23 74h1v2h-1zM23 77h1v2h-1zM23 80h1v2h-1zM23 83h1v2h-1zM23 86h1v1h-1zM23 89h1v1h-1zM23 92h1v1h-1zM23 95m1 0h1v2h-2v-1h1zM23 98h1v1h-1zM26 0m1 0h1v2h-2v-1h1zM26 3h1v1h1v1h-2zM26 6h2v1h-2zM26 9h2v2h-1v-1h-1zM26 12h2v1h-1v1h-1zM26 15h1v1h-1zM26 18h2v1h-1v1h-1zM26 21h2v1h-1v1h-1zM26 24h2v1h-2zM26 27m1 0h1v2h-2v-1h1zM26 30h2v1h-1v1h-1zM26 33h1v1h1v1h-2zM26 36h1v2h-1zM26 39m1 0h1v2h-2v-1h1zM26 42h1v1h-1zM26 45h1v2h-1zM26 48h1v2h-1zM26 52h2v2h-1v-1h-1zM26 55h2v1h-2zM26 58h1v2h-1zM26 61m1 0h1v2h-2v-1h1zM26 64h2v2h-1v-1h-1zM26 67h2v2h-2zM26 70h1v1h1v1h-2zM26 73h1v1h1v1h-2zM26 76h2v1h-1v1h-1zM26 79h1v1h1v1h-2zM26 82m1 0h1v2h-2v-1h1zM26 85h2v1h-1v1h-1zM26 88h1v2h-1zM26 91m1 0h1v2h-2v-1h1zM26 94h2v2h-2zM26 97h1v1h1v1h-2zM29 2h1v2h-1zM29 5h1v2h-1zM29 8h1v2h-1zM29 11h2v2h-1v-1h-1zM29 14m1 0h1v2h-2v-1h1zM29 17h1v1h-1zM29 20h1v1h1v1h-2zM29 23h1v2h-1zM29 26m1 0h1v2h-2v-1h1zM29 29h1v2h-1zM29 32h1v2h-1zM29 35h1v2h-1zM29 38h1v2h-1zM29 41h1v1h1v1h-2zM29 44h1v2h-1zM29 47h1v2h-1zM29 50h1v2h-1zM29 53h1v1h-1zM29 56h1v2h-1zM29 59h1v2h-1zM29 62h1v2h-1zM29 65h1v2h-1zM29 68h1v2h-1zM29 71m1 0h1v2h-2v-1h1zM29 74h1v2h-1zM29 77h1v1h-1zM29 80h1v1h-1zM29 83h1v1h-1zM29 86h1v1h-1zM29 89h1v1h-1zM29 92h1v2h-1zM29 95h1v2h-1zM29 98h1v2h-1zM32 0h2v1h-2zM32 3h1v1h1v1h-2zM32 6h1v2h-1zM32 9h1v1h1v1h-2zM32 12h2v2h-2zM32 15h2v2h-1v-1h-1zM32 18h1v2h-1zM32 21h2v2h-1v-1h-1zM32 24h1v1h-1zM32 27h2v2h-2zM32 30h2v2h-2zM32 33h2v2h-1v-1h-1zM32 36h2v2h-1v-1h-1zM32 39m1 0h1v2h-2v-1h1zM32 42h1v1h1v1h-2zM32 45m1 0h1v2h-2v-1h1zM32 48h1v2h-1zM32 52h2v2h-1v-1h-1zM32 55h2v1h-1v1h-1zM32 58h2v1h-2zM32 61h2v2h-1v-1h-1zM32 64h1v1h1v1h-2zM32 67h2v1h-2zM32 70h2v2h-1v-1h-1zM32 73m1 0h1v2h-2v-1h1zM32 76h1v2h-1zM32 79h2v1h-2zM32 82h2v1h-2zM32 85h2v1h-2zM32 88h1v1h1v1h-2zM32 91h1v1h1v1h-2zM32 94h2v2h-2zM32 97h1v1h1v1h-2zM36 2h1v2h-1zM36 5h2v1h-1v1h-1zM36 8h1v2h-1zM36 11h1v2h-1zM36 14h1v1h-1zM36 17h1v2h-1zM36 20m1 0h1v2h-2v-1h1zM36 23m1 0h1v2h-2v-1h1zM36 26h1v2h-1zM36 29h1v1h1v1h-2zM36 32h1v1h-1zM36 35h1v2h-1zM36 38m1 0h1v2h-2v-1h1zM36 41h1v2h-1zM36 44h1v2h-1zM36 47h1v2h-1zM36 50h1v2h-1zM36 53h1v1h1v1h-2zM36 56h1v2h-1zM36 59h1v2h-1zM36 62h1v2h-1zM36 65h2v1h-1v1h-1zM36 68h1v2h-1zM36 71h1v2h-1zM36 74h1v2h-1zM36 77h1v2h-1zM36 80h1v2h-1zM36 83h1v2h-1zM36 86h1v2h-1zM36 89h1v2h-1zM36 92h1v2h-1zM36 95h1v1h1v1h-2zM36 98h1v2h-1zM39 0h2v2h-1v-1h-1zM39 3h1v2h-1zM39 6h2v2h-1v-1h-1zM39 9h2v2h-1v-1h-1zM39 12h2v1h-2zM39 15h2v1h-1v1h-1zM39 18h1v2h-1zM39 21h2v1h-2zM39 24h1v2h-1zM39 27h2v1h-2zM39 30h2v2h-2zM39 33h2v1h-1v1h-1zM39 36h2v2h-2zM39 39h1v1h1v1h-2zM39 42h2v1h-2zM39 45m1 0h1v2h-2v-1h1zM39 48h1v1h-1zM39 52h2v1h-2zM39 55h1v2h-1zM39 58h2v1h-1v1h-1zM39 61h1v2h-1zM39 64m1 0h1v2h-2v-1h1zM39 67h1v1h1v1h-2zM39 70h2v2h-2zM39 73h2v1h-2zM39 76h1v1h1v1h-2zM39 79h2v2h-1v-1h-1zM39 82m1 0h1v2h-2v-1h1zM39 85h2v2h-1v-1h-1zM39 88m1 0h1v2h-2v-1h1zM39 91m1 0h1v2h-2v-1h1zM39 94h2v1h-2zM39 97h2v2h-2zM42 2h1v2h-1zM42 5h1v2h-1zM42 8h2v2h-1v-1h-1zM42 11h1v2h-1zM42 14h1v2h-1zM42 17h2v2h-1v-1h-1zM42 20h1v1h-1zM42 23h1v2h-1zM42 26h1v2h-1zM42 29h1v2h-1zM42 32h1v2h-1zM42 35h1v2h-1zM42 38h1v2h-1zM42 41h1v1h-1zM42 44h1v2h-1zM42 47h1v1h-1zM42 50m1 0h1v2h-2v-1h1zM42 53h1v2h-1zM42 56h1v1h-1zM42 59h1v1h1v1h-2zM42 62h1v1h1v1h-2zM42 65h1v2h-1zM42 68h1v2h-1zM42 71h1v2h-1zM42 74h2v1h-1v1h-1zM42 77h2v2h-1v-1h-1zM42 80h1v1h-1zM42 83h1v2h-1zM42 86h1v2h-1zM42 89h1v2h-1zM42 92h1v1h-1zM42 95h1v2h-1zM42 98h1v1h-1zM45 0h1v1h-1zM45 3h2v2h-2zM45 6h2v1h-2zM45 9h2v1h-1v1h-1zM45 12h2v1h-1v1h-1zM45 15h1v2h-1zM45 18h1v2h-1zM45 21h1v2h-1zM45 24h1v1h1v1h-2zM45 27h2v2h-2zM45 30h2v2h-1v-1h-1zM45 33h2v1h-1v1h-1zM45 36h1v1h-1zM45 39h1v2h-1zM45 42h2v2h-1v-1h-1zM45 45h2v2h-1v-1h-1zM45 48h1v1h1v1h-2zM45 52h2v2h-1v-1h-1zM45 55h1v2h-1zM45 58h2v2h-1v-1h-1zM45 61h1v1h-1zM45 64h1v1h-1zM45 67h1v1h1v1h-2zM45 70h1v1h1v1h-2zM45 73h1v1h1v1h-2zM45 76h2v2h-1v-1h-1zM45 79h2v1h-1v1h-1zM45 82m1 0h1v2h-2v-1h1zM45 85h2v2h-2zM45 88h2v2h-1v-1h-1zM45 91h1v1h-1zM45 94h2v2h-1v-1h-1zM45 97h1v2h-1zM48 2h1v2h-1zM48 5h1v2h-1zM48 8h1v2h-1zM48 11h1v1h-1zM48 14h1v2h-1zM48 17h1v1h1v1h-2zM48 20h1v2h-1zM48 23h2v2h-1v-1h-1zM48 26h1v2h-1zM48 29h1v1h-1zM48 32h1v2h-1zM48 35h1v2h-1zM48 38m1 0h1v2h-2v-1h1zM48 41h2v1h-1v1h-1zM48 44h1v1h-1zM48 47h1v1h-1zM48 50h1v2h-1zM48 53h1v2h-1zM48 56h2v2h-1v-1h-1zM48 59h1v2h-1zM48 62h1v1h1v1h-2zM48 65h1v1h-1zM48 68h1v2h-1zM48 71h1v2h-1zM48 74h1v2h-1zM48 77h1v2h-1zM48 80h1v1h-1zM48 83h1v2h-1zM48 86h1v1h-1zM48 89h1v2h-1zM48 92h1v2h-1zM48 95h1v2h-1zM48 98h1v1h-1zM52 0h2v1h-1v1h-1zM52 3h2v1h-1v1h-1zM52 6m1 0h1v2h-2v-1h1zM52 9h2v1h-1v1h-1zM52 12h2v1h-1v1h-1zM52 15h2v1h-1v1h-1zM52 18h1v1h-1zM52 21h2v2h-1v-1h-1zM52 24h2v1h-1v1h-1zM52 27h2v2h-2zM52 30h2v1h-1v1h-1zM52 33h2v1h-2zM52 36h2v1h-2zM52 39h1v1h-1zM52 42h1v2h-1zM52 45h2v2h-2zM52 48h2v2h-2zM52 52h1v1h-1zM52 55h2v1h-2zM52 58h2v1h-2zM52 61h1v1h1v1h-2zM52 64h2v2h-2zM52 67h2v2h-2zM52 70h2v1h-2zM52 73h2v2h-2zM52 76h2v2h-1v-1h-1zM52 79h1v2h-1zM52 82h2v1h-2zM52 85h2v1h-1v1h-1zM52 88m1 0h1v2h-2v-1h1zM52 91h2v1h-2zM52 94h1v1h-1zM52 97h2v1h-2zM55 2h1v1h-1zM55 5h1v2h-1zM55 8h1v1h-1zM55 11h1v2h-1zM55 14h1v2h-1zM55 17h1v2h-1zM55 20h1v2h-1zM55 23h1v2h-1zM55 26h1v1h-1zM55 29h1v1h-1zM55 32h1v2h-1zM55 35h1v2h-1zM55 38h1v1h-1zM55 41h1v2h-1zM55 44h1v2h-1zM55 47h1v2h-1zM55 50h1v2h-1zM55 53m1 0h1v2h-2v-1h1zM55 56h1v1h1v1h-2zM55 59h1v2h-1zM55 62h2v2h-1v-1h-1zM55 65h1v2h-1zM55 68m1 0h1v2h-2v-1h1zM55 71h1v2h-1zM55 74h1v1h-1zM55 77h1v2h-1zM55 80h1v2h-1zM55 83h1v1h-1zM55 86h1v2h-1zM55 89h1v1h-1zM55 92h1v2h-1zM55 95h1v2h-1zM55 98h1v2h-1zM58 0h1v1h1v1h-2zM58 3h2v1h-2zM58 6h1v1h1v1h-2zM58 9h1v2h-1zM58 12h2v1h-1v1h-1zM58 15h2v1h-1v1h-1zM58 18h2v2h-2zM58 21h1v1h-1zM58 24m1 0h1v2h-2v-1h1zM58 27h2v2h-1v-1h-1zM58 30h2v1h-1v1h-1zM58 33h2v1h-1v1h-1zM58 36h2v1h-2zM58 39m1 0h1v2h-2v-1h1zM58 42h1v2h-1zM58 45h2v2h-1v-1h-1zM58 48h1v2h-1zM58 52h2v2h-1v-1h-1zM58 55h2v2h-1v-1h-1zM58 58h1v1h1v1h-2zM58 61h2v1h-1v1h-1zM58 64h2v2h-1v-1h-1zM58 67h1v1h-1zM58 70h1v2h-1zM58 73h1v1h1v1h-2zM58 76h1v1h1v1h-2zM58 79h1v2h-1zM58 82h1v1h-1zM58 85h2v2h-1v-1h-1zM58 88h1v2h-1zM58 91h2v1h-2zM58 94h2v1h-1v1h-1zM58 97h1v1h-1zM61 2h1v1h-1zM61 5h1v1h-1zM61 8h1v2h-1zM61 11m1 0h1v2h-2v-1h1zM61 14h1v1h-1zM61 17h1v1h-1zM61 20h1v2h-1zM61 23h1v2h-1zM61 26h1v2h-1zM61 29h1v2h-1zM61 32h1v2h-1zM61 35h2v2h-1v-1h-1zM61 38h1v2h-1zM61 41h1v2h-1zM61 44h1v2h-1zM61 47h1v1h1v1h-2zM61 50h1v1h-1zM61 53h1v2h-1zM61 56h1v2h-1zM61 59h1v2h-1zM61 62h1v2h-1zM61 65h1v2h-1zM61 68h1v1h-1zM61 71h1v1h-1zM61 74h1v1h-1zM61 77h1v1h-1zM61 80h1v1h-1zM61 83h1v2h-1zM61 86h1v2h-1zM61 89h1v1h-1zM61 92h1v1h1v1h-2zM61 95h1v2h-1zM61 98h1v1h-1zM65 0h2v1h-1v1h-1zM65 3h2v1h-2zM65 6h2v2h-1v-1h-1zM65 9h1v1h-1zM65 12h2v1h-2zM65 15h2v1h-2zM65 18h2v1h-1v1h-1zM65 21m1 0h1v2h-2v-1h1zM65 24m1 0h1v2h-2v-1h1zM65 27h2v1h-2zM65 30h2v2h-1v-1h-1zM65 33h1v1h1v1h-2zM65 36h2v2h-1v-1h-1zM65 39h2v2h-1v-1h-1zM65 42h1v1h1v1h-2zM65 45h1v2h-1zM65 48h2v1h-2zM65 52m1 0h1v2h-2v-1h1zM65 55m1 0h1v2h-2v-1h1zM65 58h2v2h-1v-1h-1zM65 61h1v1h1v1h-2zM65 64h1v1h1v1h-2zM65 67h1v1h1v1h-2zM65 70h1v1h1v1h-2zM65 73h1v1h1v1h-2zM65 76h2v2h-2zM65 79h2v2h-1v-1h-1zM65 82h2v1h-2zM65 85h2v1h-1v1h-1zM65 88m1 0h1v2h-2v-1h1zM65 91m1 0h1v2h-2v-1h1zM65 94h2v1h-2zM65 97h1v2h-1zM68 2h1v2h-1zM68 5h1v1h1v1h-2zM68 8h1v2h-1zM68 11h1v1h-1zM68 14h1v1h-1zM68 17h1v2h-1zM68 20h1v2h-1zM68 23h1v1h-1zM68 26h1v2h-1zM68 29h1v1h-1zM68 32h1v2h-1zM68 35m1 0h1v2h-2v-1h1zM68 38h1v2h-1zM68 41h1v2h-1zM68 44h2v2h-1v-1h-1zM68 47h1v2h-1zM68 50h1v2h-1zM68 53h1v2h-1zM68 56h1v2h-1zM68 59h1v2h-1zM68 62h1v1h1v1h-2zM68 65h1v1h-1zM68 68h1v2h-1zM68 71h1v1h-1zM68 74h2v1h-1v1h-1zM68 77h1v1h-1zM68 80h1v2h-1zM68 83h1v2h-1zM68 86h1v1h-1zM68 89h1v1h-1zM68 92h1v1h-1zM68 95h1v2h-1zM68 98h1v2h-1zM71 0h2v1h-2zM71 3h1v1h1v1h-2zM71 6h1v1h1v1h-2zM71 9h2v1h-2zM71 12h1v1h1v1h-2zM71 15h2v1h-1v1h-1zM71 18h1v1h-1zM71 21h1v1h1v1h-2zM71 24h2v1h-2zM71 27h2v2h-1v-1h-1zM71 30m1 0h1v2h-2v-1h1zM71 33h1v1h-1zM71 36h1v1h-1zM71 39h2v1h-1v1h-1zM71 42h1v2h-1zM71 45h1v1h1v1h-2zM71 48h2v2h-1v-1h-1zM71 52h2v1h-1v1h-1zM71 55h1v1h-1zM71 58h1v1h-1zM71 61h2v2h-2zM71 64h2v2h-2zM71 67m1 0h1v2h-2v-1h1zM71 70h2v1h-2zM71 73h2v2h-1v-1h-1zM71 76h2v2h-2zM71 79h1v2h-1zM71 82h2v2h-2zM71 85h2v1h-1v1h-1zM71 88h2v2h-2zM71 91h1v2h-1zM71 94h1v2h-1zM71 97h1v1h1v1h-2zM74 2h1v2h-1zM74 5h1v2h-1zM74 8h1v2h-1zM74 11h1v2h-1zM74 14h1v2h-1zM74 17h1v2h-1zM74 20h1v2h-1zM74 23h1v2h-1zM74 26h1v2h-1zM74 29h1v2h-1zM74 32h2v1h-1v1h-1zM74 35h1v2h-1zM74 38h1v2h-1zM74 41h1v2h-1zM74 44h2v2h-1v-1h-1zM74 47h1v1h-1zM74 50h1v2h-1zM74 53h2v2h-1v-1h-1zM74 56h1v1h-1zM74 59h1v2h-1zM74 62h1v1h-1zM74 65h1v2h-1zM74 68h1v2h-1zM74 71h2v2h-1v-1h-1zM74 74h1v2h-1zM74 77h1v2h-1zM74 80h1v1h1v1h-2zM74 83h1v1h-1zM74 86m1 0h1v2h-2v-1h1zM74 89h2v1h-1v1h-1zM74 92h1v1h-1zM74 95h1v2h-1zM74 98h1v1h-1zM78 0h1v1h-1zM78 3h1v1h1v1h-2zM78 6h2v2h-2zM78 9h1v1h1v1h-2zM78 12h1v2h-1zM78 15h1v1h1v1h-2zM78 18h2v2h-1v-1h-1zM78 21h2v1h-1v1h-1zM78 24h1v1h-1zM78 27h1v1h1v1h-2zM78 30h2v1h-1v1h-1zM78 33h2v1h-2zM78 36h1v1h-1zM78 39h1v1h-1zM78 42m1 0h1v2h-2v-1h1zM78 45h1v1h1v1h-2zM78 48h1v1h1v1h-2zM78 52h2v2h-2zM78 55h1v2h-1zM78 58m1 0h1v2h-2v-1h1zM78 61h2v1h-1v1h-1zM78 64h1v2h-1zM78 67h1v2h-1zM78 70h1v2h-1zM78 73h2v2h-1v-1h-1zM78 76h2v2h-2zM78 79h2v1h-2zM78 82h2v1h-2zM78 85h1v2h-1zM78 88h1v2h-1zM78 91h2v1h-2zM78 94h2v2h-2zM78 97h2v1h-1v1h-1zM81 2h2v1h-1v1h-1zM81 5h1v2h-1zM81 8h1v2h-1zM81 11m1 0h1v2h-2v-1h1zM81 14h1v2h-1zM81 17h1v2h-1zM81 20m1 0h1v2h-2v-1h1zM81 23h1v2h-1zM81 26h1v2h-1zM81 29h1v2h-1zM81 32h1v1h-1zM81 35h1v2h-1zM81 38h1v2h-1zM81 41h1v2h-1zM81 44h1v2h-1zM81 47h1v2h-1zM81 50h1v1h-1zM81 53h1v2h-1zM81 56h1v2h-1zM81 59h1v2h-1zM81 62h1v1h-1zM81 65h1v2h-1zM81 68h2v1h-1v1h-1zM81 71h1v1h1v1h-2zM81 74h1v2h-1zM81 77h1v2h-1zM81 80h1v1h-1zM81 83h2v1h-1v1h-1zM81 86h1v2h-1zM81 89h1v2h-1zM81 92m1 0h1v2h-2v-1h1zM81 95h1v1h1v1h-2zM81 98h1v2h-1z" fill="#000" shape-rendering="crispEdges"/></pattern>
<pattern id="p25" width="84" height="100" patternUnits="userSpaceOnUse"><path d="M0 0h2v1h-1v1h-1zM0 3h2v2h-1v-1h-1zM0 6h2v1h-1v1h-1zM0 9h2v2h-2zM0 12h2v2h-2zM0 15h2v2h-2zM0 18h1v1h1v1h-2zM0 21h2v1h-1v1h-1zM0 24h2v1h-1v1h-1zM0 27h2v1h-1v1h-1zM0 30h2v2h-2zM0 33h2v1h-2zM0 36m1 0h1v2h-2v-1h1zM0 39h2v2h-2zM0 42m1 0h1v2h-2v-1h1zM0 45h2v1h-1v1h-1zM0 48h1v2h-1zM0 52h2v2h-2zM0 55h1v1h1v1h-2zM0 58h2v1h-1v1h-1zM0 61h2v1h-2zM0 64h2v2h-1v-1h-1zM0 67m1 0h1v2h-2v-1h1zM0 70h2v2h-2zM0 73h1v1h1v1h-2zM0 76h2v1h-1v1h-1zM0 79h2v1h-2zM0 82h2v1h-2zM0 85h1v1h1v1h-2zM0 88h2v2h-1v-1h-1zM0 91h2v1h-2zM0 94h1v2h-1zM0 97h2v1h-2zM3 2h1v2h-1zM3 5h2v2h-2zM3 8h1v2h-1zM3 11h1v2h-1zM3 14h1v1h-1zM3 17h1v2h-1zM3 20h1v2h-1zM3 23h1v2h-1zM3 26h1v2h-1zM3 29h1v2h-1zM3 32h1v2h-1zM3 35h1v2h-1zM3 38h1v2h-1zM3 41h1v2h-1zM3 44h1v2h-1zM3 47h1v2h-1zM3 50h2v1h-1v1h-1zM3 53h1v1h-1zM3 56h1v2h-1zM3 59h2v2h-1v-1h-1zM3 62h1v2h-1zM3 65h1v2h-1zM3 68h1v1h-1zM3 71h1v1h1v1h-2zM3 74h2v2h-1v-1h-1zM3 77h1v1h1v1h-2zM3 80h1v2h-1zM3 83h1v2h-1zM3 86h1v1h-1zM3 89h1v1h-1zM3 92h1v2h-1zM3 95h1v2h-1zM3 98h1v2h-1zM6 0m1 0h1v2h-2v-1h1zM6 3h2v2h-2zM6 6m1 0h1v2h-2v-1h1zM6 9h1v1h1v1h-2zM6 12m1 0h1v2h-2v-1h1zM6 15h2v1h-1v1h-1zM6 18h1v2h-1zM6 21h2v2h-1v-1h-1zM6 24h2v1h-2zM6 27h2v2h-1v-1h-1zM6 30h1v2h-1zM6 33h2v2h-2zM6 36h2v1h-1v1h-1zM6 39h2v1h-2zM6 42h1v1h-1zM6 45h1v2h-1zM6 48h1v2h-1zM6 52h1v1h1v1h-2zM6 55h2v1h-1v1h-1zM6 58h2v1h-1v1h-1zM6 61h1v2h-1zM6 64h2v2h-1v-1h-1zM6 67h2v2h-1v-1h-1zM6 70h1v2h-1zM6 73h2v2h-2zM6 76h1v1h1v1h-2zM6 79h2v2h-2zM6 82h1v2h-1zM6 85h2v2h-2zM6 88h2v1h-1v1h-1zM6 91h2v1h-1v1h-1zM6 94h2v2h-1v-1h-1zM6 97m1 0h1v2h-2v-1h1zM10 2h1v2h-1zM10 5h1v2h-1zM10 8h1v2h-1zM10 11h1v2h-1zM10 14h1v2h-1zM10 17h1v1h-1zM10 20h1v2h-1zM10 23h1v2h-1zM10 26h1v1h-1zM10 29h1v2h-1zM10 32h2v1h-1v1h-1zM10 35h1v2h-1zM10 38h1v1h-1zM10 41h1v2h-1zM10 44h1v2h-1zM10 47h1v2h-1zM10 50h1v1h-1zM10 53h1v2h-1zM10 56h1v2h-1zM10 59h2v2h-1v-1h-1zM10 62h1v2h-1zM10 65h1v2h-1zM10 68h1v2h-1zM10 71h1v2h-1zM10 74h1v2h-1zM10 77h1v2h-1zM10 80h1v1h-1zM10 83h1v2h-1zM10 86h1v2h-1zM10 89m1 0h1v2h-2v-1h1zM10 92h1v2h-1zM10 95h1v1h-1zM10 98h2v2h-1v-1h-1zM13 0h1v1h-1zM13 3h2v1h-1v1h-1zM13 6h1v1h1v1h-2zM13 9m1 0h1v2h-2v-1h1zM13 12h2v1h-1v1h-1zM13 15h2v1h-1v1h-1zM13 18m1 0h1v2h-2v-1h1zM13 21m1 0h1v2h-2v-1h1zM13 24m1 0h1v2h-2v-1h1zM13 27h1v1h1v1h-2zM13 30h2v1h-2zM13 33h2v2h-2zM13 36h2v1h-2zM13 39h2v2h-2zM13 42m1 0h1v2h-2v-1h1zM13 45h2v2h-1v-1h-1zM13 48h1v1h1v1h-2zM13 52h2v2h-2zM13 55h1v1h1v1h-2zM13 58m1 0h1v2h-2v-1h1zM13 61m1 0h1v2h-2v-1h1zM13 64h2v2h-1v-1h-1zM13 67h2v2h-1v-1h-1zM13 70h2v1h-2zM13 73h2v2h-2zM13 76h1v1h1v1h-2zM13 79h1v1h1v1h-2zM13 82h2v2h-2zM13 85h2v2h-1v-1h-1zM13 88h2v1h-2zM13 91h2v2h-2zM13 94h2v2h-2zM13 97h2v1h-1v1h-1zM16 2h1v2h-1zM16 5h2v2h-1v-1h-1zM16 8h1v1h-1zM16 11h1v2h-1zM16 14h1v2h-1zM16 17m1 0h1v2h-2v-1h1zM16 20h1v1h-1zM16 23h1v2h-1zM16 26h1v2h-1zM16 29m1 0h1v2h-2v-1h1zM16 32h1v2h-1zM16 35h1v2h-1zM16 38h1v1h-1zM16 41h1v2h-1zM16 44h1v2h-1zM16 47h1v2h-1zM16 50h1v1h1v1h-2zM16 53h1v2h-1zM16 56h1v2h-1zM16 59h1v2h-1zM16 62h1v1h-1zM16 65h1v1h1v1h-2zM16 68h1v2h-1zM16 71h1v2h-1zM16 74h1v1h-1zM16 77m1 0h1v2h-2v-1h1zM16 80h1v2h-1zM16 83h2v2h-2zM16 86h1v2h-1zM16 89h2v1h-1v1h-1zM16 92h1v2h-1zM16 95h1v1h-1zM16 98h1v2h-1zM19 0h2v1h-2zM19 3h2v2h-2zM19 6m1 0h1v2h-2v-1h1zM19 9h1v2h-1zM19 12h1v1h-1zM19 15h2v1h-2zM19 18h1v2h-1zM19 21h1v1h1v1h-2zM19 24h2v2h-2zM19 27h2v1h-1v1h-1zM19 30h2v1h-1v1h-1zM19 33h1v2h-1zM19 36h2v1h-1v1h-1zM19 39h2v2h-2zM19 42h1v1h1v1h-2zM19 45h1v1h-1zM19 48h2v2h-1v-1h-1zM19 52h2v2h-2zM19 55h2v2h-2zM19 58h2v1h-1v1h-1zM19 61m1 0h1v2h-2v-1h1zM19 64m1 0h1v2h-2v-1h1zM19 67h1v1h-1zM19 70h2v2h-1v-1h-1zM19 73h2v2h-2zM19 76m1 0h1v2h-2v-1h1zM19 79h1v1h1v1h-2zM19 82h2v1h-1v1h-1zM19 85h2v1h-1v1h-1zM19 88m1 0h1v2h-2v-1h1zM19 91h2v1h-2zM19 94m1 0h1v2h-2v-1h1zM19 97h2v1h-2zM23 2h2v2h-2zM23 5h1v2h-1zM23 8h1v2h-1zM23 11h1v1h1v1h-2zM23 14h1v1h-1zM23 17h1v2h-1zM23 20h1v2h-1zM23 23h1v1h1v1h-2zM23 26h1v2h-1zM23 29h1v1h1v1h-2zM23 32h1v1h-1zM23 35h1v2h-1zM23 38h1v1h-1zM23 41h1v2h-1zM23 44h1v1h-1zM23 47h1v2h-1zM23 50h1v2h-1zM23 53h1v2h-1zM23 56h2v2h-2zM23 59h1v2h-1zM23 62h1v2h-1zM23 65h1v2h-1zM23 68h1v2h-1zM23 71h1v2h-1zM23 74h1v2h-1zM23 77h1v2h-1zM23 80h2v2h-1v-1h-1zM23 83m1 0h1v2h-2v-1h1zM23 86h1v2h-1zM23 89h1v2h-1zM23 92h2v2h-1v-1h-1zM23 95h1v2h-1zM23 98h1v2h-1zM26 0h1v1h1v1h-2zM26 3h2v1h-2zM26 6h2v1h-2zM26 9h2v1h-1v1h-1zM26 12m1 0h1v2h-2v-1h1zM26 15h2v2h-2zM26 18h2v2h-1v-1h-1zM26 21h2v2h-1v-1h-1zM26 24h2v2h-2zM26 27m1 0h1v2h-2v-1h1zM26 30h2v1h-2zM26 33h2v1h-1v1h-1zM26 36h2v2h-1v-1h-1zM26 39h2v1h-2zM26 42m1 0h1v2h-2v-1h1zM26 45h2v1h-1v1h-1zM26 48h2v2h-2zM26 52h2v2h-1v-1h-1zM26 55h2v1h-2zM26 58h2v1h-2zM26 61h1v2h-1zM26 64m1 0h1v2h-2v-1h1zM26 67h2v1h-2zM26 70h1v2h-1zM26 73h2v2h-1v-1h-1zM26 76h2v1h-2zM26 79h1v1h1v1h-2zM26 82h2v1h-2zM26 85h2v2h-2zM26 88h2v1h-2zM26 91h2v2h-1v-1h-1zM26 94h1v2h-1zM26 97h1v1h1v1h-2zM29 2h1v2h-1zM29 5h1v2h-1zM29 8h1v2h-1zM29 11h1v2h-1zM29 14h1v1h-1zM29 17h1v1h-1zM29 20h1v2h-1zM29 23h1v2h-1zM29 26h1v1h-1zM29 29h1v1h-1zM29 32h1v2h-1zM29 35h1v1h-1zM29 38h2v2h-1v-1h-1zM29 41h1v2h-1zM29 44h1v2h-1zM29 47h1v2h-1zM29 50h1v2h-1zM29 53h1v2h-1zM29 56h2v2h-2zM29 59h1v2h-1zM29 62h2v1h-1v1h-1zM29 65h1v2h-1zM29 68h1v2h-1zM29 71h1v1h-1zM29 74h1v2h-1zM29 77h1v2h-1zM29 80h1v2h-1zM29 83h1v2h-1zM29 86h1v2h-1zM29 89h1v2h-1zM29 92h1v2h-1zM29 95h1v2h-1zM29 98h1v1h-1zM32 0h1v1h1v1h-2zM32 3h2v1h-1v1h-1zM32 6h2v1h-1v1h-1zM32 9h1v1h-1zM32 12h1v2h-1zM32 15h2v1h-1v1h-1zM32 18h1v1h1v1h-2zM32 21h1v2h-1zM32 24h2v1h-2zM32 27m1 0h1v2h-2v-1h1zM32 30h2v1h-1v1h-1zM32 33h1v2h-1zM32 36h2v2h-2zM32 39h1v2h-1zM32 42h2v1h-2zM32 45h2v2h-2zM32 48h1v1h1v1h-2zM32 52h2v2h-2zM32 55h2v1h-2zM32 58m1 0h1v2h-2v-1h1zM32 61h1v1h1v1h-2zM32 64h1v2h-1zM32 67h2v2h-1v-1h-1zM32 70m1 0h1v2h-2v-1h1zM32 73h2v1h-1v1h-1zM32 76h2v1h-2zM32 79h2v2h-2zM32 82h2v2h-1v-1h-1zM32 85h1v2h-1zM32 88h2v2h-2zM32 91h2v1h-2zM32 94h2v2h-1v-1h-1zM32 97h2v2h-1v-1h-1zM36 2h1v2h-1zM36 5h1v1h-1zM36 8h1v2h-1zM36 11h1v2h-1zM36 14h1v1h-1zM36 17h1v2h-1zM36 20h1v2h-1zM36 23h1v2h-1zM36 26h1v2h-1zM36 29h1v1h-1zM36 32h1v2h-1zM36 35h1v2h-1zM36 38h1v2h-1zM36 41h2v2h-1v-1h-1zM36 44h1v1h1v1h-2zM36 47h1v1h-1zM36 50h1v2h-1zM36 53h1v2h-1zM36 56h1v1h-1zM36 59h1v2h-1zM36 62h1v2h-1zM36 65h1v2h-1zM36 68h1v1h-1zM36 71h1v2h-1zM36 74h1v2h-1zM36 77h1v2h-1zM36 80h1v1h-1zM36 83h1v2h-1zM36 86h2v1h-1v1h-1zM36 89h1v2h-1zM36 92h1v2h-1zM36 95h1v2h-1zM36 98h1v2h-1zM39 0h2v2h-2zM39 3h2v2h-1v-1h-1zM39 6h1v1h1v1h-2zM39 9h2v2h-1v-1h-1zM39 12m1 0h1v2h-2v-1h1zM39 15m1 0h1v2h-2v-1h1zM39 18h2v2h-2zM39 21h2v2h-2zM39 24h2v2h-1v-1h-1zM39 27h2v1h-1v1h-1zM39 30h2v2h-1v-1h-1zM39 33m1 0h1v2h-2v-1h1zM39 36h2v1h-2zM39 39m1 0h1v2h-2v-1h1zM39 42h2v1h-2zM39 45h2v1h-2zM39 48h2v1h-1v1h-1zM39 52h2v2h-1v-1h-1zM39 55h2v2h-1v-1h-1zM39 58h1v2h-1zM39 61h1v1h-1zM39 64h2v2h-1v-1h-1zM39 67h2v2h-1v-1h-1zM39 70m1 0h1v2h-2v-1h1zM39 73h2v1h-2zM39 76m1 0h1v2h-2v-1h1zM39 79h1v1h1v1h-2zM39 82h1v1h1v1h-2zM39 85h2v2h-2zM39 88h1v1h1v1h-2zM39 91h2v2h-1v-1h-1zM39 94m1 0h1v2h-2v-1h1zM39 97h2v2h-1v-1h-1zM42 2h1v2h-1zM42 5h1v2h-1zM42 8h1v1h1v1h-2zM42 11h2v2h-1v-1h-1zM42 14h1v2h-1zM42 17h1v1h-1zM42 20h1v2h-1zM42 23h2v2h-2zM42 26h1v2h-1zM42 29h2v2h-1v-1h-1zM42 32h1v2h-1zM42 35h1v1h-1zM42 38h1v2h-1zM42 41m1 0h1v2h-2v-1h1zM42 44h1v2h-1zM42 47h1v2h-1zM42 50h1v1h1v1h-2zM42 53h1v2h-1zM42 56h1v1h-1zM42 59h1v2h-1zM42 62h1v2h-1zM42 65h2v2h-1v-1h-1zM42 68h1v2h-1zM42 71h1v2h-1zM42 74h1v2h-1zM42 77h1v2h-1zM42 80h2v2h-1v-1h-1zM42 83h1v2h-1zM42 86h1v2h-1zM42 89h1v2h-1zM42 92h2v1h-1v1h-1zM42 95h1v2h-1zM42 98h1v2h-1zM45 0h2v1h-2zM45 3h2v2h-1v-1h-1zM45 6m1 0h1v2h-2v-1h1zM45 9h2v1h-1v1h-1zM45 12h2v1h-1v1h-1zM45 15h2v1h-1v1h-1zM45 18h1v1h1v1h-2zM45 21h2v2h-2zM45 24h1v2h-1zM45 27m1 0h1v2h-2v-1h1zM45 30h2v1h-2zM45 33h2v1h-2zM45 36h2v2h-1v-1h-1zM45 39m1 0h1v2h-2v-1h1zM45 42m1 0h1v2h-2v-1h1zM45 45h2v1h-1v1h-1zM45 48h1v2h-1zM45 52h2v1h-2zM45 55h1v1h1v1h-2zM45 58h2v1h-2zM45 61h1v2h-1zM45 64h2v1h-1v1h-1zM45 67h2v2h-2zM45 70h1v1h1v1h-2zM45 73m1 0h1v2h-2v-1h1zM45 76h2v1h-1v1h-1zM45 79h1v2h-1zM45 82h2v2h-2zM45 85h1v1h-1zM45 88h2v1h-1v1h-1zM45 91h2v1h-1v1h-1zM45 94h2v2h-1v-1h-1zM45 97m1 0h1v2h-2v-1h1zM48 2h1v2h-1zM48 5h1v2h-1zM48 8h1v1h-1zM48 11h1v1h-1zM48 14h1v2h-1zM48 17h1v2h-1zM48 20h1v1h-1zM48 23h1v2h-1zM48 26h1v2h-1zM48 29h1v2h-1zM48 32h1v2h-1zM48 35h1v1h-1zM48 38h1v1h-1zM48 41m1 0h1v2h-2v-1h1zM48 44h1v2h-1zM48 47h1v2h-1zM48 50h1v2h-1zM48 53h1v2h-1zM48 56h1v2h-1zM48 59h1v2h-1zM48 62m1 0h1v2h-2v-1h1zM48 65h1v2h-1zM48 68h1v1h-1zM48 71h1v1h-1zM48 74h2v2h-1v-1h-1zM48 77h1v1h-1zM48 80h1v1h1v1h-2zM48 83h1v2h-1zM48 86h1v2h-1zM48 89h2v1h-1v1h-1zM48 92h1v2h-1zM48 95h1v2h-1zM48 98h1v2h-1zM52 0h2v2h-2zM52 3h1v1h1v1h-2zM52 6h2v1h-2zM52 9h1v2h-1zM52 12h2v2h-2zM52 15h1v2h-1zM52 18h2v2h-2zM52 21h1v1h1v1h-2zM52 24m1 0h1v2h-2v-1h1zM52 27m1 0h1v2h-2v-1h1zM52 30h1v1h1v1h-2zM52 33h2v2h-1v-1h-1zM52 36h2v1h-2zM52 39h1v2h-1zM52 42h2v2h-2zM52 45m1 0h1v2h-2v-1h1zM52 48h1v1h-1zM52 52h2v2h-2zM52 55h2v2h-1v-1h-1zM52 58h2v2h-2zM52 61m1 0h1v2h-2v-1h1zM52 64h2v2h-1v-1h-1zM52 67h2v2h-1v-1h-1zM52 70h2v1h-1v1h-1zM52 73h1v1h1v1h-2zM52 76h2v1h-2zM52 79m1 0h1v2h-2v-1h1zM52 82h2v1h-1v1h-1zM52 85h1v2h-1zM52 88h2v2h-1v-1h-1zM52 91h2v2h-2zM52 94h2v1h-1v1h-1zM52 97h1v1h1v1h-2zM55 2h1v1h-1zM55 5h1v2h-1zM55 8h1v1h-1zM55 11h1v1h-1zM55 14h1v2h-1zM55 17h2v1h-1v1h-1zM55 20h2v2h-1v-1h-1zM55 23h1v2h-1zM55 26h1v2h-1zM55 29h1v2h-1zM55 32h2v2h-1v-1h-1zM55 35h1v2h-1zM55 38h2v1h-1v1h-1zM55 41h1v2h-1zM55 44h1v1h-1zM55 47h1v1h-1zM55 50h2v2h-1v-1h-1zM55 53h1v1h-1zM55 56h1v2h-1zM55 59m1 0h1v2h-2v-1h1zM55 62h1v2h-1zM55 65h1v2h-1zM55 68h1v2h-1zM55 71h1v2h-1zM55 74h1v2h-1zM55 77h1v2h-1zM55 80h1v1h-1zM55 83h1v1h1v1h-2zM55 86h2v1h-1v1h-1zM55 89h1v1h1v1h-2zM55 92h1v2h-1zM55 95h1v2h-1zM55 98h1v2h-1zM58 0h2v1h-1v1h-1zM58 3h2v2h-2zM58 6h1v1h-1zM58 9h2v2h-2zM58 12h2v1h-2zM58 15h2v1h-1v1h-1zM58 18h1v2h-1zM58 21h1v1h1v1h-2zM58 24h1v1h1v1h-2zM58 27h2v2h-2zM58 30m1 0h1v2h-2v-1h1zM58 33h2v1h-2zM58 36h2v2h-1v-1h-1zM58 39h2v2h-2zM58 42h2v1h-2zM58 45h1v1h1v1h-2zM58 48h2v1h-1v1h-1zM58 52m1 0h1v2h-2v-1h1zM58 55h2v2h-1v-1h-1zM58 58h2v2h-2zM58 61h1v1h1v1h-2zM58 64h2v1h-1v1h-1zM58 67m1 0h1v2h-2v-1h1zM58 70h1v1h1v1h-2zM58 73h1v1h1v1h-2zM58 76m1 0h1v2h-2v-1h1zM58 79h2v2h-2zM58 82h2v1h-2zM58 85h1v2h-1zM58 88h1v1h1v1h-2zM58 91h2v2h-2zM58 94h2v2h-2zM58 97h1v2h-1zM61 2h1v2h-1zM61 5h2v1h-1v1h-1zM61 8h1v1h1v1h-2zM61 11h1v1h1v1h-2zM61 14h1v2h-1zM61 17h2v1h-1v1h-1zM61 20h1v2h-1zM61 23h1v2h-1zM61 26h1v1h-1zM61 29h1v2h-1zM61 32h1v2h-1zM61 35h1v2h-1zM61 38h1v2h-1zM61 41m1 0h1v2h-2v-1h1zM61 44h1v2h-1zM61 47h2v1h-1v1h-1zM61 50h1v2h-1zM61 53h1v2h-1zM61 56h1v2h-1zM61 59h1v1h1v1h-2zM61 62h1v2h-1zM61 65h1v1h-1zM61 68h1v1h-1zM61 71h2v1h-1v1h-1zM61 74h1v2h-1zM61 77h1v1h-1zM61 80h1v2h-1zM61 83h2v1h-1v1h-1zM61 86h1v2h-1zM61 89h1v2h-1zM61 92h1v2h-1zM61 95m1 0h1v2h-2v-1h1zM61 98h1v2h-1zM65 0h2v1h-2zM65 3h2v2h-1v-1h-1zM65 6h2v1h-1v1h-1zM65 9h2v1h-1v1h-1zM65 12h2v2h-1v-1h-1zM65 15m1 0h1v2h-2v-1h1zM65 18h2v2h-2zM65 21h2v1h-1v1h-1zM65 24h1v2h-1zM65 27h2v2h-2zM65 30h2v2h-1v-1h-1zM65 33h2v2h-1v-1h-1zM65 36h1v2h-1zM65 39h2v2h-1v-1h-1zM65 42h1v2h-1zM65 45m1 0h1v2h-2v-1h1zM65 48h2v1h-1v1h-1zM65 52h2v1h-1v1h-1zM65 55h2v2h-1v-1h-1zM65 58h2v1h-2zM65 61h1v2h-1zM65 64m1 0h1v2h-2v-1h1zM65 67h2v1h-1v1h-1zM65 70h1v1h1v1h-2zM65 73h2v1h-1v1h-1zM65 76h2v1h-2zM65 79h2v2h-2zM65 82m1 0h1v2h-2v-1h1zM65 85h2v2h-2zM65 88h2v1h-1v1h-1zM65 91h1v2h-1zM65 94m1 0h1v2h-2v-1h1zM65 97h2v2h-1v-1h-1zM68 2h1v2h-1zM68 5h1v2h-1zM68 8h1v1h-1zM68 11h1v1h-1zM68 14h1v1h-1zM68 17h1v2h-1zM68 20h1v2h-1zM68 23h1v2h-1zM68 26h1v1h-1zM68 29h1v2h-1zM68 32h1v2h-1zM68 35h1v2h-1zM68 38m1 0h1v2h-2v-1h1zM68 41m1 0h1v2h-2v-1h1zM68 44h1v2h-1zM68 47h1v2h-1zM68 50h1v1h-1zM68 53h1v2h-1zM68 56h1v2h-1zM68 59h1v1h-1zM68 62h1v2h-1zM68 65h1v2h-1zM68 68h1v2h-1zM68 71h1v2h-1zM68 74h1v2h-1zM68 77m1 0h1v2h-2v-1h1zM68 80h2v1h-1v1h-1zM68 83h1v2h-1zM68 86h1v1h1v1h-2zM68 89h1v2h-1zM68 92h1v1h-1zM68 95h1v2h-1zM68 98h1v1h-1zM71 0h2v2h-1v-1h-1zM71 3m1 0h1v2h-2v-1h1zM71 6h1v2h-1zM71 9h1v2h-1zM71 12h2v2h-2zM71 15h1v1h1v1h-2zM71 18h1v2h-1zM71 21h2v2h-2zM71 24h1v1h1v1h-2zM71 27h2v2h-2zM71 30h1v2h-1zM71 33h2v1h-2zM71 36h1v1h1v1h-2zM71 39h2v1h-1v1h-1zM71 42m1 0h1v2h-2v-1h1zM71 45h2v2h-2zM71 48m1 0h1v2h-2v-1h1zM71 52h2v2h-2zM71 55h2v2h-2zM71 58h2v2h-2zM71 61h2v2h-1v-1h-1zM71 64h2v1h-1v1h-1zM71 67h2v2h-2zM71 70h1v1h1v1h-2zM71 73h2v2h-1v-1h-1zM71 76h2v1h-2zM71 79h2v2h-2zM71 82m1 0h1v2h-2v-1h1zM71 85h2v1h-2zM71 88h2v2h-2zM71 91h2v1h-1v1h-1zM71 94m1 0h1v2h-2v-1h1zM71 97h2v2h-1v-1h-1zM74 2h1v1h1v1h-2zM74 5h1v1h-1zM74 8h1v2h-1zM74 11h1v2h-1zM74 14h1v2h-1zM74 17m1 0h1v2h-2v-1h1zM74 20h1v2h-1zM74 23h2v2h-1v-1h-1zM74 26h1v2h-1zM74 29h2v1h-1v1h-1zM74 32h1v2h-1zM74 35h1v2h-1zM74 38h1v2h-1zM74 41h1v2h-1zM74 44h1v1h-1zM74 47m1 0h1v2h-2v-1h1zM74 50h1v2h-1zM74 53h1v1h1v1h-2zM74 56h1v2h-1zM74 59h1v2h-1zM74 62h1v1h-1zM74 65h1v2h-1zM74 68h1v2h-1zM74 71h1v1h1v1h-2zM74 74h1v2h-1zM74 77h1v1h-1zM74 80h1v2h-1zM74 83h1v2h-1zM74 86h1v2h-1zM74 89h1v2h-1zM74 92h1v2h-1zM74 95h1v2h-1zM74 98h1v1h-1zM78 0h1v2h-1zM78 3h2v1h-2zM78 6h2v2h-1v-1h-1zM78 9h1v1h1v1h-2zM78 12h2v2h-2zM78 15h2v2h-1v-1h-1zM78 18h2v2h-1v-1h-1zM78 21h2v2h-1v-1h-1zM78 24h1v2h-1zM78 27h2v1h-1v1h-1zM78 30h2v1h-2zM78 33m1 0h1v2h-2v-1h1zM78 36m1 0h1v2h-2v-1h1zM78 39h2v1h-2zM78 42h2v1h-1v1h-1zM78 45h1v1h-1zM78 48h1v1h1v1h-2zM78 52h2v1h-2zM78 55h2v1h-2zM78 58h1v2h-1zM78 61m1 0h1v2h-2v-1h1zM78 64h1v2h-1zM78 67h1v2h-1zM78 70h2v1h-1v1h-1zM78 73h2v2h-1v-1h-1zM78 76h2v2h-2zM78 79h1v2h-1zM78 82h2v1h-2zM78 85m1 0h1v2h-2v-1h1zM78 88h2v2h-1v-1h-1zM78 91m1 0h1v2h-2v-1h1zM78 94h1v2h-1zM78 97h1v2h-1zM81 2h1v2h-1zM81 5h1v2h-1zM81 8h1v1h-1zM81 11h1v2h-1zM81 14h1v1h-1zM81 17h1v2h-1zM81 20h1v2h-1zM81 23h1v2h-1zM81 26h1v1h-1zM81 29h1v2h-1zM81 32h1v2h-1zM81 35h1v2h-1zM81 38h2v1h-1v1h-1zM81 41h1v1h-1zM81 44h1v2h-1zM81 47h1v1h-1zM81 50h1v2h-1zM81 53h1v2h-1zM81 56h1v2h-1zM81 59h1v2h-1zM81 62h1v2h-1zM81 65h1v1h1v1h-2zM81 68h1v2h-1zM81 71h1v2h-1zM81 74h1v2h-1zM81 77h1v2h-1zM81 80h2v1h-1v1h-1zM81 83h1v1h-1zM81 86h1v2h-1zM81 89m1 0h1v2h-2v-1h1zM81 92h1v2h-1zM81 95h1v2h-1zM81 98h1v2h-1z" fill="#000" shape-rendering="crispEdges"/></pattern>
<pattern id="p26" width="84" height="100" patternUnits="userSpaceOnUse"><path d="M0 0h2v1h-2zM0 3m1 0h1v2h-2v-1h1zM0 6h1v2h-1zM0 9m1 0h1v2h-2v-1h1zM0 12h2v1h-2zM0 15h2v1h-1v1h-1zM0 18h1v2h-1zM0 21h1v1h1v1h-2zM0 24h2v2h-2zM0 27h1v1h1v1h-2zM0 30h1v1h1v1h-2zM0 33h1v1h-1zM0 36h2v1h-1v1h-1zM0 39h2v1h-1v1h-1zM0 42h2v2h-1v-1h-1zM0 45m1 0h1v2h-2v-1h1zM0 48h2v2h-1v-1h-1zM0 52m1 0h1v2h-2v-1h1zM0 55h1v1h1v1h-2zM0 58h2v1h-2zM0 61m1 0h1v2h-2v-1h1zM0 64h1v1h1v1h-2zM0 67h1v2h-1zM0 70h2v2h-2zM0 73h1v1h1v1h-2zM0 76h2v2h-2zM0 79m1 0h1v2h-2v-1h1zM0 82h1v1h1v1h-2zM0 85h2v1h-1v1h-1zM0 88h2v1h-2zM0 91h1v1h1v1h-2zM0 94m1 0h1v2h-2v-1h1zM0 97m1 0h1v2h-2v-1h1zM3 2h1v2h-1zM3 5h2v1h-1v1h-1zM3 8h1v2h-1zM3 11h1v2h-1zM3 14h1v2h-1zM3 17h1v1h1v1h-2zM3 20h2v1h-1v1h-1zM3 23h1v1h-1zM3 26h1v2h-1zM3 29h1v2h-1zM3 32h2v2h-2zM3 35h1v1h-1zM3 38m1 0h1v2h-2v-1h1zM3 41h1v2h-1zM3 44h1v2h-1zM3 47h1v2h-1zM3 50h1v1h1v1h-2zM3 53h1v2h-1zM3 56h1v2h-1zM3 59h1v2h-1zM3 62h1v2h-1zM3 65h1v2h-1zM3 68h1v2h-1zM3 71h1v2h-1zM3 74h1v2h-1zM3 77h1v2h-1zM3 80h1v2h-1zM3 83h1v2h-1zM3 86h1v2h-1zM3 89h1v2h-1zM3 92m1 0h1v2h-2v-1h1zM3 95h2v1h-1v1h-1zM3 98h1v2h-1zM6 0h2v1h-1v1h-1zM6 3h2v2h-1v-1h-1zM6 6h2v2h-1v-1h-1zM6 9h2v1h-1v1h-1zM6 12m1 0h1v2h-2v-1h1zM6 15h2v2h-2zM6 18h2v2h-2zM6 21h1v2h-1zM6 24h2v1h-2zM6 27h1v1h1v1h-2zM6 30h2v2h-2zM6 33h1v2h-1zM6 36h2v1h-1v1h-1zM6 39h2v1h-1v1h-1zM6 42h2v2h-1v-1h-1zM6 45h2v1h-1v1h-1zM6 48h2v2h-2zM6 52h2v1h-2zM6 55h1v1h1v1h-2zM6 58h2v2h-1v-1h-1zM6 61h2v2h-1v-1h-1zM6 64h2v1h-1v1h-1zM6 67h2v2h-1v-1h-1zM6 70h1v1h1v1h-2zM6 73m1 0h1v2h-2v-1h1zM6 76h2v1h-1v1h-1zM6 79h1v1h1v1h-2zM6 82h1v2h-1zM6 85h2v1h-2zM6 88h1v2h-1zM6 91h1v1h1v1h-2zM6 94m1 0h1v2h-2v-1h1zM6 97h1v1h1v1h-2zM10 2h1v2h-1zM10 5h1v2h-1zM10 8h1v2h-1zM10 11h2v2h-1v-1h-1zM10 14h1v2h-1zM10 17m1 0h1v2h-2v-1h1zM10 20h1v2h-1zM10 23h1v2h-1zM10 26h1v2h-1zM10 29h2v1h-1v1h-1zM10 32h1v2h-1zM10 35h1v1h-1zM10 38h1v1h-1zM10 41h1v2h-1zM10 44h1v2h-1zM10 47h1v2h-1zM10 50h1v2h-1zM10 53h2v1h-1v1h-1zM10 56h1v2h-1zM10 59h1v2h-1zM10 62h1v2h-1zM10 65h2v2h-1v-1h-1zM10 68h1v2h-1zM10 71h2v2h-1v-1h-1zM10 74h1v1h-1zM10 77m1 0h1v2h-2v-1h1zM10 80h1v1h-1zM10 83h1v1h-1zM10 86h1v2h-1zM10 89h1v1h1v1h-2zM10 92h1v2h-1zM10 95h1v1h-1zM10 98h2v2h-1v-1h-1zM13 0h2v1h-2zM13 3h1v1h1v1h-2zM13 6h2v1h-1v1h-1zM13 9m1 0h1v2h-2v-1h1zM13 12m1 0h1v2h-2v-1h1zM13 15m1 0h1v2h-2v-1h1zM13 18h1v1h1v1h-2zM13 21h1v1h1v1h-2zM13 24m1 0h1v2h-2v-1h1zM13 27h2v1h-2zM13 30h2v1h-2zM13 33h1v1h1v1h-2zM13 36h2v2h-1v-1h-1zM13 39h1v2h-1zM13 42h2v2h-1v-1h-1zM13 45h2v2h-1v-1h-1zM13 48h1v1h1v1h-2zM13 52m1 0h1v2h-2v-1h1zM13 55h2v2h-2zM13 58h2v1h-2zM13 61h2v2h-1v-1h-1zM13 64h1v1h1v1h-2zM13 67h2v1h-1v1h-1zM13 70h2v1h-2zM13 73h2v2h-2zM13 76h1v1h1v1h-2zM13 79h2v2h-1v-1h-1zM13 82h1v2h-1zM13 85h2v1h-2zM13 88h2v1h-1v1h-1zM13 91h2v2h-2zM13 94h1v1h1v1h-2zM13 97h2v1h-1v1h-1zM16 2h1v2h-1zM16 5h1v2h-1zM16 8h1v2h-1zM16 11h1v1h-1zM16 14h1v2h-1zM16 17h1v2h-1zM16 20m1 0h1v2h-2v-1h1zM16 23h1v2h-1zM16 26h1v2h-1zM16 29h1v2h-1zM16 32h1v2h-1zM16 35h1v2h-1zM16 38h1v1h-1zM16 41h1v2h-1zM16 44h1v2h-1zM16 47h2v2h-1v-1h-1zM16 50h1v2h-1zM16 53h1v2h-1zM16 56h1v2h-1zM16 59h1v2h-1zM16 62h2v2h-2zM16 65h2v2h-2zM16 68h1v2h-1zM16 71h1v2h-1zM16 74h2v1h-1v1h-1zM16 77h1v1h1v1h-2zM16 80h1v1h-1zM16 83h1v1h-1zM16 86m1 0h1v2h-2v-1h1zM16 89h1v1h1v1h-2zM16 92h1v1h1v1h-2zM16 95h1v2h-1zM16 98h1v2h-1zM19 0h2v1h-2zM19 3h2v1h-1v1h-1zM19 6h1v1h1v1h-2zM19 9h2v2h-2zM19 12h2v1h-1v1h-1zM19 15h2v1h-1v1h-1zM19 18h2v1h-1v1h-1zM19 21h1v2h-1zM19 24h2v2h-1v-1h-1zM19 27m1 0h1v2h-2v-1h1zM19 30m1 0h1v2h-2v-1h1zM19 33h1v1h1v1h-2zM19 36h2v2h-2zM19 39m1 0h1v2h-2v-1h1zM19 42m1 0h1v2h-2v-1h1zM19 45h2v2h-2zM19 48h2v2h-2zM19 52h1v1h-1zM19 55h1v2h-1zM19 58h2v2h-2zM19 61h2v2h-1v-1h-1zM19 64h2v2h-1v-1h-1zM19 67h2v2h-2zM19 70h2v1h-1v1h-1zM19 73h2v1h-2zM19 76h1v2h-1zM19 79h1v1h1v1h-2zM19 82h2v2h-2zM19 85h2v1h-1v1h-1zM19 88h2v2h-2zM19 91m1 0h1v2h-2v-1h1zM19 94h2v1h-2zM19 97h2v1h-2zM23 2h1v1h1v1h-2zM23 5h1v2h-1zM23 8h1v2h-1zM23 11h1v1h-1zM23 14h1v2h-1zM23 17h1v2h-1zM23 20h1v1h1v1h-2zM23 23m1 0h1v2h-2v-1h1zM23 26h1v2h-1zM23 29h1v2h-1zM23 32h1v2h-1zM23 35h1v1h1v1h-2zM23 38h1v2h-1zM23 41m1 0h1v2h-2v-1h1zM23 44h1v1h1v1h-2zM23 47h1v2h-1zM23 50h1v2h-1zM23 53h1v2h-1zM23 56h2v2h-1v-1h-1zM23 59h1v1h1v1h-2zM23 62h1v2h-1zM23 65h1v1h-1zM23 68h1v2h-1zM23 71h1v2h-1zM23 74h1v1h-1zM23 77h1v2h-1zM23 80h1v1h-1zM23 83h1v1h1v1h-2zM23 86h1v2h-1zM23 89h1v2h-1zM23 92h1v1h-1zM23 95h1v2h-1zM23 98h1v1h-1zM26 0h2v1h-1v1h-1zM26 3h1v2h-1zM26 6h2v2h-2zM26 9h1v1h1v1h-2zM26 12h2v2h-2zM26 15h1v1h1v1h-2zM26 18h2v1h-1v1h-1zM26 21h2v2h-1v-1h-1zM26 24m1 0h1v2h-2v-1h1zM26 27h2v2h-1v-1h-1zM26 30h2v2h-2zM26 33h1v1h1v1h-2zM26 36h1v1h1v1h-2zM26 39m1 0h1v2h-2v-1h1zM26 42h1v1h1v1h-2zM26 45m1 0h1v2h-2v-1h1zM26 48h1v1h1v1h-2zM26 52h2v1h-1v1h-1zM26 55h2v1h-1v1h-1zM26 58h1v1h1v1h-2zM26 61h1v1h1v1h-2zM26 64h2v1h-1v1h-1zM26 67h1v2h-1zM26 70m1 0h1v2h-2v-1h1zM26 73h2v1h-2zM26 76h2v2h-2zM26 79h2v1h-2zM26 82h2v1h-1v1h-1zM26 85h2v1h-1v1h-1zM26 88h1v2h-1zM26 91h2v2h-1v-1h-1zM26 94h1v2h-1zM26 97h2v1h-2zM29 2h1v2h-1zM29 5h1v2h-1zM29 8h1v2h-1zM29 11h1v2h-1zM29 14h1v2h-1zM29 17h1v2h-1zM29 20h1v1h-1zM29 23h1v1h-1zM29 26h1v1h-1zM29 29h1v1h-1zM29 32h1v1h1v1h-2zM29 35h1v2h-1zM29 38h1v2h-1zM29 41h2v2h-2zM29 44m1 0h1v2h-2v-1h1zM29 47h1v2h-1zM29 50m1 0h1v2h-2v-1h1zM29 53h1v1h-1zM29 56h1v1h-1zM29 59h1v1h-1zM29 62h2v1h-1v1h-1zM29 65h2v1h-1v1h-1zM29 68h1v1h-1zM29 71h2v2h-2zM29 74h1v2h-1zM29 77h1v2h-1zM29 80h1v2h-1zM29 83h1v1h-1zM29 86h1v1h-1zM29 89h1v1h1v1h-2zM29 92h1v1h-1zM29 95h1v2h-1zM29 98h1v2h-1zM32 0h2v2h-2zM32 3h2v2h-2zM32 6h2v1h-1v1h-1zM32 9h1v2h-1zM32 12h2v2h-1v-1h-1zM32 15h2v2h-2zM32 18h2v1h-2zM32 21h2v1h-1v1h-1zM32 24h2v1h-1v1h-1zM32 27h2v1h-1v1h-1zM32 30h2v1h-2zM32 33h2v2h-2zM32 36h2v2h-1v-1h-1zM32 39h2v2h-1v-1h-1zM32 42m1 0h1v2h-2v-1h1zM32 45h2v2h-2zM32 48h2v1h-2zM32 52h2v2h-1v-1h-1zM32 55h2v2h-2zM32 58m1 0h1v2h-2v-1h1zM32 61m1 0h1v2h-2v-1h1zM32 64h1v1h1v1h-2zM32 67m1 0h1v2h-2v-1h1zM32 70h2v1h-2zM32 73h2v2h-2zM32 76h2v1h-1v1h-1zM32 79h2v2h-2zM32 82h1v2h-1zM32 85h1v1h1v1h-2zM32 88m1 0h1v2h-2v-1h1zM32 91h2v1h-1v1h-1zM32 94h2v1h-1v1h-1zM32 97m1 0h1v2h-2v-1h1zM36 2h1v2h-1zM36 5h1v2h-1zM36 8h1v2h-1zM36 11h1v1h-1zM36 14h1v2h-1zM36 17h1v2h-1zM36 20h2v1h-1v1h-1zM36 23h1v1h-1zM36 26h1v1h-1zM36 29h2v1h-1v1h-1zM36 32h1v2h-1zM36 35h1v2h-1zM36 38h2v2h-2zM36 41h2v1h-1v1h-1zM36 44h1v1h-1zM36 47h1v2h-1zM36 50h1v2h-1zM36 53h2v1h-1v1h-1zM36 56m1 0h1v2h-2v-1h1zM36 59h1v2h-1zM36 62h1v1h-1zM36 65h1v2h-1zM36 68h1v2h-1zM36 71h1v2h-1zM36 74h1v2h-1zM36 77h1v1h-1zM36 80h1v2h-1zM36 83h1v2h-1zM36 86h1v1h-1zM36 89h1v2h-1zM36 92h1v2h-1zM36 95h1v1h1v1h-2zM36 98h1v2h-1zM39 0h2v2h-1v-1h-1zM39 3h1v1h1v1h-2zM39 6h1v1h1v1h-2zM39 9m1 0h1v2h-2v-1h1zM39 12h2v1h-2zM39 15h1v2h-1zM39 18h2v1h-2zM39 21h2v1h-2zM39 24h2v2h-1v-1h-1zM39 27h2v1h-1v1h-1zM39 30h2v1h-1v1h-1zM39 33h2v1h-2zM39 36h2v2h-2zM39 39h2v1h-1v1h-1zM39 42h2v1h-1v1h-1zM39 45h2v2h-2zM39 48h2v1h-1v1h-1zM39 52m1 0h1v2h-2v-1h1zM39 55h2v1h-1v1h-1zM39 58h2v1h-1v1h-1zM39 61m1 0h1v2h-2v-1h1zM39 64h2v1h-1v1h-1zM39 67h2v2h-1v-1h-1zM39 70h2v1h-2zM39 73h1v1h-1zM39 76h2v2h-1v-1h-1zM39 79h1v2h-1zM39 82h1v2h-1zM39 85h1v1h1v1h-2zM39 88m1 0h1v2h-2v-1h1zM39 91h2v2h-2zM39 94m1 0h1v2h-2v-1h1zM39 97h2v1h-1v1h-1zM42 2h1v2h-1zM42 5m1 0h1v2h-2v-1h1zM42 8h1v2h-1zM42 11h1v1h-1zM42 14h1v2h-1zM42 17h2v2h-2zM42 20h1v1h-1zM42 23h1v2h-1zM42 26h1v2h-1zM42 29h1v2h-1zM42 32h1v2h-1zM42 35h1v1h-1zM42 38h1v2h-1zM42 41h1v2h-1zM42 44h1v2h-1zM42 47m1 0h1v2h-2v-1h1zM42 50h1v2h-1zM42 53h1v1h1v1h-2zM42 56h1v1h1v1h-2zM42 59h1v2h-1zM42 62h1v1h-1zM42 65h1v2h-1zM42 68m1 0h1v2h-2v-1h1zM42 71h1v1h-1zM42 74h2v1h-1v1h-1zM42 77h2v1h-1v1h-1zM42 80m1 0h1v2h-2v-1h1zM42 83h1v2h-1zM42 86h1v2h-1zM42 89h1v2h-1zM42 92h2v1h-1v1h-1zM42 95h1v2h-1zM42 98h1v2h-1zM45 0h1v2h-1zM45 3h2v1h-2zM45 6h2v2h-2zM45 9h2v2h-2zM45 12h2v1h-2zM45 15m1 0h1v2h-2v-1h1zM45 18m1 0h1v2h-2v-1h1zM45 21h1v1h1v1h-2zM45 24h2v1h-1v1h-1zM45 27m1 0h1v2h-2v-1h1zM45 30h2v2h-2zM45 33h1v1h1v1h-2zM45 36h1v2h-1zM45 39m1 0h1v2h-2v-1h1zM45 42m1 0h1v2h-2v-1h1zM45 45h2v2h-2zM45 48h1v1h1v1h-2zM45 52m1 0h1v2h-2v-1h1zM45 55h2v2h-1v-1h-1zM45 58h2v2h-2zM45 61h2v2h-2zM45 64m1 0h1v2h-2v-1h1zM45 67h1v2h-1zM45 70h1v1h1v1h-2zM45 73h2v1h-1v1h-1zM45 76h2v1h-1v1h-1zM45 79m1 0h1v2h-2v-1h1zM45 82m1 0h1v2h-2v-1h1zM45 85h2v1h-1v1h-1zM45 88h2v1h-2zM45 91h2v1h-1v1h-1zM45 94h1v1h1v1h-2zM45 97h2v2h-1v-1h-1zM48 2h1v2h-1zM48 5h1v2h-1zM48 8h1v2h-1zM48 11h1v2h-1zM48 14m1 0h1v2h-2v-1h1zM48 17h2v2h-1v-1h-1zM48 20h1v1h-1zM48 23h1v2h-1zM48 26h2v2h-2zM48 29h1v1h-1zM48 32h2v2h-1v-1h-1zM48 35h1v2h-1zM48 38h2v2h-2zM48 41h1v2h-1zM48 44m1 0h1v2h-2v-1h1zM48 47h1v1h1v1h-2zM48 50h1v1h1v1h-2zM48 53h1v2h-1zM48 56h1v2h-1zM48 59h1v1h-1zM48 62h1v2h-1zM48 65h1v2h-1zM48 68h2v2h-1v-1h-1zM48 71h1v2h-1zM48 74h1v2h-1zM48 77h1v2h-1zM48 80h1v1h-1zM48 83h1v2h-1zM48 86h1v1h1v1h-2zM48 89h1v2h-1zM48 92h2v2h-1v-1h-1zM48 95h1v2h-1zM48 98h2v2h-1v-1h-1zM52 0h1v1h1v1h-2zM52 3h2v1h-1v1h-1zM52 6h2v2h-2zM52 9h2v2h-2zM52 12h2v1h-1v1h-1zM52 15m1 0h1v2h-2v-1h1zM52 18h1v2h-1zM52 21m1 0h1v2h-2v-1h1zM52 24h1v2h-1zM52 27m1 0h1v2h-2v-1h1zM52 30m1 0h1v2h-2v-1h1zM52 33h1v1h1v1h-2zM52 36h2v1h-2zM52 39h2v2h-1v-1h-1zM52 42h1v1h1v1h-2zM52 45h1v1h1v1h-2zM52 48h2v2h-2zM52 52h1v2h-1zM52 55m1 0h1v2h-2v-1h1zM52 58h2v2h-2zM52 61h2v1h-2zM52 64h2v2h-1v-1h-1zM52 67m1 0h1v2h-2v-1h1zM52 70h1v1h1v1h-2zM52 73m1 0h1v2h-2v-1h1zM52 76h1v1h1v1h-2zM52 79h1v1h1v1h-2zM52 82h2v2h-2zM52 85h2v2h-2zM52 88h1v1h1v1h-2zM52 91m1 0h1v2h-2v-1h1zM52 94h2v1h-2zM52 97h2v2h-2zM55 2m1 0h1v2h-2v-1h1zM55 5h1v1h-1zM55 8h1v2h-1zM55 11h1v1h1v1h-2zM55 14h1v1h-1zM55 17h1v2h-1zM55 20h1v2h-1zM55 23h1v2h-1zM55 26h1v2h-1zM55 29h1v1h1v1h-2zM55 32h1v1h-1zM55 35h1v2h-1zM55 38h1v2h-1zM55 41h1v2h-1zM55 44h1v2h-1zM55 47h1v2h-1zM55 50h1v2h-1zM55 53h1v2h-1zM55 56h1v2h-1zM55 59h1v2h-1zM55 62h1v2h-1zM55 65h1v1h-1zM55 68m1 0h1v2h-2v-1h1zM55 71h1v2h-1zM55 74h2v1h-1v1h-1zM55 77h1v2h-1zM55 80h1v2h-1zM55 83h2v2h-2zM55 86h2v1h-1v1h-1zM55 89h1v2h-1zM55 92h1v2h-1zM55 95h1v2h-1zM55 98h1v2h-1zM58 0h1v1h1v1h-2zM58 3h2v1h-1v1h-1zM58 6h2v2h-2zM58 9h2v2h-2zM58 12h2v2h-2zM58 15h2v1h-1v1h-1zM58 18h2v2h-1v-1h-1zM58 21h1v2h-1zM58 24h1v2h-1zM58 27h2v2h-2zM58 30h2v1h-1v1h-1zM58 33m1 0h1v2h-2v-1h1zM58 36h1v1h1v1h-2zM58 39h2v1h-2zM58 42h2v2h-2zM58 45h2v2h-1v-1h-1zM58 48h2v1h-2zM58 52m1 0h1v2h-2v-1h1zM58 55h2v2h-2zM58 58h1v1h1v1h-2zM58 61h2v2h-2zM58 64m1 0h1v2h-2v-1h1zM58 67h1v1h1v1h-2zM58 70h2v1h-1v1h-1zM58 73h2v2h-1v-1h-1zM58 76m1 0h1v2h-2v-1h1zM58 79h2v2h-2zM58 82h2v2h-2zM58 85h1v1h1v1h-2zM58 88h2v1h-1v1h-1zM58 91h1v1h-1zM58 94h2v2h-2zM58 97h1v1h1v1h-2zM61 2h1v2h-1zM61 5h1v1h1v1h-2zM61 8h1v2h-1zM61 11h1v2h-1zM61 14h1v2h-1zM61 17h1v2h-1zM61 20h1v2h-1zM61 23h1v1h-1zM61 26h1v2h-1zM61 29h1v2h-1zM61 32h1v2h-1zM61 35h1v2h-1zM61 38h1v1h-1zM61 41h2v1h-1v1h-1zM61 44h1v1h-1zM61 47h1v2h-1zM61 50h1v2h-1zM61 53h1v2h-1zM61 56h1v1h-1zM61 59h1v2h-1zM61 62h1v2h-1zM61 65m1 0h1v2h-2v-1h1zM61 68h1v2h-1zM61 71h1v2h-1zM61 74h1v1h-1zM61 77h1v2h-1zM61 80h1v2h-1zM61 83h1v2h-1zM61 86h1v2h-1zM61 89h1v2h-1zM61 92h1v2h-1zM61 95h1v1h-1zM61 98h1v1h-1zM65 0h1v1h1v1h-2zM65 3h1v1h-1zM65 6h1v1h1v1h-2zM65 9h1v1h1v1h-2zM65 12m1 0h1v2h-2v-1h1zM65 15h2v2h-1v-1h-1zM65 18h2v1h-1v1h-1zM65 21h2v2h-1v-1h-1zM65 24h1v2h-1zM65 27h1v1h1v1h-2zM65 30m1 0h1v2h-2v-1h1zM65 33h1v1h1v1h-2zM65 36h2v2h-2zM65 39h2v2h-2zM65 42h1v1h1v1h-2zM65 45h2v1h-2zM65 48h2v2h-2zM65 52h2v2h-2zM65 55h2v2h-1v-1h-1zM65 58m1 0h1v2h-2v-1h1zM65 61h2v2h-2zM65 64h2v1h-1v1h-1zM65 67h2v1h-1v1h-1zM65 70h2v2h-1v-1h-1zM65 73h2v2h-2zM65 76h1v2h-1zM65 79m1 0h1v2h-2v-1h1zM65 82h2v1h-1v1h-1zM65 85h1v2h-1zM65 88h2v2h-2zM65 91h1v2h-1zM65 94h2v2h-1v-1h-1zM65 97h2v1h-2zM68 2h1v2h-1zM68 5h2v2h-1v-1h-1zM68 8h1v2h-1zM68 11h1v2h-1zM68 14h1v1h1v1h-2zM68 17h1v2h-1zM68 20h1v2h-1zM68 23h1v1h1v1h-2zM68 26h2v2h-2zM68 29h1v2h-1zM68 32h2v2h-1v-1h-1zM68 35m1 0h1v2h-2v-1h1zM68 38h1v2h-1zM68 41h1v2h-1zM68 44h1v1h-1zM68 47h1v2h-1zM68 50m1 0h1v2h-2v-1h1zM68 53h1v1h-1zM68 56h1v2h-1zM68 59h1v2h-1zM68 62m1 0h1v2h-2v-1h1zM68 65h1v1h-1zM68 68h1v2h-1zM68 71h2v2h-1v-1h-1zM68 74h1v2h-1zM68 77h1v2h-1zM68 80h1v2h-1zM68 83h2v2h-1v-1h-1zM68 86h1v2h-1zM68 89h1v2h-1zM68 92h1v1h-1zM68 95h1v2h-1zM68 98m1 0h1v2h-2v-1h1zM71 0h2v1h-2zM71 3h1v1h1v1h-2zM71 6h2v2h-2zM71 9h2v2h-2zM71 12h2v2h-2zM71 15h2v1h-1v1h-1zM71 18h2v1h-1v1h-1zM71 21h2v1h-1v1h-1zM71 24h2v1h-1v1h-1zM71 27h2v1h-2zM71 30h2v1h-1v1h-1zM71 33h2v2h-2zM71 36h2v2h-1v-1h-1zM71 39h2v2h-2zM71 42h1v1h1v1h-2zM71 45h2v1h-2zM71 48h2v2h-2zM71 52m1 0h1v2h-2v-1h1zM71 55h2v2h-1v-1h-1zM71 58h2v1h-2zM71 61h2v2h-2zM71 64h1v2h-1zM71 67h1v1h1v1h-2zM71 70m1 0h1v2h-2v-1h1zM71 73h2v1h-1v1h-1zM71 76h2v2h-1v-1h-1zM71 79h1v1h-1zM71 82m1 0h1v2h-2v-1h1zM71 85h2v2h-1v-1h-1zM71 88m1 0h1v2h-2v-1h1zM71 91h2v1h-1v1h-1zM71 94h2v2h-1v-1h-1zM71 97h2v1h-2zM74 2h2v2h-1v-1h-1zM74 5h1v2h-1zM74 8h1v2h-1zM74 11h1v2h-1zM74 14h1v2h-1zM74 17h1v2h-1zM74 20m1 0h1v2h-2v-1h1zM74 23m1 0h1v2h-2v-1h1zM74 26h2v2h-1v-1h-1zM74 29h1v2h-1zM74 32h1v2h-1zM74 35h1v2h-1zM74 38h1v2h-1zM74 41h1v1h-1zM74 44h1v1h-1zM74 47h2v2h-1v-1h-1zM74 50h1v2h-1zM74 53h1v1h-1zM74 56h1v2h-1zM74 59h1v2h-1zM74 62h2v1h-1v1h-1zM74 65m1 0h1v2h-2v-1h1zM74 68h1v2h-1zM74 71h1v2h-1zM74 74h1v2h-1zM74 77h1v2h-1zM74 80h2v1h-1v1h-1zM74 83h2v1h-1v1h-1zM74 86h1v2h-1zM74 89h1v2h-1zM74 92h1v1h-1zM74 95h1v2h-1zM74 98h1v1h-1zM78 0h2v2h-2zM78 3h2v2h-1v-1h-1zM78 6h2v2h-2zM78 9h2v1h-2zM78 12m1 0h1v2h-2v-1h1zM78 15h1v1h-1zM78 18h2v1h-1v1h-1zM78 21h2v1h-1v1h-1zM78 24h2v1h-2zM78 27h2v2h-1v-1h-1zM78 30m1 0h1v2h-2v-1h1zM78 33m1 0h1v2h-2v-1h1zM78 36h2v2h-2zM78 39h1v2h-1zM78 42m1 0h1v2h-2v-1h1zM78 45h2v2h-1v-1h-1zM78 48h1v2h-1zM78 52h2v1h-2zM78 55m1 0h1v2h-2v-1h1zM78 58h2v2h-2zM78 61h2v2h-2zM78 64h2v1h-1v1h-1zM78 67h2v2h-2zM78 70h2v2h-1v-1h-1zM78 73h2v1h-1v1h-1zM78 76m1 0h1v2h-2v-1h1zM78 79h2v2h-1v-1h-1zM78 82h1v1h-1zM78 85h2v2h-2zM78 88h2v2h-2zM78 91h2v2h-1v-1h-1zM78 94h1v1h1v1h-2zM78 97h1v2h-1zM81 2h1v2h-1zM81 5h1v2h-1zM81 8h1v2h-1zM81 11h1v1h1v1h-2zM81 14h1v2h-1zM81 17h1v2h-1zM81 20h1v2h-1zM81 23h1v2h-1zM81 26m1 0h1v2h-2v-1h1zM81 29h1v1h1v1h-2zM81 32h1v1h1v1h-2zM81 35h1v1h-1zM81 38h1v2h-1zM81 41h1v2h-1zM81 44h2v1h-1v1h-1zM81 47h1v2h-1zM81 50h1v1h-1zM81 53h1v2h-1zM81 56h1v2h-1zM81 59h2v1h-1v1h-1zM81 62h1v2h-1zM81 65h1v2h-1zM81 68h1v2h-1zM81 71h1v2h-1zM81 74h1v2h-1zM81 77h1v2h-1zM81 80h1v1h-1zM81 83h1v2h-1zM81 86h1v2h-1zM81 89h1v2h-1zM81 92h2v1h-1v1h-1zM81 95h1v2h-1zM81 98h1v1h1v1h-2z" fill="#000" shape-rendering="crispEdges"/></pattern>
</defs>
<g filter="url(#thr)">
<rect width="1778" height="1387" fill="#fff"/>
<g stroke="#000" stroke-width="2.15" stroke-dasharray="2.8 3.78" fill="none">
<path d="M340.39 222.40 L1628.75 240.10"/>
<path d="M339.17 369.60 L1627.50 387.00"/>
<path d="M337.96 516.00 L1626.25 533.00"/>
<path d="M336.75 661.90 L1625.01 679.00"/>
<path d="M335.52 810.00 L1623.75 827.00"/>
</g>
<path d="M352.25 958.22 L355.80 529.77 L405.20 530.43 L401.65 958.83 Z" fill="#fff"/><path d="M352.25 958.22 L355.80 529.77 L405.20 530.43 L401.65 958.83 Z" fill="url(#p25)"/><path d="M353.55 958.22 L357.10 530.77" stroke="#000" stroke-width="2.8" fill="none"/><path d="M355.80 530.87 L405.20 531.53" stroke="#000" stroke-width="2.2" fill="none"/><path d="M404.00 530.43 L400.45 958.83" stroke="#000" stroke-width="2.4" fill="none"/>
<path d="M438.76 959.29 L441.70 604.07 L491.10 604.73 L488.15 959.90 Z" fill="#fff"/><path d="M438.76 959.29 L441.70 604.07 L491.10 604.73 L488.15 959.90 Z" fill="url(#p26)"/><path d="M440.06 959.29 L443.00 605.07" stroke="#000" stroke-width="2.8" fill="none"/><path d="M441.70 605.17 L491.10 605.83" stroke="#000" stroke-width="2.2" fill="none"/><path d="M489.90 604.73 L486.95 959.90" stroke="#000" stroke-width="2.4" fill="none"/>
<path d="M526.59 960.37 L533.20 164.97 L581.90 165.63 L575.28 960.97 Z" fill="#fff"/><path d="M526.59 960.37 L533.20 164.97 L581.90 165.63 L575.28 960.97 Z" fill="url(#p14)"/><path d="M527.89 960.37 L534.50 165.97" stroke="#000" stroke-width="2.8" fill="none"/><path d="M533.20 166.07 L581.90 166.73" stroke="#000" stroke-width="2.2" fill="none"/><path d="M580.70 165.63 L574.08 960.97" stroke="#000" stroke-width="2.4" fill="none"/>
<path d="M611.77 961.42 L616.55 387.07 L665.95 387.73 L661.16 962.03 Z" fill="#fff"/><path d="M611.77 961.42 L616.55 387.07 L665.95 387.73 L661.16 962.03 Z" fill="url(#p12)"/><path d="M613.07 961.42 L617.85 388.07" stroke="#000" stroke-width="2.8" fill="none"/><path d="M616.55 388.17 L665.95 388.83" stroke="#000" stroke-width="2.2" fill="none"/><path d="M664.75 387.73 L659.96 962.03" stroke="#000" stroke-width="2.4" fill="none"/>
<path d="M697.46 962.48 L702.25 388.07 L751.65 388.73 L746.85 963.09 Z" fill="#fff"/><path d="M697.46 962.48 L702.25 388.07 L751.65 388.73 L746.85 963.09 Z" fill="url(#p19)"/><path d="M698.76 962.48 L703.55 389.07" stroke="#000" stroke-width="2.8" fill="none"/><path d="M702.25 389.17 L751.65 389.83" stroke="#000" stroke-width="2.2" fill="none"/><path d="M750.45 388.73 L745.65 963.09" stroke="#000" stroke-width="2.4" fill="none"/>
<path d="M783.48 963.54 L786.20 638.08 L834.70 638.72 L831.97 964.14 Z" fill="#fff"/><path d="M783.48 963.54 L786.20 638.08 L834.70 638.72 L831.97 964.14 Z" fill="url(#p14)"/><path d="M784.78 963.54 L787.50 639.08" stroke="#000" stroke-width="2.8" fill="none"/><path d="M786.20 639.18 L834.70 639.82" stroke="#000" stroke-width="2.2" fill="none"/><path d="M833.50 638.72 L830.77 964.14" stroke="#000" stroke-width="2.4" fill="none"/>
<path d="M869.35 964.60 L874.20 384.97 L922.80 385.63 L917.94 965.20 Z" fill="#fff"/><path d="M869.35 964.60 L874.20 384.97 L922.80 385.63 L917.94 965.20 Z" fill="url(#p4)"/><path d="M870.65 964.60 L875.50 385.97" stroke="#000" stroke-width="2.8" fill="none"/><path d="M874.20 386.07 L922.80 386.73" stroke="#000" stroke-width="2.2" fill="none"/><path d="M921.60 385.63 L916.74 965.20" stroke="#000" stroke-width="2.4" fill="none"/>
<path d="M954.55 965.66 L956.95 678.97 L1006.35 679.63 L1003.94 966.27 Z" fill="#fff"/><path d="M954.55 965.66 L956.95 678.97 L1006.35 679.63 L1003.94 966.27 Z" fill="url(#p20)"/><path d="M955.85 965.66 L958.25 679.97" stroke="#000" stroke-width="2.8" fill="none"/><path d="M956.95 680.07 L1006.35 680.73" stroke="#000" stroke-width="2.2" fill="none"/><path d="M1005.15 679.63 L1002.74 966.27" stroke="#000" stroke-width="2.4" fill="none"/>
<path d="M1040.20 966.71 L1043.65 555.47 L1093.05 556.13 L1089.59 967.32 Z" fill="#fff"/><path d="M1040.20 966.71 L1043.65 555.47 L1093.05 556.13 L1089.59 967.32 Z" fill="url(#p24)"/><path d="M1041.50 966.71 L1044.95 556.47" stroke="#000" stroke-width="2.8" fill="none"/><path d="M1043.65 556.57 L1093.05 557.23" stroke="#000" stroke-width="2.2" fill="none"/><path d="M1091.85 556.13 L1088.39 967.32" stroke="#000" stroke-width="2.4" fill="none"/>
<path d="M1125.52 967.77 L1127.90 684.57 L1177.30 685.23 L1174.91 968.38 Z" fill="#fff"/><path d="M1125.52 967.77 L1127.90 684.57 L1177.30 685.23 L1174.91 968.38 Z" fill="url(#p17)"/><path d="M1126.82 967.77 L1129.20 685.57" stroke="#000" stroke-width="2.8" fill="none"/><path d="M1127.90 685.67 L1177.30 686.33" stroke="#000" stroke-width="2.2" fill="none"/><path d="M1176.10 685.23 L1173.71 968.38" stroke="#000" stroke-width="2.4" fill="none"/>
<path d="M1211.09 968.82 L1215.55 439.57 L1264.95 440.23 L1260.48 969.43 Z" fill="#fff"/><path d="M1211.09 968.82 L1215.55 439.57 L1264.95 440.23 L1260.48 969.43 Z" fill="url(#p22)"/><path d="M1212.39 968.82 L1216.85 440.57" stroke="#000" stroke-width="2.8" fill="none"/><path d="M1215.55 440.67 L1264.95 441.33" stroke="#000" stroke-width="2.2" fill="none"/><path d="M1263.75 440.23 L1259.28 969.43" stroke="#000" stroke-width="2.4" fill="none"/>
<path d="M1297.03 969.88 L1299.30 701.17 L1348.70 701.83 L1346.42 970.49 Z" fill="#fff"/><path d="M1297.03 969.88 L1299.30 701.17 L1348.70 701.83 L1346.42 970.49 Z" fill="url(#p25)"/><path d="M1298.33 969.88 L1300.60 702.17" stroke="#000" stroke-width="2.8" fill="none"/><path d="M1299.30 702.27 L1348.70 702.93" stroke="#000" stroke-width="2.2" fill="none"/><path d="M1347.50 701.83 L1345.22 970.49" stroke="#000" stroke-width="2.4" fill="none"/>
<path d="M1381.93 970.93 L1384.95 614.47 L1434.35 615.13 L1431.33 971.54 Z" fill="#fff"/><path d="M1381.93 970.93 L1384.95 614.47 L1434.35 615.13 L1431.33 971.54 Z" fill="url(#p24)"/><path d="M1383.23 970.93 L1386.25 615.47" stroke="#000" stroke-width="2.8" fill="none"/><path d="M1384.95 615.57 L1434.35 616.23" stroke="#000" stroke-width="2.2" fill="none"/><path d="M1433.15 615.13 L1430.13 971.54" stroke="#000" stroke-width="2.4" fill="none"/>
<path d="M1467.90 971.99 L1470.25 694.77 L1519.65 695.43 L1517.29 972.60 Z" fill="#fff"/><path d="M1467.90 971.99 L1470.25 694.77 L1519.65 695.43 L1517.29 972.60 Z" fill="url(#p25)"/><path d="M1469.20 971.99 L1471.55 695.77" stroke="#000" stroke-width="2.8" fill="none"/><path d="M1470.25 695.87 L1519.65 696.53" stroke="#000" stroke-width="2.2" fill="none"/><path d="M1518.45 695.43 L1516.09 972.60" stroke="#000" stroke-width="2.4" fill="none"/>
<path d="M1554.09 973.06 L1556.85 648.67 L1606.25 649.33 L1603.49 973.67 Z" fill="#fff"/><path d="M1554.09 973.06 L1556.85 648.67 L1606.25 649.33 L1603.49 973.67 Z" fill="url(#p24)"/><path d="M1555.39 973.06 L1558.15 649.67" stroke="#000" stroke-width="2.8" fill="none"/><path d="M1556.85 649.77 L1606.25 650.43" stroke="#000" stroke-width="2.2" fill="none"/><path d="M1605.05 649.33 L1602.29 973.67" stroke="#000" stroke-width="2.4" fill="none"/>
<g stroke="#000" fill="none">
<path d="M330.00 75.75 L1630.00 93.00" stroke-width="2"/>
<path d="M341.60 74.90 L334.18 972.00" stroke-width="2.7"/>
<path d="M1630.00 92.00 L1622.38 987.90" stroke-width="2.4"/>
<path d="M323.00 957.86 L1622.50 973.90" stroke-width="2.2"/>
<path d="M330.60 75.76 L348.60 75.99" stroke-width="2.0"/>
<path d="M334.99 149.07 L346.99 149.23" stroke-width="1.8"/>
<path d="M329.39 222.26 L347.39 222.49" stroke-width="2.0"/>
<path d="M333.78 295.92 L345.78 296.08" stroke-width="1.8"/>
<path d="M328.17 369.46 L346.17 369.69" stroke-width="2.0"/>
<path d="M332.56 442.72 L344.56 442.88" stroke-width="1.8"/>
<path d="M326.96 515.86 L344.96 516.09" stroke-width="2.0"/>
<path d="M331.35 588.87 L343.35 589.03" stroke-width="1.8"/>
<path d="M325.75 661.76 L343.75 661.99" stroke-width="2.0"/>
<path d="M330.14 735.87 L342.14 736.03" stroke-width="1.8"/>
<path d="M324.52 809.86 L342.52 810.09" stroke-width="2.0"/>
<path d="M328.91 883.92 L340.91 884.08" stroke-width="1.8"/>
<path d="M323.30 957.86 L341.30 958.09" stroke-width="2.0"/>
<path d="M420.30 946.06 L420.07 974.06" stroke-width="2.2"/>
<path d="M507.40 947.14 L507.17 975.14" stroke-width="2.2"/>
<path d="M593.80 948.20 L593.57 976.20" stroke-width="2.2"/>
<path d="M679.50 949.26 L679.27 977.26" stroke-width="2.2"/>
<path d="M765.40 950.32 L765.17 978.32" stroke-width="2.2"/>
<path d="M851.00 951.38 L850.77 979.38" stroke-width="2.2"/>
<path d="M937.10 952.44 L936.87 980.44" stroke-width="2.2"/>
<path d="M1022.40 953.49 L1022.17 981.49" stroke-width="2.2"/>
<path d="M1108.40 954.55 L1108.17 982.55" stroke-width="2.2"/>
<path d="M1193.50 955.60 L1193.27 983.60" stroke-width="2.2"/>
<path d="M1278.50 956.65 L1278.27 984.65" stroke-width="2.2"/>
<path d="M1364.50 957.71 L1364.27 985.71" stroke-width="2.2"/>
<path d="M1450.30 958.77 L1450.07 986.77" stroke-width="2.2"/>
<path d="M1536.00 959.83 L1535.77 987.83" stroke-width="2.2"/>
</g>
<text x="310.1" y="87.8" font-size="40" text-anchor="end" transform="rotate(0.73 310.1 87.8)">30</text>
<text x="308.9" y="234.3" font-size="40" text-anchor="end" transform="rotate(0.73 308.9 234.3)">25</text>
<text x="307.7" y="381.5" font-size="40" text-anchor="end" transform="rotate(0.73 307.7 381.5)">20</text>
<text x="306.5" y="527.9" font-size="40" text-anchor="end" transform="rotate(0.73 306.5 527.9)">15</text>
<text x="305.3" y="673.8" font-size="40" text-anchor="end" transform="rotate(0.73 305.3 673.8)">10</text>
<text x="304.0" y="821.9" font-size="40" text-anchor="end" transform="rotate(0.73 304.0 821.9)">5</text>
<text x="302.8" y="969.9" font-size="40" text-anchor="end" transform="rotate(0.73 302.8 969.9)">0</text>
<text x="372.8" y="1007.5" font-size="40" text-anchor="middle" transform="rotate(0.73 372.8 1007.5)">1</text>
<text x="459.2" y="1008.6" font-size="40" text-anchor="middle" transform="rotate(0.73 459.2 1008.6)">2</text>
<text x="546.0" y="1009.7" font-size="40" text-anchor="middle" transform="rotate(0.73 546.0 1009.7)">3</text>
<text x="632.0" y="1010.7" font-size="40" text-anchor="middle" transform="rotate(0.73 632.0 1010.7)">4</text>
<text x="717.8" y="1011.8" font-size="40" text-anchor="middle" transform="rotate(0.73 717.8 1011.8)">5</text>
<text x="803.6" y="1012.8" font-size="40" text-anchor="middle" transform="rotate(0.73 803.6 1012.8)">6</text>
<text x="889.5" y="1013.9" font-size="40" text-anchor="middle" transform="rotate(0.73 889.5 1013.9)">7</text>
<text x="975.2" y="1015.0" font-size="40" text-anchor="middle" transform="rotate(0.73 975.2 1015.0)">8</text>
<text x="1060.8" y="1016.0" font-size="40" text-anchor="middle" transform="rotate(0.73 1060.8 1016.0)">9</text>
<text x="1146.4" y="1017.1" font-size="40" text-anchor="middle" transform="rotate(0.73 1146.4 1017.1)">10</text>
<text x="1231.4" y="1018.1" font-size="40" text-anchor="middle" transform="rotate(0.73 1231.4 1018.1)">11</text>
<text x="1316.9" y="1019.2" font-size="40" text-anchor="middle" transform="rotate(0.73 1316.9 1019.2)">12</text>
<text x="1402.8" y="1020.2" font-size="40" text-anchor="middle" transform="rotate(0.73 1402.8 1020.2)">13</text>
<text x="1488.6" y="1021.3" font-size="40" text-anchor="middle" transform="rotate(0.73 1488.6 1021.3)">14</text>
<text x="1574.7" y="1022.4" font-size="40" text-anchor="middle" transform="rotate(0.73 1574.7 1022.4)">15</text>
<text x="978.5" y="1060.5" font-size="40" text-anchor="middle" transform="rotate(0.73 978.5 1060.5)">Building No.</text>
<text x="248.6" y="514" font-size="39.3" text-anchor="middle" transform="rotate(-89.520 248.6 514)">Actual occupancy (m2/person)</text>
<text x="126.6" y="1225.4" font-size="40.3" transform="rotate(0.6 126.6 1225.4)">Figure 10 Measured office population densities</text>
</g>
</svg>
</body></html>
